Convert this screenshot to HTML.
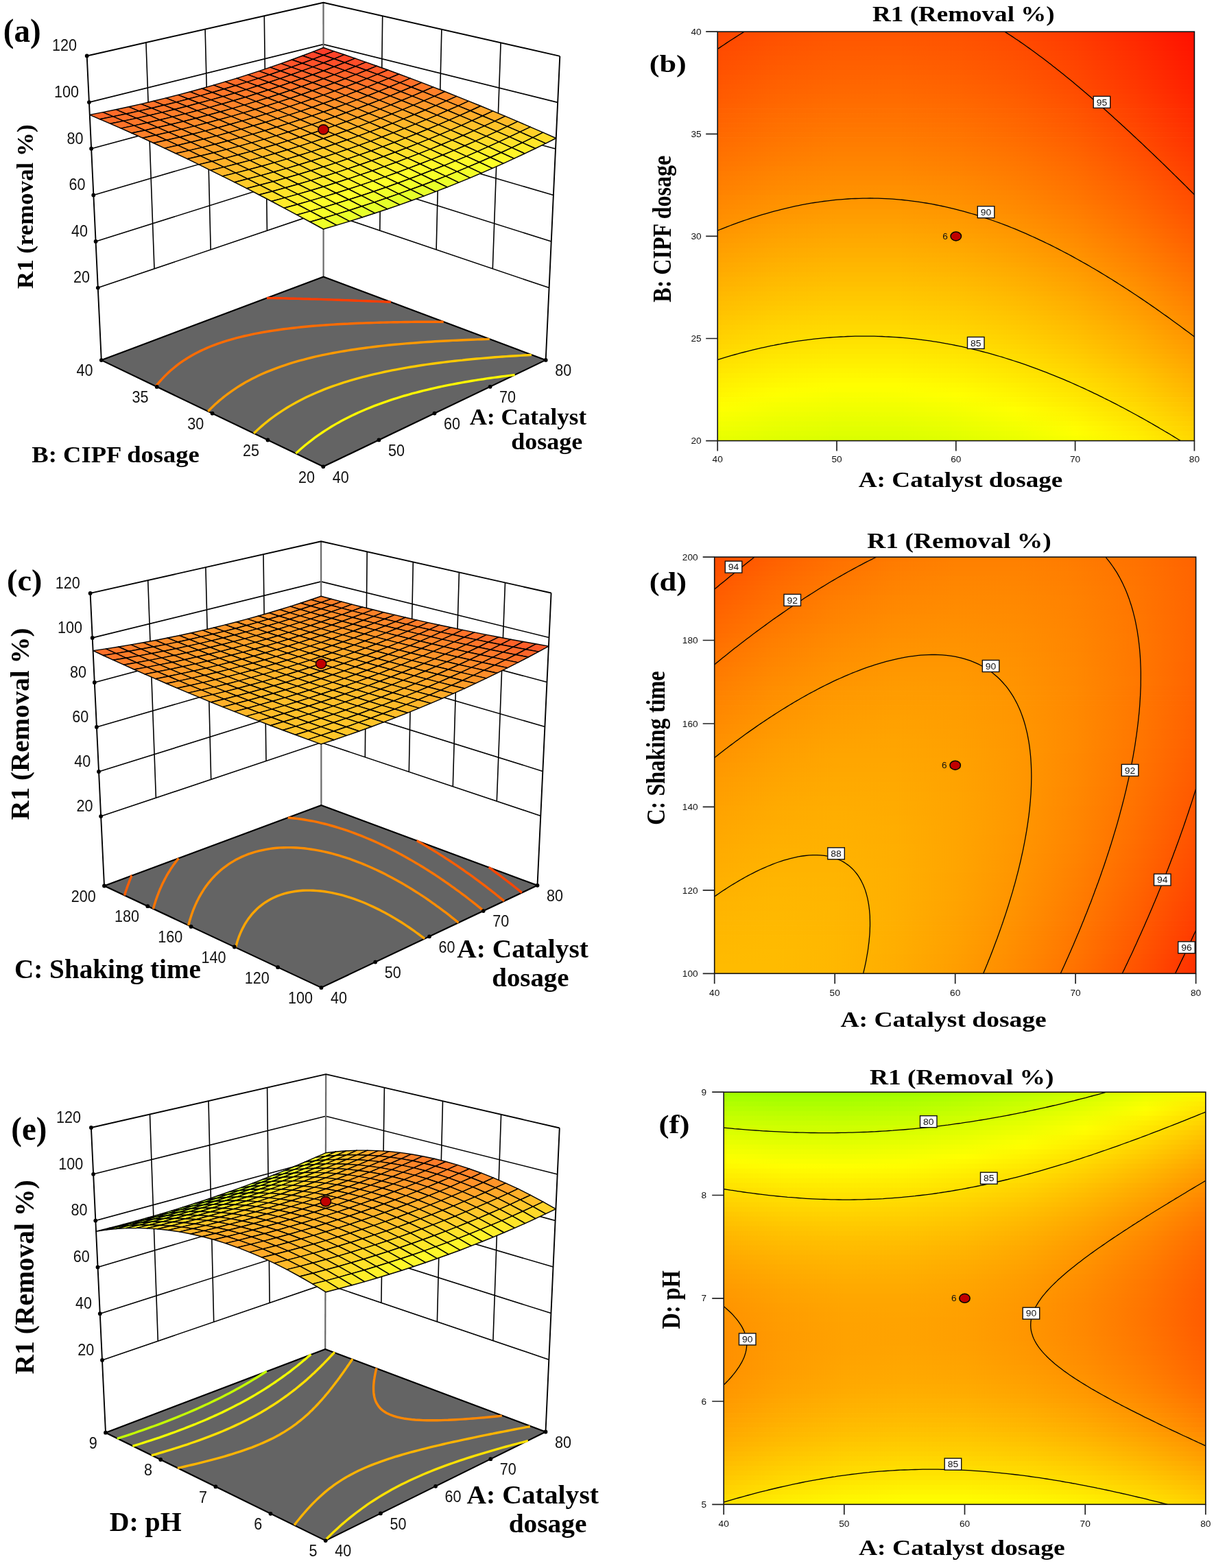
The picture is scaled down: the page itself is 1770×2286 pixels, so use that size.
<!DOCTYPE html><html><head><meta charset="utf-8"><style>html,body{margin:0;padding:0;background:#fff}svg{display:block}</style></head><body><svg width="1770" height="2286" viewBox="0 0 1770 2286">
<style>text{fill:#000}.tk{font-family:"Liberation Sans",sans-serif;fill:#111}.zt{font-family:"Liberation Sans",sans-serif;fill:#111}.ti{font-family:"Liberation Serif",serif;font-weight:bold}</style>
<rect width="1770" height="2286" fill="#fff"/>
<path d="M142.8 419.6 L471.6 308.4 L800.6 419.6 M139.6 352 L471.6 247.5 L803.7 352 M136.3 284.4 L471.5 186.5 L806.9 284.5 M133.1 216.7 L471.5 125.6 L810 217 M129.9 149.1 L471.5 64.6 L813.2 149.4 M212.9 62 L225 391.8 M299.1 42.6 L307.2 364 M385.3 23.2 L389.4 336.2 M557.7 23.2 L553.8 336.2 M643.9 42.8 L636.1 364 M730.1 62.4 L718.3 391.8" stroke="#000" stroke-width="1.6" fill="none"/>
<path d="M471.5 3.7 L471.6 403.5" stroke="#6a6a6a" stroke-width="2.2" fill="none"/>
<path d="M126.7 81.5 L471.5 3.7 L816.3 81.9 M126.7 81.5 L147.8 525.1 M816.3 81.9 L795.7 524.9" stroke="#000" stroke-width="1.9" fill="none" stroke-linejoin="round"/>
<path d="M147.8 525.1 L471.6 403.5 L795.7 524.9 L471.3 680.3 Z" fill="#646464" stroke="#000" stroke-width="2.1" stroke-linejoin="round"/>
<path d="M431.3 661 434.7 658 438 655 441.5 652 444.7 649.3 447.9 646.7 451.2 644.1 454.8 641.3 458.6 638.4 462.8 635.4 466.9 632.6 470.7 630 474.7 627.4 478.7 624.9 483.6 621.8 487.7 619.4 492.9 616.4 497.1 614.1 502.4 611.3 507.9 608.5 513.4 605.8 517.9 603.6 523.6 601 528.2 599 534 596.5 540 594.1 546 591.7 550.9 589.8 557.1 587.6 562.1 585.8 568.4 583.6 573.6 581.9 578.8 580.3 584.1 578.7 589.6 577 595.6 575.3 601.2 573.7 606.6 572.3 611.8 571 616.9 569.7 622.6 568.3 628.3 567 634.1 565.6 639.2 564.5 644.4 563.4 650.3 562.2 655.3 561.2 660.9 560.1 666.7 559 671.6 558.1 677.6 557 682.4 556.2 688 555.3 693.5 554.4 698.2 553.6 704.7 552.7 709.5 551.9 714.4 551.2 720.6 550.4 725.9 549.7 730.8 549 735.9 548.4 741.9 547.6 747.6 546.9 750.7 546.6" fill="none" stroke="#fff700" stroke-width="3.4"/>
<path d="M370.1 631.7 373.3 628.7 375.7 626.4 379 623.5 382.3 620.6 385.1 618.2 388.3 615.7 391.7 612.9 395.3 610.2 398.9 607.5 402.5 604.9 406.2 602.4 410 599.8 413.8 597.4 418.7 594.3 422.7 591.9 426.7 589.6 431.8 586.8 436 584.5 441.3 581.8 446.7 579.1 451.1 577 456.7 574.5 462.4 572 468.2 569.6 472.9 567.7 478.8 565.4 484.9 563.2 489.8 561.5 496.1 559.4 501.2 557.7 506.3 556.1 512 554.4 518.1 552.6 523.5 551.1 528.9 549.7 534.4 548.3 540 546.9 545.2 545.6 549.9 544.6 555.6 543.3 561.4 542 567.1 540.8 571.6 539.9 577.6 538.8 582.7 537.8 588.2 536.8 593.6 535.9 598.9 535 604.1 534.2 609.9 533.2 614.6 532.5 620.6 531.6 625.9 530.9 630.7 530.2 636.3 529.5 642.2 528.7 647.1 528.1 652.1 527.5 657.2 526.9 663 526.3 668.7 525.6 674.1 525.1 679.3 524.5 684.5 524 689.7 523.5 694.9 523 700.2 522.6 705.5 522.1 710.8 521.7 716.2 521.2 721.6 520.8 727 520.4 732.4 520 737.9 519.6 743 519.3 748 519 753 518.7 758.2 518.4 763.8 518 769.4 517.7 775 517.4" fill="none" stroke="#ffc900" stroke-width="3.4"/>
<path d="M303.4 599.7 305.7 597.3 308.5 594.4 310.8 592.2 313.9 589.3 316.6 586.9 319.4 584.4 322.7 581.7 325.5 579.4 328.5 577 332 574.4 335.5 571.8 339 569.3 342.7 566.8 346.4 564.4 350.2 562 354 559.7 358.1 557.3 362.9 554.7 367 552.5 372.2 549.9 376.5 547.8 381.9 545.3 387.4 542.9 393.1 540.6 398.9 538.3 404.8 536.1 409.6 534.3 415.7 532.3 420.6 530.6 427 528.7 432.1 527.2 437.3 525.7 442.6 524.3 448 522.9 453.5 521.5 459 520.2 464.6 518.9 470.3 517.7 475.6 516.6 480.4 515.6 486.3 514.5 491.4 513.6 496.7 512.6 502.3 511.7 507.4 510.9 512.7 510 518.3 509.2 523 508.5 528.9 507.7 534.2 507 539.1 506.4 544.2 505.7 550.1 505 555.5 504.4 560.5 503.9 565.6 503.3 570.7 502.8 575.8 502.3 580.9 501.9 586.3 501.4 591.6 500.9 596.8 500.5 602 500.1 607.2 499.7 612.5 499.3 617.9 498.9 623.3 498.5 628.8 498.2 634.2 497.8 639.6 497.5 644.5 497.3 649.3 497 654.6 496.7 660.2 496.4 665.8 496.2 670.6 496 675.3 495.8 681 495.5 686.7 495.3 691.5 495.1 696.3 494.9 702.1 494.7 707.5 494.6 712 494.4 713.8 494.4" fill="none" stroke="#ff9a00" stroke-width="3.4"/>
<path d="M227.2 563.2 229.1 560.7 231.3 558.1 233.6 555.5 235.5 553.3 237.6 551.1 240.2 548.4 242.5 546.1 244.7 544 247.6 541.3 249.9 539.3 253 536.7 255.5 534.6 258.6 532.2 261.9 529.7 265.2 527.4 268.1 525.4 271.5 523.2 275.1 520.9 279.3 518.5 283.7 516 287.6 514 291.7 511.9 296.9 509.5 302.2 507.1 306.6 505.3 312.2 503.1 316.8 501.4 322.7 499.3 328.8 497.4 333.7 495.9 339.1 494.3 345.2 492.7 350.5 491.3 355.9 490 361.4 488.8 366.8 487.6 371.2 486.7 376.9 485.6 382.8 484.5 387.2 483.8 393.2 482.8 397.7 482.1 403.9 481.2 408.5 480.5 413.7 479.8 419.6 479.1 424.5 478.5 429.3 478 434.4 477.4 440 476.8 445.5 476.3 450.8 475.8 456.1 475.3 461.3 474.9 466.5 474.5 471.6 474.1 476.6 473.8 481.6 473.4 486.5 473.1 491.4 472.8 496.7 472.5 502.1 472.2 507.6 472 512.7 471.7 517.3 471.5 522.4 471.3 528 471.1 533.3 470.9 537.8 470.7 543.2 470.6 548.9 470.4 553.4 470.3 558.6 470.1 564.4 470 568.7 469.9 574.2 469.8 579.5 469.7 584 469.6 590 469.5 594.5 469.5 599.9 469.4 605.1 469.3 610 469.3 615.6 469.3 620.1 469.2 626 469.2 630.3 469.2 636.4 469.2 640.5 469.2 646.7 469.2 646.7 469.2" fill="none" stroke="#ff6c00" stroke-width="3.4"/>
<path d="M388.9 434.5 393.3 434.6 398.4 434.6 403.7 434.7 407.9 434.8 413.6 434.9 418.4 435 423 435.2 428.7 435.3 433.3 435.4 438 435.5 443.6 435.7 448.3 435.8 452.9 436 458.4 436.1 463.4 436.3 467.7 436.4 473.2 436.6 478.6 436.8 483 436.9 487.9 437.1 493.4 437.3 498.4 437.5 502.8 437.6 508 437.8 513.5 438 518.3 438.2 522.7 438.4 528.1 438.6 533.6 438.8 538.4 439 542.9 439.2 548.1 439.4 553.5 439.6 558.6 439.8 563.1 440 568 440.2 569.9 440.3" fill="none" stroke="#ff3e00" stroke-width="3.4"/>
<circle cx="142.8" cy="419.6" r="2.9"/><circle cx="139.6" cy="352" r="2.9"/><circle cx="136.3" cy="284.4" r="2.9"/><circle cx="133.1" cy="216.7" r="2.9"/><circle cx="129.9" cy="149.1" r="2.9"/><circle cx="126.7" cy="81.5" r="2.9"/><circle cx="147.8" cy="525.1" r="2.9"/><circle cx="795.7" cy="524.9" r="2.9"/><circle cx="471.3" cy="680.3" r="2.9"/><circle cx="552.4" cy="641.4" r="2.9"/><circle cx="633.5" cy="602.6" r="2.9"/><circle cx="714.6" cy="563.8" r="2.9"/><circle cx="390.4" cy="641.5" r="2.9"/><circle cx="309.6" cy="602.7" r="2.9"/><circle cx="228.7" cy="563.9" r="2.9"/>
<g stroke="#000" stroke-width="1.45" stroke-linejoin="round">
<path d="M471.6 80.5 486.8 74.6 471.6 69.5 456.4 75.4Z" fill="#ff3d29"/><path d="M456.2 86.4 471.6 80.5 456.4 75.4 441 81.3Z" fill="#ff4529"/><path d="M487 85.8 502.2 79.7 486.8 74.6 471.6 80.5Z" fill="#ff4229"/><path d="M440.7 92.2 456.2 86.4 441 81.3 425.4 87Z" fill="#ff4c29"/><path d="M471.6 91.8 487 85.8 471.6 80.5 456.2 86.4Z" fill="#ff4a29"/><path d="M502.5 91.2 517.8 85.1 502.2 79.7 487 85.8Z" fill="#ff4729"/><path d="M424.9 97.9 440.7 92.2 425.4 87 409.7 92.6Z" fill="#ff5329"/><path d="M456 97.6 471.6 91.8 456.2 86.4 440.7 92.2Z" fill="#ff5129"/><path d="M487.1 97.2 502.5 91.2 487 85.8 471.6 91.8Z" fill="#ff4f29"/><path d="M518.3 96.8 533.5 90.6 517.8 85.1 502.5 91.2Z" fill="#ff4d29"/><path d="M409 103.5 424.9 97.9 409.7 92.6 393.8 98.1Z" fill="#ff5929"/><path d="M440.3 103.4 456 97.6 440.7 92.2 424.9 97.9Z" fill="#ff5829"/><path d="M471.6 103.2 487.1 97.2 471.6 91.8 456 97.6Z" fill="#ff5729"/><path d="M502.9 102.9 518.3 96.8 502.5 91.2 487.1 97.2Z" fill="#ff5529"/><path d="M534.2 102.5 549.4 96.2 533.5 90.6 518.3 96.8Z" fill="#ff5329"/><path d="M392.9 109 409 103.5 393.8 98.1 377.7 103.6Z" fill="#ff5f29"/><path d="M424.4 109 440.3 103.4 424.9 97.9 409 103.5Z" fill="#ff5e29"/><path d="M455.8 109 471.6 103.2 456 97.6 440.3 103.4Z" fill="#ff5e29"/><path d="M487.3 108.9 502.9 102.9 487.1 97.2 471.6 103.2Z" fill="#ff5d29"/><path d="M518.8 108.6 534.2 102.5 518.3 96.8 502.9 102.9Z" fill="#ff5b29"/><path d="M550.3 108.4 565.5 102 549.4 96.2 534.2 102.5Z" fill="#ff5a29"/><path d="M439.9 114.7 455.8 109 440.3 103.4 424.4 109Z" fill="#ff6429"/><path d="M408.3 114.6 424.4 109 409 103.5 392.9 109Z" fill="#ff6429"/><path d="M471.6 114.7 487.3 108.9 471.6 103.2 455.8 109Z" fill="#ff6429"/><path d="M376.6 114.4 392.9 109 377.7 103.6 361.4 108.9Z" fill="#ff6429"/><path d="M503.2 114.7 518.8 108.6 502.9 102.9 487.3 108.9Z" fill="#ff6329"/><path d="M534.9 114.6 550.3 108.4 534.2 102.5 518.8 108.6Z" fill="#ff6229"/><path d="M566.5 114.4 581.7 108 565.5 102 550.3 108.4Z" fill="#ff6129"/><path d="M487.5 120.7 503.2 114.7 487.3 108.9 471.6 114.7Z" fill="#ff6a29"/><path d="M455.7 120.5 471.6 114.7 455.8 109 439.9 114.7Z" fill="#ff6a29"/><path d="M519.3 120.7 534.9 114.6 518.8 108.6 503.2 114.7Z" fill="#ff6a29"/><path d="M423.8 120.3 439.9 114.7 424.4 109 408.3 114.6Z" fill="#ff6a29"/><path d="M551.1 120.7 566.5 114.4 550.3 108.4 534.9 114.6Z" fill="#ff6929"/><path d="M392 120 408.3 114.6 392.9 109 376.6 114.4Z" fill="#ff6929"/><path d="M583 120.6 598.2 114.1 581.7 108 566.5 114.4Z" fill="#ff6829"/><path d="M360.1 119.6 376.6 114.4 361.4 108.9 345 114.1Z" fill="#ff6829"/><path d="M535.6 126.9 551.1 120.7 534.9 114.6 519.3 120.7Z" fill="#ff7129"/><path d="M503.6 126.8 519.3 120.7 503.2 114.7 487.5 120.7Z" fill="#ff7129"/><path d="M567.6 127 583 120.6 566.5 114.4 551.1 120.7Z" fill="#ff7029"/><path d="M471.6 126.5 487.5 120.7 471.6 114.7 455.7 120.5Z" fill="#ff7029"/><path d="M599.6 127 614.8 120.4 598.2 114.1 583 120.6Z" fill="#ff7029"/><path d="M439.5 126.2 455.7 120.5 439.9 114.7 423.8 120.3Z" fill="#ff7029"/><path d="M407.5 125.8 423.8 120.3 408.3 114.6 392 120Z" fill="#ff6f29"/><path d="M375.5 125.3 392 120 376.6 114.4 360.1 119.6Z" fill="#ff6d29"/><path d="M343.5 124.8 360.1 119.6 345 114.1 328.3 119.1Z" fill="#ff6c29"/><path d="M584.2 133.5 599.6 127 583 120.6 567.6 127Z" fill="#ff7829"/><path d="M616.4 133.5 631.6 126.9 614.8 120.4 599.6 127Z" fill="#ff7829"/><path d="M552 133.3 567.6 127 551.1 120.7 535.6 126.9Z" fill="#ff7829"/><path d="M519.9 133 535.6 126.9 519.3 120.7 503.6 126.8Z" fill="#ff7829"/><path d="M487.7 132.7 503.6 126.8 487.5 120.7 471.6 126.5Z" fill="#ff7729"/><path d="M455.5 132.3 471.6 126.5 455.7 120.5 439.5 126.2Z" fill="#ff7629"/><path d="M423.3 131.8 439.5 126.2 423.8 120.3 407.5 125.8Z" fill="#ff7429"/><path d="M391 131.2 407.5 125.8 392 120 375.5 125.3Z" fill="#ff7329"/><path d="M358.8 130.6 375.5 125.3 360.1 119.6 343.5 124.8Z" fill="#ff7129"/><path d="M326.6 129.8 343.5 124.8 328.3 119.1 311.4 124.1Z" fill="#ff6e29"/><path d="M633.4 140.3 648.6 133.5 631.6 126.9 616.4 133.5Z" fill="#ff8029"/><path d="M601.1 140.1 616.4 133.5 599.6 127 584.2 133.5Z" fill="#ff8029"/><path d="M568.7 139.8 584.2 133.5 567.6 127 552 133.3Z" fill="#ff8029"/><path d="M536.3 139.5 552 133.3 535.6 126.9 519.9 133Z" fill="#ff7f29"/><path d="M503.9 139.1 519.9 133 503.6 126.8 487.7 132.7Z" fill="#ff7e29"/><path d="M471.6 138.6 487.7 132.7 471.6 126.5 455.5 132.3Z" fill="#ff7c29"/><path d="M439.2 138 455.5 132.3 439.5 126.2 423.3 131.8Z" fill="#ff7b29"/><path d="M406.8 137.3 423.3 131.8 407.5 125.8 391 131.2Z" fill="#ff7929"/><path d="M374.4 136.5 391 131.2 375.5 125.3 358.8 130.6Z" fill="#ff7629"/><path d="M342 135.7 358.8 130.6 343.5 124.8 326.6 129.8Z" fill="#ff7429"/><path d="M309.5 134.8 326.6 129.8 311.4 124.1 294.4 129Z" fill="#ff7129"/><path d="M650.7 147.2 665.8 140.4 648.6 133.5 633.4 140.3Z" fill="#ff8929"/><path d="M618.1 146.9 633.4 140.3 616.4 133.5 601.1 140.1Z" fill="#ff8929"/><path d="M585.5 146.5 601.1 140.1 584.2 133.5 568.7 139.8Z" fill="#ff8829"/><path d="M553 146.1 568.7 139.8 552 133.3 536.3 139.5Z" fill="#ff8729"/><path d="M520.4 145.6 536.3 139.5 519.9 133 503.9 139.1Z" fill="#ff8529"/><path d="M487.8 145 503.9 139.1 487.7 132.7 471.6 138.6Z" fill="#ff8429"/><path d="M455.3 144.3 471.6 138.6 455.5 132.3 439.2 138Z" fill="#ff8129"/><path d="M422.7 143.5 439.2 138 423.3 131.8 406.8 137.3Z" fill="#ff7f29"/><path d="M390.1 142.7 406.8 137.3 391 131.2 374.4 136.5Z" fill="#ff7c29"/><path d="M357.5 141.7 374.4 136.5 358.8 130.6 342 135.7Z" fill="#ff7929"/><path d="M324.9 140.7 342 135.7 326.6 129.8 309.5 134.8Z" fill="#ff7629"/><path d="M292.2 139.6 309.5 134.8 294.4 129 277.1 133.7Z" fill="#ff7229"/><path d="M668.1 154.3 683.2 147.4 665.8 140.4 650.7 147.2Z" fill="#ff9229"/><path d="M635.3 153.9 650.7 147.2 633.4 140.3 618.1 146.9Z" fill="#ff9229"/><path d="M602.6 153.4 618.1 146.9 601.1 140.1 585.5 146.5Z" fill="#ff9029"/><path d="M569.8 152.9 585.5 146.5 568.7 139.8 553 146.1Z" fill="#ff8f29"/><path d="M537.1 152.3 553 146.1 536.3 139.5 520.4 145.6Z" fill="#ff8d29"/><path d="M504.3 151.6 520.4 145.6 503.9 139.1 487.8 145Z" fill="#ff8b29"/><path d="M471.5 150.8 487.8 145 471.6 138.6 455.3 144.3Z" fill="#ff8929"/><path d="M438.8 149.9 455.3 144.3 439.2 138 422.7 143.5Z" fill="#ff8629"/><path d="M406 148.9 422.7 143.5 406.8 137.3 390.1 142.7Z" fill="#ff8329"/><path d="M373.2 147.9 390.1 142.7 374.4 136.5 357.5 141.7Z" fill="#ff7f29"/><path d="M340.4 146.8 357.5 141.7 342 135.7 324.9 140.7Z" fill="#ff7c29"/><path d="M307.6 145.6 324.9 140.7 309.5 134.8 292.2 139.6Z" fill="#ff7829"/><path d="M274.7 144.3 292.2 139.6 277.1 133.7 259.6 138.4Z" fill="#ff7329"/><path d="M685.7 161.5 700.8 154.5 683.2 147.4 668.1 154.3Z" fill="#ff9c29"/><path d="M652.7 161 668.1 154.3 650.7 147.2 635.3 153.9Z" fill="#ff9b29"/><path d="M619.8 160.5 635.3 153.9 618.1 146.9 602.6 153.4Z" fill="#ff9929"/><path d="M586.9 159.9 602.6 153.4 585.5 146.5 569.8 152.9Z" fill="#ff9729"/><path d="M553.9 159.1 569.8 152.9 553 146.1 537.1 152.3Z" fill="#ff9529"/><path d="M521 158.3 537.1 152.3 520.4 145.6 504.3 151.6Z" fill="#ff9329"/><path d="M488 157.5 504.3 151.6 487.8 145 471.5 150.8Z" fill="#ff9029"/><path d="M455.1 156.5 471.5 150.8 455.3 144.3 438.8 149.9Z" fill="#ff8d29"/><path d="M422.1 155.4 438.8 149.9 422.7 143.5 406 148.9Z" fill="#ff8929"/><path d="M389.1 154.3 406 148.9 390.1 142.7 373.2 147.9Z" fill="#ff8629"/><path d="M356.1 153.1 373.2 147.9 357.5 141.7 340.4 146.8Z" fill="#ff8229"/><path d="M323.1 151.7 340.4 146.8 324.9 140.7 307.6 145.6Z" fill="#ff7d29"/><path d="M290.1 150.3 307.6 145.6 292.2 139.6 274.7 144.3Z" fill="#ff7929"/><path d="M257 148.9 274.7 144.3 259.6 138.4 241.9 142.9Z" fill="#ff7429"/><path d="M703.5 169 718.6 161.9 700.8 154.5 685.7 161.5Z" fill="#ffa629"/><path d="M670.4 168.4 685.7 161.5 668.1 154.3 652.7 161Z" fill="#ffa429"/><path d="M637.2 167.8 652.7 161 635.3 153.9 619.8 160.5Z" fill="#ffa229"/><path d="M604.1 167 619.8 160.5 602.6 153.4 586.9 159.9Z" fill="#ffa029"/><path d="M571 166.2 586.9 159.9 569.8 152.9 553.9 159.1Z" fill="#ff9e29"/><path d="M537.8 165.3 553.9 159.1 537.1 152.3 521 158.3Z" fill="#ff9b29"/><path d="M504.7 164.3 521 158.3 504.3 151.6 488 157.5Z" fill="#ff9829"/><path d="M471.5 163.2 488 157.5 471.5 150.8 455.1 156.5Z" fill="#ff9429"/><path d="M438.4 162.1 455.1 156.5 438.8 149.9 422.1 155.4Z" fill="#ff9129"/><path d="M405.2 160.8 422.1 155.4 406 148.9 389.1 154.3Z" fill="#ff8c29"/><path d="M372 159.5 389.1 154.3 373.2 147.9 356.1 153.1Z" fill="#ff8829"/><path d="M338.8 158.1 356.1 153.1 340.4 146.8 323.1 151.7Z" fill="#ff8329"/><path d="M305.6 156.6 323.1 151.7 307.6 145.6 290.1 150.3Z" fill="#ff7e29"/><path d="M272.3 155 290.1 150.3 274.7 144.3 257 148.9Z" fill="#ff7929"/><path d="M239.1 153.3 257 148.9 241.9 142.9 224 147.3Z" fill="#ff7329"/><path d="M721.5 176.6 736.6 169.4 718.6 161.9 703.5 169Z" fill="#ffb029"/><path d="M688.2 175.9 703.5 169 685.7 161.5 670.4 168.4Z" fill="#ffae29"/><path d="M654.9 175.2 670.4 168.4 652.7 161 637.2 167.8Z" fill="#ffac29"/><path d="M621.5 174.4 637.2 167.8 619.8 160.5 604.1 167Z" fill="#ffaa29"/><path d="M588.2 173.4 604.1 167 586.9 159.9 571 166.2Z" fill="#ffa729"/><path d="M554.9 172.4 571 166.2 553.9 159.1 537.8 165.3Z" fill="#ffa329"/><path d="M521.6 171.3 537.8 165.3 521 158.3 504.7 164.3Z" fill="#ffa029"/><path d="M488.2 170.2 504.7 164.3 488 157.5 471.5 163.2Z" fill="#ff9c29"/><path d="M454.8 168.9 471.5 163.2 455.1 156.5 438.4 162.1Z" fill="#ff9829"/><path d="M421.5 167.6 438.4 162.1 422.1 155.4 405.2 160.8Z" fill="#ff9429"/><path d="M388.1 166.1 405.2 160.8 389.1 154.3 372 159.5Z" fill="#ff8f29"/><path d="M354.7 164.6 372 159.5 356.1 153.1 338.8 158.1Z" fill="#ff8a29"/><path d="M321.3 163 338.8 158.1 323.1 151.7 305.6 156.6Z" fill="#ff8429"/><path d="M287.8 161.3 305.6 156.6 290.1 150.3 272.3 155Z" fill="#ff7f29"/><path d="M254.4 159.5 272.3 155 257 148.9 239.1 153.3Z" fill="#ff7829"/><path d="M220.9 157.7 239.1 153.3 224 147.3 205.8 151.6Z" fill="#ff7229"/><path d="M739.7 184.4 754.8 177.2 736.6 169.4 721.5 176.6Z" fill="#ffbb29"/><path d="M706.2 183.7 721.5 176.6 703.5 169 688.2 175.9Z" fill="#ffb929"/><path d="M672.7 182.8 688.2 175.9 670.4 168.4 654.9 175.2Z" fill="#ffb629"/><path d="M639.2 181.9 654.9 175.2 637.2 167.8 621.5 174.4Z" fill="#ffb329"/><path d="M605.7 180.9 621.5 174.4 604.1 167 588.2 173.4Z" fill="#ffb029"/><path d="M572.2 179.8 588.2 173.4 571 166.2 554.9 172.4Z" fill="#ffac29"/><path d="M538.6 178.6 554.9 172.4 537.8 165.3 521.6 171.3Z" fill="#ffa929"/><path d="M505.1 177.3 521.6 171.3 504.7 164.3 488.2 170.2Z" fill="#ffa429"/><path d="M471.5 175.9 488.2 170.2 471.5 163.2 454.8 168.9Z" fill="#ffa029"/><path d="M437.9 174.5 454.8 168.9 438.4 162.1 421.5 167.6Z" fill="#ff9b29"/><path d="M404.4 172.9 421.5 167.6 405.2 160.8 388.1 166.1Z" fill="#ff9629"/><path d="M370.8 171.3 388.1 166.1 372 159.5 354.7 164.6Z" fill="#ff9029"/><path d="M337.1 169.6 354.7 164.6 338.8 158.1 321.3 163Z" fill="#ff8b29"/><path d="M303.5 167.8 321.3 163 305.6 156.6 287.8 161.3Z" fill="#ff8529"/><path d="M269.8 165.9 287.8 161.3 272.3 155 254.4 159.5Z" fill="#ff7e29"/><path d="M236.2 163.9 254.4 159.5 239.1 153.3 220.9 157.7Z" fill="#ff7729"/><path d="M202.5 161.9 220.9 157.7 205.8 151.6 187.4 155.7Z" fill="#ff7029"/><path d="M758.1 192.4 773.2 185.1 754.8 177.2 739.7 184.4Z" fill="#ffc629"/><path d="M724.4 191.6 739.7 184.4 721.5 176.6 706.2 183.7Z" fill="#ffc329"/><path d="M690.8 190.6 706.2 183.7 688.2 175.9 672.7 182.8Z" fill="#ffc029"/><path d="M657.1 189.6 672.7 182.8 654.9 175.2 639.2 181.9Z" fill="#ffbd29"/><path d="M623.3 188.5 639.2 181.9 621.5 174.4 605.7 180.9Z" fill="#ffba29"/><path d="M589.6 187.3 605.7 180.9 588.2 173.4 572.2 179.8Z" fill="#ffb629"/><path d="M555.9 186 572.2 179.8 554.9 172.4 538.6 178.6Z" fill="#ffb129"/><path d="M522.1 184.6 538.6 178.6 521.6 171.3 505.1 177.3Z" fill="#ffad29"/><path d="M488.4 183.1 505.1 177.3 488.2 170.2 471.5 175.9Z" fill="#ffa829"/><path d="M454.6 181.6 471.5 175.9 454.8 168.9 437.9 174.5Z" fill="#ffa329"/><path d="M420.8 179.9 437.9 174.5 421.5 167.6 404.4 172.9Z" fill="#ff9d29"/><path d="M387 178.2 404.4 172.9 388.1 166.1 370.8 171.3Z" fill="#ff9829"/><path d="M353.2 176.4 370.8 171.3 354.7 164.6 337.1 169.6Z" fill="#ff9129"/><path d="M319.4 174.5 337.1 169.6 321.3 163 303.5 167.8Z" fill="#ff8b29"/><path d="M285.5 172.5 303.5 167.8 287.8 161.3 269.8 165.9Z" fill="#ff8429"/><path d="M251.6 170.4 269.8 165.9 254.4 159.5 236.2 163.9Z" fill="#ff7d29"/><path d="M217.7 168.2 236.2 163.9 220.9 157.7 202.5 161.9Z" fill="#ff7629"/><path d="M183.8 166 202.5 161.9 187.4 155.7 168.8 159.7Z" fill="#ff6e29"/><path d="M776.8 200.7 791.8 193.2 773.2 185.1 758.1 192.4Z" fill="#ffd129"/><path d="M742.9 199.7 758.1 192.4 739.7 184.4 724.4 191.6Z" fill="#ffcf29"/><path d="M709 198.7 724.4 191.6 706.2 183.7 690.8 190.6Z" fill="#ffcb29"/><path d="M675.1 197.5 690.8 190.6 672.7 182.8 657.1 189.6Z" fill="#ffc829"/><path d="M641.2 196.3 657.1 189.6 639.2 181.9 623.3 188.5Z" fill="#ffc429"/><path d="M607.3 195 623.3 188.5 605.7 180.9 589.6 187.3Z" fill="#ffbf29"/><path d="M573.4 193.6 589.6 187.3 572.2 179.8 555.9 186Z" fill="#ffbb29"/><path d="M539.4 192.1 555.9 186 538.6 178.6 522.1 184.6Z" fill="#ffb629"/><path d="M505.5 190.5 522.1 184.6 505.1 177.3 488.4 183.1Z" fill="#ffb129"/><path d="M471.5 188.9 488.4 183.1 471.5 175.9 454.6 181.6Z" fill="#ffab29"/><path d="M437.5 187.1 454.6 181.6 437.9 174.5 420.8 179.9Z" fill="#ffa529"/><path d="M403.5 185.3 420.8 179.9 404.4 172.9 387 178.2Z" fill="#ff9f29"/><path d="M369.5 183.3 387 178.2 370.8 171.3 353.2 176.4Z" fill="#ff9929"/><path d="M335.5 181.3 353.2 176.4 337.1 169.6 319.4 174.5Z" fill="#ff9229"/><path d="M301.4 179.2 319.4 174.5 303.5 167.8 285.5 172.5Z" fill="#ff8b29"/><path d="M267.3 177 285.5 172.5 269.8 165.9 251.6 170.4Z" fill="#ff8329"/><path d="M233.2 174.8 251.6 170.4 236.2 163.9 217.7 168.2Z" fill="#ff7c29"/><path d="M199.1 172.4 217.7 168.2 202.5 161.9 183.8 166Z" fill="#ff7329"/><path d="M164.9 169.9 183.8 166 168.8 159.7 149.9 163.6Z" fill="#ff6b29"/><path d="M795.6 209.1 810.7 201.5 791.8 193.2 776.8 200.7Z" fill="#ffdd29"/><path d="M761.6 208 776.8 200.7 758.1 192.4 742.9 199.7Z" fill="#ffda29"/><path d="M727.5 206.9 742.9 199.7 724.4 191.6 709 198.7Z" fill="#ffd629"/><path d="M693.4 205.6 709 198.7 690.8 190.6 675.1 197.5Z" fill="#ffd229"/><path d="M659.3 204.3 675.1 197.5 657.1 189.6 641.2 196.3Z" fill="#ffce29"/><path d="M625.2 202.9 641.2 196.3 623.3 188.5 607.3 195Z" fill="#ffc929"/><path d="M591 201.4 607.3 195 589.6 187.3 573.4 193.6Z" fill="#ffc429"/><path d="M556.9 199.8 573.4 193.6 555.9 186 539.4 192.1Z" fill="#ffbf29"/><path d="M522.8 198.1 539.4 192.1 522.1 184.6 505.5 190.5Z" fill="#ffba29"/><path d="M488.6 196.3 505.5 190.5 488.4 183.1 471.5 188.9Z" fill="#ffb429"/><path d="M454.4 194.5 471.5 188.9 454.6 181.6 437.5 187.1Z" fill="#ffae29"/><path d="M420.2 192.5 437.5 187.1 420.8 179.9 403.5 185.3Z" fill="#ffa729"/><path d="M386 190.5 403.5 185.3 387 178.2 369.5 183.3Z" fill="#ffa029"/><path d="M351.7 188.4 369.5 183.3 353.2 176.4 335.5 181.3Z" fill="#ff9929"/><path d="M317.5 186.2 335.5 181.3 319.4 174.5 301.4 179.2Z" fill="#ff9229"/><path d="M283.2 183.9 301.4 179.2 285.5 172.5 267.3 177Z" fill="#ff8a29"/><path d="M248.8 181.5 267.3 177 251.6 170.4 233.2 174.8Z" fill="#ff8229"/><path d="M214.5 179 233.2 174.8 217.7 168.2 199.1 172.4Z" fill="#ff7929"/><path d="M180.1 176.4 199.1 172.4 183.8 166 164.9 169.9Z" fill="#ff7029"/><path d="M145.7 173.8 164.9 169.9 149.9 163.6 130.7 167.4Z" fill="#ff6729"/><path d="M780.5 216.5 795.6 209.1 776.8 200.7 761.6 208Z" fill="#ffe629"/><path d="M746.2 215.3 761.6 208 742.9 199.7 727.5 206.9Z" fill="#ffe229"/><path d="M711.9 213.9 727.5 206.9 709 198.7 693.4 205.6Z" fill="#ffdd29"/><path d="M677.6 212.5 693.4 205.6 675.1 197.5 659.3 204.3Z" fill="#ffd929"/><path d="M643.3 211 659.3 204.3 641.2 196.3 625.2 202.9Z" fill="#ffd429"/><path d="M608.9 209.4 625.2 202.9 607.3 195 591 201.4Z" fill="#ffcf29"/><path d="M574.6 207.7 591 201.4 573.4 193.6 556.9 199.8Z" fill="#ffc929"/><path d="M540.3 205.9 556.9 199.8 539.4 192.1 522.8 198.1Z" fill="#ffc329"/><path d="M505.9 204 522.8 198.1 505.5 190.5 488.6 196.3Z" fill="#ffbd29"/><path d="M471.5 202 488.6 196.3 471.5 188.9 454.4 194.5Z" fill="#ffb629"/><path d="M437.1 200 454.4 194.5 437.5 187.1 420.2 192.5Z" fill="#ffaf29"/><path d="M402.6 197.9 420.2 192.5 403.5 185.3 386 190.5Z" fill="#ffa829"/><path d="M368.2 195.6 386 190.5 369.5 183.3 351.7 188.4Z" fill="#ffa129"/><path d="M333.7 193.3 351.7 188.4 335.5 181.3 317.5 186.2Z" fill="#ff9929"/><path d="M299.2 190.9 317.5 186.2 301.4 179.2 283.2 183.9Z" fill="#ff9129"/><path d="M264.7 188.4 283.2 183.9 267.3 177 248.8 181.5Z" fill="#ff8829"/><path d="M230.1 185.8 248.8 181.5 233.2 174.8 214.5 179Z" fill="#ff7f29"/><path d="M195.6 183.1 214.5 179 199.1 172.4 180.1 176.4Z" fill="#ff7629"/><path d="M161 180.3 180.1 176.4 164.9 169.9 145.7 173.8Z" fill="#ff6d29"/><path d="M765.1 223.9 780.5 216.5 761.6 208 746.2 215.3Z" fill="#ffee29"/><path d="M730.6 222.5 746.2 215.3 727.5 206.9 711.9 213.9Z" fill="#ffe929"/><path d="M696.1 220.9 711.9 213.9 693.4 205.6 677.6 212.5Z" fill="#ffe429"/><path d="M661.6 219.3 677.6 212.5 659.3 204.3 643.3 211Z" fill="#ffdf29"/><path d="M627.1 217.6 643.3 211 625.2 202.9 608.9 209.4Z" fill="#ffd929"/><path d="M592.5 215.8 608.9 209.4 591 201.4 574.6 207.7Z" fill="#ffd329"/><path d="M558 213.9 574.6 207.7 556.9 199.8 540.3 205.9Z" fill="#ffcd29"/><path d="M523.4 211.9 540.3 205.9 522.8 198.1 505.9 204Z" fill="#ffc629"/><path d="M488.8 209.8 505.9 204 488.6 196.3 471.5 202Z" fill="#ffbf29"/><path d="M454.2 207.6 471.5 202 454.4 194.5 437.1 200Z" fill="#ffb829"/><path d="M419.5 205.4 437.1 200 420.2 192.5 402.6 197.9Z" fill="#ffb029"/><path d="M384.9 203.1 402.6 197.9 386 190.5 368.2 195.6Z" fill="#ffa929"/><path d="M350.2 200.6 368.2 195.6 351.7 188.4 333.7 193.3Z" fill="#ffa029"/><path d="M315.5 198.1 333.7 193.3 317.5 186.2 299.2 190.9Z" fill="#ff9829"/><path d="M280.7 195.5 299.2 190.9 283.2 183.9 264.7 188.4Z" fill="#ff8f29"/><path d="M246 192.8 264.7 188.4 248.8 181.5 230.1 185.8Z" fill="#ff8629"/><path d="M211.2 190 230.1 185.8 214.5 179 195.6 183.1Z" fill="#ff7c29"/><path d="M176.4 187.1 195.6 183.1 180.1 176.4 161 180.3Z" fill="#ff7329"/><path d="M749.5 231.2 765.1 223.9 746.2 215.3 730.6 222.5Z" fill="#fff529"/><path d="M714.8 229.5 730.6 222.5 711.9 213.9 696.1 220.9Z" fill="#ffef29"/><path d="M680.1 227.8 696.1 220.9 677.6 212.5 661.6 219.3Z" fill="#ffea29"/><path d="M645.4 226 661.6 219.3 643.3 211 627.1 217.6Z" fill="#ffe429"/><path d="M610.6 224.1 627.1 217.6 608.9 209.4 592.5 215.8Z" fill="#ffdd29"/><path d="M575.9 222 592.5 215.8 574.6 207.7 558 213.9Z" fill="#ffd729"/><path d="M541.1 220 558 213.9 540.3 205.9 523.4 211.9Z" fill="#ffd029"/><path d="M506.3 217.8 523.4 211.9 505.9 204 488.8 209.8Z" fill="#ffc929"/><path d="M471.5 215.5 488.8 209.8 471.5 202 454.2 207.6Z" fill="#ffc129"/><path d="M436.6 213.1 454.2 207.6 437.1 200 419.5 205.4Z" fill="#ffb929"/><path d="M401.8 210.7 419.5 205.4 402.6 197.9 384.9 203.1Z" fill="#ffb129"/><path d="M366.9 208.1 384.9 203.1 368.2 195.6 350.2 200.6Z" fill="#ffa829"/><path d="M331.9 205.5 350.2 200.6 333.7 193.3 315.5 198.1Z" fill="#ff9f29"/><path d="M297 202.8 315.5 198.1 299.2 190.9 280.7 195.5Z" fill="#ff9629"/><path d="M262 200 280.7 195.5 264.7 188.4 246 192.8Z" fill="#ff8d29"/><path d="M227 197 246 192.8 230.1 185.8 211.2 190Z" fill="#ff8329"/><path d="M192 194 211.2 190 195.6 183.1 176.4 187.1Z" fill="#ff7929"/><path d="M733.8 238.4 749.5 231.2 730.6 222.5 714.8 229.5Z" fill="#fffb29"/><path d="M698.9 236.5 714.8 229.5 696.1 220.9 680.1 227.8Z" fill="#fff529"/><path d="M663.9 234.6 680.1 227.8 661.6 219.3 645.4 226Z" fill="#ffef29"/><path d="M629 232.6 645.4 226 627.1 217.6 610.6 224.1Z" fill="#ffe829"/><path d="M594 230.4 610.6 224.1 592.5 215.8 575.9 222Z" fill="#ffe129"/><path d="M559 228.2 575.9 222 558 213.9 541.1 220Z" fill="#ffda29"/><path d="M524 225.9 541.1 220 523.4 211.9 506.3 217.8Z" fill="#ffd229"/><path d="M489 223.6 506.3 217.8 488.8 209.8 471.5 215.5Z" fill="#ffca29"/><path d="M453.9 221.1 471.5 215.5 454.2 207.6 436.6 213.1Z" fill="#ffc229"/><path d="M418.9 218.5 436.6 213.1 419.5 205.4 401.8 210.7Z" fill="#ffba29"/><path d="M383.8 215.8 401.8 210.7 384.9 203.1 366.9 208.1Z" fill="#ffb129"/><path d="M348.6 213.1 366.9 208.1 350.2 200.6 331.9 205.5Z" fill="#ffa729"/><path d="M313.5 210.3 331.9 205.5 315.5 198.1 297 202.8Z" fill="#ff9e29"/><path d="M278.3 207.3 297 202.8 280.7 195.5 262 200Z" fill="#ff9429"/><path d="M243 204.3 262 200 246 192.8 227 197Z" fill="#ff8a29"/><path d="M207.8 201.2 227 197 211.2 190 192 194Z" fill="#ff7f29"/><path d="M717.9 245.4 733.8 238.4 714.8 229.5 698.9 236.5Z" fill="#fdff29"/><path d="M682.7 243.4 698.9 236.5 680.1 227.8 663.9 234.6Z" fill="#fffb29"/><path d="M647.6 241.3 663.9 234.6 645.4 226 629 232.6Z" fill="#fff429"/><path d="M612.4 239 629 232.6 610.6 224.1 594 230.4Z" fill="#ffec29"/><path d="M577.2 236.7 594 230.4 575.9 222 559 228.2Z" fill="#ffe429"/><path d="M542 234.3 559 228.2 541.1 220 524 225.9Z" fill="#ffdc29"/><path d="M506.7 231.8 524 225.9 506.3 217.8 489 223.6Z" fill="#ffd429"/><path d="M471.5 229.2 489 223.6 471.5 215.5 453.9 221.1Z" fill="#ffcc29"/><path d="M436.2 226.5 453.9 221.1 436.6 213.1 418.9 218.5Z" fill="#ffc329"/><path d="M400.8 223.8 418.9 218.5 401.8 210.7 383.8 215.8Z" fill="#ffb929"/><path d="M365.5 220.9 383.8 215.8 366.9 208.1 348.6 213.1Z" fill="#ffb029"/><path d="M330.1 217.9 348.6 213.1 331.9 205.5 313.5 210.3Z" fill="#ffa629"/><path d="M294.7 214.9 313.5 210.3 297 202.8 278.3 207.3Z" fill="#ff9c29"/><path d="M259.3 211.8 278.3 207.3 262 200 243 204.3Z" fill="#ff9129"/><path d="M223.8 208.5 243 204.3 227 197 207.8 201.2Z" fill="#ff8629"/><path d="M701.7 252.4 717.9 245.4 698.9 236.5 682.7 243.4Z" fill="#f7ff29"/><path d="M666.4 250.2 682.7 243.4 663.9 234.6 647.6 241.3Z" fill="#ffff29"/><path d="M631 247.8 647.6 241.3 629 232.6 612.4 239Z" fill="#fff729"/><path d="M595.6 245.4 612.4 239 594 230.4 577.2 236.7Z" fill="#ffef29"/><path d="M560.1 242.9 577.2 236.7 559 228.2 542 234.3Z" fill="#ffe729"/><path d="M524.7 240.3 542 234.3 524 225.9 506.7 231.8Z" fill="#ffde29"/><path d="M489.2 237.6 506.7 231.8 489 223.6 471.5 229.2Z" fill="#ffd529"/><path d="M453.7 234.8 471.5 229.2 453.9 221.1 436.2 226.5Z" fill="#ffcc29"/><path d="M418.2 231.9 436.2 226.5 418.9 218.5 400.8 223.8Z" fill="#ffc229"/><path d="M382.6 228.9 400.8 223.8 383.8 215.8 365.5 220.9Z" fill="#ffb829"/><path d="M347 225.8 365.5 220.9 348.6 213.1 330.1 217.9Z" fill="#ffae29"/><path d="M311.4 222.7 330.1 217.9 313.5 210.3 294.7 214.9Z" fill="#ffa429"/><path d="M275.7 219.4 294.7 214.9 278.3 207.3 259.3 211.8Z" fill="#ff9929"/><path d="M240 216.1 259.3 211.8 243 204.3 223.8 208.5Z" fill="#ff8e29"/><path d="M685.4 259.3 701.7 252.4 682.7 243.4 666.4 250.2Z" fill="#f3ff29"/><path d="M649.8 256.9 666.4 250.2 647.6 241.3 631 247.8Z" fill="#fbff29"/><path d="M614.2 254.3 631 247.8 612.4 239 595.6 245.4Z" fill="#fffb29"/><path d="M578.5 251.7 595.6 245.4 577.2 236.7 560.1 242.9Z" fill="#fff229"/><path d="M542.9 249 560.1 242.9 542 234.3 524.7 240.3Z" fill="#ffe929"/><path d="M507.2 246.1 524.7 240.3 506.7 231.8 489.2 237.6Z" fill="#ffe029"/><path d="M471.4 243.2 489.2 237.6 471.5 229.2 453.7 234.8Z" fill="#ffd629"/><path d="M435.7 240.2 453.7 234.8 436.2 226.5 418.2 231.9Z" fill="#ffcc29"/><path d="M399.9 237.1 418.2 231.9 400.8 223.8 382.6 228.9Z" fill="#ffc229"/><path d="M364.1 233.9 382.6 228.9 365.5 220.9 347 225.8Z" fill="#ffb729"/><path d="M328.2 230.6 347 225.8 330.1 217.9 311.4 222.7Z" fill="#ffac29"/><path d="M292.4 227.3 311.4 222.7 294.7 214.9 275.7 219.4Z" fill="#ffa129"/><path d="M256.4 223.8 275.7 219.4 259.3 211.8 240 216.1Z" fill="#ff9529"/><path d="M668.8 266.1 685.4 259.3 666.4 250.2 649.8 256.9Z" fill="#efff29"/><path d="M633 263.5 649.8 256.9 631 247.8 614.2 254.3Z" fill="#f8ff29"/><path d="M597.1 260.7 614.2 254.3 595.6 245.4 578.5 251.7Z" fill="#fffd29"/><path d="M561.3 257.9 578.5 251.7 560.1 242.9 542.9 249Z" fill="#fff429"/><path d="M525.4 254.9 542.9 249 524.7 240.3 507.2 246.1Z" fill="#ffea29"/><path d="M489.4 251.9 507.2 246.1 489.2 237.6 471.4 243.2Z" fill="#ffe029"/><path d="M453.5 248.8 471.4 243.2 453.7 234.8 435.7 240.2Z" fill="#ffd629"/><path d="M417.4 245.6 435.7 240.2 418.2 231.9 399.9 237.1Z" fill="#ffcb29"/><path d="M381.4 242.2 399.9 237.1 382.6 228.9 364.1 233.9Z" fill="#ffc029"/><path d="M345.3 238.8 364.1 233.9 347 225.8 328.2 230.6Z" fill="#ffb529"/><path d="M309.2 235.3 328.2 230.6 311.4 222.7 292.4 227.3Z" fill="#ffa929"/><path d="M273.1 231.7 292.4 227.3 275.7 219.4 256.4 223.8Z" fill="#ff9d29"/><path d="M652.1 272.8 668.8 266.1 649.8 256.9 633 263.5Z" fill="#ecff29"/><path d="M616 270 633 263.5 614.2 254.3 597.1 260.7Z" fill="#f5ff29"/><path d="M579.9 267 597.1 260.7 578.5 251.7 561.3 257.9Z" fill="#ffff29"/><path d="M543.8 263.9 561.3 257.9 542.9 249 525.4 254.9Z" fill="#fff529"/><path d="M507.6 260.8 525.4 254.9 507.2 246.1 489.4 251.9Z" fill="#ffeb29"/><path d="M471.4 257.5 489.4 251.9 471.4 243.2 453.5 248.8Z" fill="#ffe029"/><path d="M435.2 254.2 453.5 248.8 435.7 240.2 417.4 245.6Z" fill="#ffd529"/><path d="M399 250.8 417.4 245.6 399.9 237.1 381.4 242.2Z" fill="#ffca29"/><path d="M362.7 247.2 381.4 242.2 364.1 233.9 345.3 238.8Z" fill="#ffbe29"/><path d="M326.3 243.6 345.3 238.8 328.2 230.6 309.2 235.3Z" fill="#ffb229"/><path d="M290 239.9 309.2 235.3 292.4 227.3 273.1 231.7Z" fill="#ffa629"/><path d="M635.1 279.4 652.1 272.8 633 263.5 616 270Z" fill="#e9ff29"/><path d="M598.8 276.3 616 270 597.1 260.7 579.9 267Z" fill="#f3ff29"/><path d="M562.4 273.2 579.9 267 561.3 257.9 543.8 263.9Z" fill="#feff29"/><path d="M526.1 269.9 543.8 263.9 525.4 254.9 507.6 260.8Z" fill="#fff629"/><path d="M489.6 266.5 507.6 260.8 489.4 251.9 471.4 257.5Z" fill="#ffeb29"/><path d="M453.2 263.1 471.4 257.5 453.5 248.8 435.2 254.2Z" fill="#ffdf29"/><path d="M416.7 259.5 435.2 254.2 417.4 245.6 399 250.8Z" fill="#ffd329"/><path d="M380.2 255.9 399 250.8 381.4 242.2 362.7 247.2Z" fill="#ffc729"/><path d="M343.6 252.1 362.7 247.2 345.3 238.8 326.3 243.6Z" fill="#ffbb29"/><path d="M307 248.3 326.3 243.6 309.2 235.3 290 239.9Z" fill="#ffaf29"/><path d="M617.9 285.9 635.1 279.4 616 270 598.8 276.3Z" fill="#e7ff29"/><path d="M581.3 282.6 598.8 276.3 579.9 267 562.4 273.2Z" fill="#f2ff29"/><path d="M544.7 279.2 562.4 273.2 543.8 263.9 526.1 269.9Z" fill="#fdff29"/><path d="M508.1 275.7 526.1 269.9 507.6 260.8 489.6 266.5Z" fill="#fff529"/><path d="M471.4 272.2 489.6 266.5 471.4 257.5 453.2 263.1Z" fill="#ffea29"/><path d="M434.7 268.5 453.2 263.1 435.2 254.2 416.7 259.5Z" fill="#ffde29"/><path d="M398 264.7 416.7 259.5 399 250.8 380.2 255.9Z" fill="#ffd129"/><path d="M361.2 260.8 380.2 255.9 362.7 247.2 343.6 252.1Z" fill="#ffc529"/><path d="M324.3 256.9 343.6 252.1 326.3 243.6 307 248.3Z" fill="#ffb829"/><path d="M600.4 292.3 617.9 285.9 598.8 276.3 581.3 282.6Z" fill="#e6ff29"/><path d="M563.6 288.8 581.3 282.6 562.4 273.2 544.7 279.2Z" fill="#f1ff29"/><path d="M526.8 285.2 544.7 279.2 526.1 269.9 508.1 275.7Z" fill="#fdff29"/><path d="M489.9 281.5 508.1 275.7 489.6 266.5 471.4 272.2Z" fill="#fff529"/><path d="M452.9 277.7 471.4 272.2 453.2 263.1 434.7 268.5Z" fill="#ffe829"/><path d="M416 273.8 434.7 268.5 416.7 259.5 398 264.7Z" fill="#ffdc29"/><path d="M378.9 269.8 398 264.7 380.2 255.9 361.2 260.8Z" fill="#ffcf29"/><path d="M341.9 265.7 361.2 260.8 343.6 252.1 324.3 256.9Z" fill="#ffc129"/><path d="M582.8 298.6 600.4 292.3 581.3 282.6 563.6 288.8Z" fill="#e5ff29"/><path d="M545.7 294.9 563.6 288.8 544.7 279.2 526.8 285.2Z" fill="#f1ff29"/><path d="M508.6 291 526.8 285.2 508.1 275.7 489.9 281.5Z" fill="#feff29"/><path d="M471.4 287.1 489.9 281.5 471.4 272.2 452.9 277.7Z" fill="#fff329"/><path d="M434.2 283.1 452.9 277.7 434.7 268.5 416 273.8Z" fill="#ffe629"/><path d="M396.9 279 416 273.8 398 264.7 378.9 269.8Z" fill="#ffd929"/><path d="M359.7 274.7 378.9 269.8 361.2 260.8 341.9 265.7Z" fill="#ffcb29"/><path d="M564.9 304.8 582.8 298.6 563.6 288.8 545.7 294.9Z" fill="#e5ff29"/><path d="M527.5 300.8 545.7 294.9 526.8 285.2 508.6 291Z" fill="#f2ff29"/><path d="M490.1 296.8 508.6 291 489.9 281.5 471.4 287.1Z" fill="#ffff29"/><path d="M452.7 292.6 471.4 287.1 452.9 277.7 434.2 283.1Z" fill="#fff129"/><path d="M415.2 288.4 434.2 283.1 416 273.8 396.9 279Z" fill="#ffe429"/><path d="M377.7 284 396.9 279 378.9 269.8 359.7 274.7Z" fill="#ffd529"/><path d="M546.7 310.8 564.9 304.8 545.7 294.9 527.5 300.8Z" fill="#e6ff29"/><path d="M509.1 306.7 527.5 300.8 508.6 291 490.1 296.8Z" fill="#f4ff29"/><path d="M471.4 302.4 490.1 296.8 471.4 287.1 452.7 292.6Z" fill="#fffd29"/><path d="M433.7 298 452.7 292.6 434.2 283.1 415.2 288.4Z" fill="#ffef29"/><path d="M395.9 293.5 415.2 288.4 396.9 279 377.7 284Z" fill="#ffe029"/><path d="M528.3 316.8 546.7 310.8 527.5 300.8 509.1 306.7Z" fill="#e7ff29"/><path d="M490.3 312.4 509.1 306.7 490.1 296.8 471.4 302.4Z" fill="#f6ff29"/><path d="M452.4 307.9 471.4 302.4 452.7 292.6 433.7 298Z" fill="#fffa29"/><path d="M414.4 303.3 433.7 298 415.2 288.4 395.9 293.5Z" fill="#ffeb29"/><path d="M509.6 322.6 528.3 316.8 509.1 306.7 490.3 312.4Z" fill="#e9ff29"/><path d="M471.4 318 490.3 312.4 471.4 302.4 452.4 307.9Z" fill="#f8ff29"/><path d="M433.1 313.3 452.4 307.9 433.7 298 414.4 303.3Z" fill="#fff729"/><path d="M490.6 328.4 509.6 322.6 490.3 312.4 471.4 318Z" fill="#ecff29"/><path d="M452.1 323.5 471.4 318 452.4 307.9 433.1 313.3Z" fill="#fcff29"/><path d="M471.4 334 490.6 328.4 471.4 318 452.1 323.5Z" fill="#efff29"/>
</g>
<ellipse cx="471.5" cy="188.9" rx="7.6" ry="7" fill="#c00000" stroke="#1a0000" stroke-width="1.6"/>
<text x="131.1" y="412.4" class="zt" font-size="23" text-anchor="end" textLength="24" lengthAdjust="spacingAndGlyphs">20</text>
<text x="127.9" y="344.7" class="zt" font-size="23" text-anchor="end" textLength="24" lengthAdjust="spacingAndGlyphs">40</text>
<text x="124.6" y="277.1" class="zt" font-size="23" text-anchor="end" textLength="24" lengthAdjust="spacingAndGlyphs">60</text>
<text x="121.4" y="209.5" class="zt" font-size="23" text-anchor="end" textLength="24" lengthAdjust="spacingAndGlyphs">80</text>
<text x="115.1" y="141.9" class="zt" font-size="23" text-anchor="end" textLength="36" lengthAdjust="spacingAndGlyphs">100</text>
<text x="111.9" y="74.2" class="zt" font-size="23" text-anchor="end" textLength="36" lengthAdjust="spacingAndGlyphs">120</text>
<text x="484.8" y="703.5" class="zt" font-size="23" textLength="24" lengthAdjust="spacingAndGlyphs">40</text>
<text x="565.9" y="664.7" class="zt" font-size="23" textLength="24" lengthAdjust="spacingAndGlyphs">50</text>
<text x="647" y="625.8" class="zt" font-size="23" textLength="24" lengthAdjust="spacingAndGlyphs">60</text>
<text x="728.1" y="587" class="zt" font-size="23" textLength="24" lengthAdjust="spacingAndGlyphs">70</text>
<text x="809.2" y="548.1" class="zt" font-size="23" textLength="24" lengthAdjust="spacingAndGlyphs">80</text>
<text x="459" y="703.5" class="zt" font-size="23" text-anchor="end" textLength="24" lengthAdjust="spacingAndGlyphs">20</text>
<text x="378.1" y="664.8" class="zt" font-size="23" text-anchor="end" textLength="24" lengthAdjust="spacingAndGlyphs">25</text>
<text x="297.2" y="626" class="zt" font-size="23" text-anchor="end" textLength="24" lengthAdjust="spacingAndGlyphs">30</text>
<text x="216.4" y="587.1" class="zt" font-size="23" text-anchor="end" textLength="24" lengthAdjust="spacingAndGlyphs">35</text>
<text x="135.5" y="548.4" class="zt" font-size="23" text-anchor="end" textLength="24" lengthAdjust="spacingAndGlyphs">40</text>
<path d="M147.1 1190.1 L468.3 1082.5 L788.3 1189.4 M144 1125 L468.3 1023.8 L791.3 1124.4 M140.9 1060 L468.2 965.2 L794.4 1059.5 M137.8 995 L468.2 906.5 L797.5 994.5 M134.7 929.9 L468.1 847.9 L800.5 929.5 M215.7 846 L227.4 1163.2 M299.9 827 L307.7 1136.3 M384 808.1 L388 1109.4 M535.2 804.3 L532.3 1103.9 M602.3 819.3 L596.3 1125.3 M669.4 834.4 L660.3 1146.7 M736.5 849.4 L724.3 1168" stroke="#000" stroke-width="1.6" fill="none"/>
<path d="M468.1 789.2 L468.4 1174" stroke="#6a6a6a" stroke-width="2.2" fill="none"/>
<path d="M131.6 864.9 L468.1 789.2 L803.6 864.5 M131.6 864.9 L152 1291.5 M803.6 864.5 L783.5 1290.8" stroke="#000" stroke-width="1.9" fill="none" stroke-linejoin="round"/>
<path d="M152 1291.5 L468.4 1174 L783.5 1290.8 L468.4 1439.9 Z" fill="#646464" stroke="#000" stroke-width="2.1" stroke-linejoin="round"/>
<path d="M343.6 1381.4 344.3 1378.6 345.1 1375.9 345.7 1373.7 346.5 1371.1 347.5 1368.3 348.3 1365.9 349.2 1363.6 350.2 1361.2 351.3 1358.6 352.5 1356.1 353.7 1353.6 355 1351.1 356.3 1348.6 357.7 1346.2 359.2 1343.9 360.7 1341.6 362.3 1339.3 364.3 1336.7 366.3 1334.1 368.1 1332 370.2 1329.7 372.6 1327.2 374.8 1325 377.5 1322.6 380.6 1320.1 383.5 1317.9 386.6 1315.7 390.6 1313.2 394.4 1311 398.4 1309 403.6 1306.6 409.4 1304.5 414.3 1302.9 419.6 1301.5 425.3 1300.3 430.1 1299.5 436.1 1298.8 441.3 1298.3 446 1298.1 452.1 1298.1 456.7 1298.3 462 1298.6 467.2 1299 473.3 1299.8 478.4 1300.6 484.1 1301.7 488.5 1302.6 494 1303.9 499.3 1305.2 505.7 1307.1 510.6 1308.6 516.6 1310.7 521.2 1312.4 526.9 1314.5 532.5 1316.8 537.9 1319.2 543.2 1321.6 547.4 1323.6 552.5 1326.1 556.5 1328.2 561.5 1330.8 565.4 1332.9 569.5 1335.3 574.1 1337.9 577.9 1340.2 581.6 1342.5 585.4 1344.8 589 1347.2 592.7 1349.6 596.3 1352 599.9 1354.5 603.4 1356.9 606.9 1359.5 610.4 1362 613.9 1364.6 617.4 1367.2 619.1 1368.5" fill="none" stroke="#ffa500" stroke-width="3.4"/>
<path d="M274.7 1349.1 275.2 1347.1 275.9 1344.5 276.6 1342 277.3 1339.9 278.1 1337.2 278.9 1334.9 279.6 1332.8 280.5 1330.2 281.4 1327.7 282.2 1325.6 283.2 1323.3 284.2 1320.8 285.3 1318.4 286.3 1316.2 287.3 1314.1 288.4 1311.9 289.6 1309.5 290.9 1307.2 292.2 1304.9 293.5 1302.6 294.9 1300.3 296.3 1298.1 297.7 1295.9 299.2 1293.7 300.7 1291.6 302.3 1289.5 303.9 1287.4 305.8 1285.1 307.8 1282.7 309.6 1280.7 311.4 1278.7 313.6 1276.4 315.8 1274.2 317.7 1272.4 320.4 1270 322.5 1268.1 325.3 1265.8 328.3 1263.6 330.7 1261.8 333.7 1259.7 336.9 1257.6 340.3 1255.6 343.7 1253.6 348.3 1251.2 352.1 1249.4 357.1 1247.2 362.3 1245.2 367.8 1243.3 372.5 1241.9 378.3 1240.4 383.2 1239.3 388 1238.3 393.8 1237.4 398.4 1236.8 403.2 1236.3 408.3 1235.9 413.7 1235.7 418.7 1235.6 423.6 1235.6 428.3 1235.7 433.6 1236 438.7 1236.4 443.5 1236.8 448.2 1237.4 454.1 1238.2 458.4 1238.9 463.9 1239.9 469.2 1240.9 473.6 1241.8 478.6 1243 484.2 1244.4 489.3 1245.8 494 1247.1 499.3 1248.8 504.3 1250.4 509.8 1252.2 514.2 1253.8 519.5 1255.8 524.8 1257.8 529.9 1259.9 534.3 1261.7 539 1263.7 544 1266 548.9 1268.2 552.8 1270.1 557.6 1272.4 561.4 1274.3 565.4 1276.4 569.8 1278.7 573.5 1280.7 577.2 1282.7 581.7 1285.2 585.4 1287.3 589 1289.4 592.5 1291.5 596.1 1293.6 599.6 1295.8 603.1 1298 606.6 1300.2 610.1 1302.4 613.5 1304.6 617 1306.9 620.4 1309.2 623.8 1311.5 627.2 1313.9 630.6 1316.3 633.9 1318.6 636.8 1320.8 639.8 1322.9 643.1 1325.3 646.4 1327.8 649.6 1330.2 652.2 1332.2 655.4 1334.7 658.7 1337.3 661.3 1339.3 664.4 1341.9 667.6 1344.5 668.5 1345.1" fill="none" stroke="#ff8d00" stroke-width="3.4"/>
<path d="M419.7 1192.1 424.4 1192.5 428.9 1193 434.3 1193.6 438.9 1194.3 443.7 1195 448.3 1195.8 453.5 1196.7 458.5 1197.7 463.2 1198.7 468.1 1199.9 473 1201 477.6 1202.2 482.2 1203.5 487.5 1205 492.1 1206.4 497.5 1208 501.7 1209.4 507 1211.2 512.1 1213 517.2 1214.9 522.2 1216.8 527.1 1218.7 532 1220.7 536.8 1222.7 540.8 1224.4 545.4 1226.4 550.1 1228.5 553.8 1230.2 558.4 1232.4 562.1 1234.2 566.6 1236.4 570.2 1238.2 573.8 1240 578.3 1242.3 581.8 1244.2 585.3 1246.1 588.8 1248 592.8 1250.2 596.7 1252.4 600.1 1254.4 603.5 1256.4 607 1258.4 610.4 1260.4 613.8 1262.5 617.2 1264.5 620.5 1266.6 623.9 1268.8 627.2 1270.9 630.6 1273 633.9 1275.2 637.2 1277.4 640.3 1279.4 643.1 1281.3 646.3 1283.5 649.6 1285.8 652.8 1288 656.1 1290.3 658.8 1292.3 661.8 1294.4 665 1296.8 668.3 1299.1 670.9 1301 673.9 1303.3 677.1 1305.7 680 1307.9 682.7 1310 685.9 1312.5 688.7 1314.7 691.5 1316.9 694.7 1319.4 697.1 1321.4 700.3 1323.9 703.1 1326.3 705 1327.8 M223.4 1325 224 1322.9 224.7 1320.5 225.4 1318.1 226.1 1316.1 226.9 1313.5 227.6 1311.4 228.4 1309.2 229.3 1306.6 230.1 1304.7 230.9 1302.4 231.9 1299.9 232.7 1297.9 233.6 1295.8 234.7 1293.4 235.7 1291.1 236.6 1289.1 237.6 1287.1 238.8 1284.7 240 1282.4 241.1 1280.2 242.2 1278.2 243.3 1276.2 244.5 1274.2 245.8 1272 247.2 1269.8 248.5 1267.6 249.9 1265.5 251.4 1263.4 252.8 1261.3 254.3 1259.3 255.8 1257.2 257.3 1255.2 258.9 1253.2 260.4 1251.3" fill="none" stroke="#ff7500" stroke-width="3.4"/>
<path d="M607.7 1225.6 611.4 1227.7 614.8 1229.6 618.1 1231.6 621.4 1233.5 624.7 1235.5 628 1237.5 631.3 1239.5 634.6 1241.5 637.8 1243.4 640.7 1245.3 643.6 1247.1 646.8 1249.2 650 1251.3 653.3 1253.4 656.5 1255.5 659.7 1257.6 662.6 1259.6 665.4 1261.4 668.6 1263.6 671.8 1265.8 675 1268 677.5 1269.8 680.5 1272 683.7 1274.2 686.8 1276.4 689.3 1278.2 692.5 1280.6 695.6 1282.9 698 1284.7 701.2 1287 704.3 1289.4 706.7 1291.2 709.9 1293.6 712.7 1295.8 715.4 1297.9 718.5 1300.4 720.9 1302.2 724 1304.7 726.7 1306.9 729.5 1309.2 732.5 1311.5 735 1313.6 M181.5 1305.4 182.1 1303.4 182.9 1301 183.6 1298.8 184.3 1296.7 185.1 1294.3 185.8 1292.4 186.7 1289.9 187.5 1287.8 188.3 1285.7 189.2 1283.3 190 1281.4 190.9 1279.2 191.9 1276.8 192 1276.8" fill="none" stroke="#ff5e00" stroke-width="3.4"/>
<path d="M712.7 1264.4 715.5 1266.5 718.6 1268.7 721.1 1270.6 724.1 1272.8 727.2 1275.2 729.6 1276.9 732.7 1279.3 735.3 1281.3 738.2 1283.5 741.2 1285.8 743.6 1287.7 746.8 1290.2 749.1 1292 752.2 1294.5 754.6 1296.4 757.7 1298.9 760.1 1300.9 760.8 1301.4" fill="none" stroke="#ff4600" stroke-width="3.4"/>
<circle cx="147.1" cy="1190.1" r="2.9"/><circle cx="144" cy="1125" r="2.9"/><circle cx="140.9" cy="1060" r="2.9"/><circle cx="137.8" cy="995" r="2.9"/><circle cx="134.7" cy="929.9" r="2.9"/><circle cx="131.6" cy="864.9" r="2.9"/><circle cx="152" cy="1291.5" r="2.9"/><circle cx="783.5" cy="1290.8" r="2.9"/><circle cx="468.4" cy="1439.9" r="2.9"/><circle cx="547.2" cy="1402.6" r="2.9"/><circle cx="626" cy="1365.3" r="2.9"/><circle cx="704.7" cy="1328.1" r="2.9"/><circle cx="405.1" cy="1410.2" r="2.9"/><circle cx="341.8" cy="1380.5" r="2.9"/><circle cx="278.6" cy="1350.9" r="2.9"/><circle cx="215.3" cy="1321.2" r="2.9"/>
<g stroke="#000" stroke-width="1.45" stroke-linejoin="round">
<path d="M468.1 878.4 482.9 873.2 468.1 869.2 453.3 874.2Z" fill="#ff7f29"/><path d="M453.1 883.5 468.1 878.4 453.3 874.2 438.3 879.2Z" fill="#ff8429"/><path d="M483.1 882.5 497.9 877.1 482.9 873.2 468.1 878.4Z" fill="#ff8029"/><path d="M437.9 888.5 453.1 883.5 438.3 879.2 423.1 884.1Z" fill="#ff8929"/><path d="M468.1 887.7 483.1 882.5 468.1 878.4 453.1 883.5Z" fill="#ff8629"/><path d="M498.2 886.6 513 881.1 497.9 877.1 483.1 882.5Z" fill="#ff8129"/><path d="M452.9 892.9 468.1 887.7 453.1 883.5 437.9 888.5Z" fill="#ff8b29"/><path d="M422.6 893.4 437.9 888.5 423.1 884.1 407.8 888.8Z" fill="#ff8d29"/><path d="M483.2 891.9 498.2 886.6 483.1 882.5 468.1 887.7Z" fill="#ff8729"/><path d="M513.5 890.6 528.3 885 513 881.1 498.2 886.6Z" fill="#ff8129"/><path d="M437.6 897.9 452.9 892.9 437.9 888.5 422.6 893.4Z" fill="#ff8f29"/><path d="M468.1 897.2 483.2 891.9 468.1 887.7 452.9 892.9Z" fill="#ff8c29"/><path d="M407.1 898.2 422.6 893.4 407.8 888.8 392.3 893.5Z" fill="#ff9029"/><path d="M498.5 896.1 513.5 890.6 498.2 886.6 483.2 891.9Z" fill="#ff8729"/><path d="M529 894.6 543.8 888.8 528.3 885 513.5 890.6Z" fill="#ff8129"/><path d="M452.7 902.4 468.1 897.2 452.9 892.9 437.6 897.9Z" fill="#ff9129"/><path d="M483.4 901.5 498.5 896.1 483.2 891.9 468.1 897.2Z" fill="#ff8d29"/><path d="M422.1 902.8 437.6 897.9 422.6 893.4 407.1 898.2Z" fill="#ff9229"/><path d="M514 900.2 529 894.6 513.5 890.6 498.5 896.1Z" fill="#ff8829"/><path d="M391.4 902.8 407.1 898.2 392.3 893.5 376.6 898Z" fill="#ff9329"/><path d="M544.7 898.6 559.5 892.7 543.8 888.8 529 894.6Z" fill="#ff8129"/><path d="M468.1 906.8 483.4 901.5 468.1 897.2 452.7 902.4Z" fill="#ff9229"/><path d="M437.2 907.4 452.7 902.4 437.6 897.9 422.1 902.8Z" fill="#ff9429"/><path d="M498.9 905.8 514 900.2 498.5 896.1 483.4 901.5Z" fill="#ff8e29"/><path d="M406.4 907.6 422.1 902.8 407.1 898.2 391.4 902.8Z" fill="#ff9529"/><path d="M529.7 904.3 544.7 898.6 529 894.6 514 900.2Z" fill="#ff8829"/><path d="M375.6 907.4 391.4 902.8 376.6 898 360.8 902.4Z" fill="#ff9529"/><path d="M560.6 902.5 575.4 896.4 559.5 892.7 544.7 898.6Z" fill="#ff8029"/><path d="M452.6 912 468.1 906.8 452.7 902.4 437.2 907.4Z" fill="#ff9629"/><path d="M483.6 911.2 498.9 905.8 483.4 901.5 468.1 906.8Z" fill="#ff9329"/><path d="M421.6 912.4 437.2 907.4 422.1 902.8 406.4 907.6Z" fill="#ff9829"/><path d="M514.6 910 529.7 904.3 514 900.2 498.9 905.8Z" fill="#ff8e29"/><path d="M390.6 912.3 406.4 907.6 391.4 902.8 375.6 907.4Z" fill="#ff9829"/><path d="M545.6 908.4 560.6 902.5 544.7 898.6 529.7 904.3Z" fill="#ff8729"/><path d="M359.5 911.8 375.6 907.4 360.8 902.4 344.7 906.7Z" fill="#ff9629"/><path d="M576.6 906.4 591.4 900.2 575.4 896.4 560.6 902.5Z" fill="#ff7f29"/><path d="M468.1 916.6 483.6 911.2 468.1 906.8 452.6 912Z" fill="#ff9729"/><path d="M436.9 917.1 452.6 912 437.2 907.4 421.6 912.4Z" fill="#ff9a29"/><path d="M499.3 915.6 514.6 910 498.9 905.8 483.6 911.2Z" fill="#ff9429"/><path d="M405.7 917.2 421.6 912.4 406.4 907.6 390.6 912.3Z" fill="#ff9a29"/><path d="M530.4 914.3 545.6 908.4 529.7 904.3 514.6 910Z" fill="#ff8e29"/><path d="M374.5 916.9 390.6 912.3 375.6 907.4 359.5 911.8Z" fill="#ff9929"/><path d="M561.6 912.5 576.6 906.4 560.6 902.5 545.6 908.4Z" fill="#ff8729"/><path d="M343.3 916.2 359.5 911.8 344.7 906.7 328.5 910.9Z" fill="#ff9629"/><path d="M592.9 910.2 607.7 903.9 591.4 900.2 576.6 906.4Z" fill="#ff7d29"/><path d="M452.4 921.8 468.1 916.6 452.6 912 436.9 917.1Z" fill="#ff9b29"/><path d="M483.7 921.1 499.3 915.6 483.6 911.2 468.1 916.6Z" fill="#ff9829"/><path d="M421 922.1 436.9 917.1 421.6 912.4 405.7 917.2Z" fill="#ff9d29"/><path d="M515.1 920 530.4 914.3 514.6 910 499.3 915.6Z" fill="#ff9429"/><path d="M389.6 922 405.7 917.2 390.6 912.3 374.5 916.9Z" fill="#ff9c29"/><path d="M546.5 918.4 561.6 912.5 545.6 908.4 530.4 914.3Z" fill="#ff8e29"/><path d="M358.3 921.4 374.5 916.9 359.5 911.8 343.3 916.2Z" fill="#ff9a29"/><path d="M577.9 916.5 592.9 910.2 576.6 906.4 561.6 912.5Z" fill="#ff8629"/><path d="M326.8 920.4 343.3 916.2 328.5 910.9 312 915Z" fill="#ff9629"/><path d="M609.3 914.1 624.1 907.6 607.7 903.9 592.9 910.2Z" fill="#ff7c29"/><path d="M468.1 926.5 483.7 921.1 468.1 916.6 452.4 921.8Z" fill="#ff9d29"/><path d="M499.6 925.6 515.1 920 499.3 915.6 483.7 921.1Z" fill="#ff9929"/><path d="M436.5 927 452.4 921.8 436.9 917.1 421 922.1Z" fill="#ff9f29"/><path d="M531.2 924.3 546.5 918.4 530.4 914.3 515.1 920Z" fill="#ff9429"/><path d="M405 927 421 922.1 405.7 917.2 389.6 922Z" fill="#ff9f29"/><path d="M562.7 922.6 577.9 916.5 561.6 912.5 546.5 918.4Z" fill="#ff8d29"/><path d="M373.4 926.6 389.6 922 374.5 916.9 358.3 921.4Z" fill="#ff9d29"/><path d="M594.3 920.4 609.3 914.1 592.9 910.2 577.9 916.5Z" fill="#ff8429"/><path d="M341.8 925.7 358.3 921.4 343.3 916.2 326.8 920.4Z" fill="#ff9a29"/><path d="M625.9 917.8 640.7 911.2 624.1 907.6 609.3 914.1Z" fill="#ff7a29"/><path d="M310.2 924.5 326.8 920.4 312 915 295.4 918.9Z" fill="#ff9529"/><path d="M483.9 931.2 499.6 925.6 483.7 921.1 468.1 926.5Z" fill="#ff9e29"/><path d="M452.2 931.8 468.1 926.5 452.4 921.8 436.5 927Z" fill="#ffa029"/><path d="M515.7 930.1 531.2 924.3 515.1 920 499.6 925.6Z" fill="#ff9a29"/><path d="M420.5 932 436.5 927 421 922.1 405 927Z" fill="#ffa129"/><path d="M547.4 928.6 562.7 922.6 546.5 918.4 531.2 924.3Z" fill="#ff9429"/><path d="M388.7 931.7 405 927 389.6 922 373.4 926.6Z" fill="#ffa029"/><path d="M579.2 926.7 594.3 920.4 577.9 916.5 562.7 922.6Z" fill="#ff8c29"/><path d="M356.9 931.1 373.4 926.6 358.3 921.4 341.8 925.7Z" fill="#ff9e29"/><path d="M610.9 924.4 625.9 917.8 609.3 914.1 594.3 920.4Z" fill="#ff8329"/><path d="M325.2 930 341.8 925.7 326.8 920.4 310.2 924.5Z" fill="#ff9a29"/><path d="M642.7 921.6 657.5 914.8 640.7 911.2 625.9 917.8Z" fill="#ff7729"/><path d="M293.3 928.4 310.2 924.5 295.4 918.9 278.6 922.8Z" fill="#ff9429"/><path d="M468.1 936.6 483.9 931.2 468.1 926.5 452.2 931.8Z" fill="#ffa229"/><path d="M500 935.8 515.7 930.1 499.6 925.6 483.9 931.2Z" fill="#ff9e29"/><path d="M436.1 936.9 452.2 931.8 436.5 927 420.5 932Z" fill="#ffa329"/><path d="M531.9 934.5 547.4 928.6 531.2 924.3 515.7 930.1Z" fill="#ff9a29"/><path d="M404.2 936.9 420.5 932 405 927 388.7 931.7Z" fill="#ffa329"/><path d="M563.9 932.9 579.2 926.7 562.7 922.6 547.4 928.6Z" fill="#ff9329"/><path d="M372.3 936.4 388.7 931.7 373.4 926.6 356.9 931.1Z" fill="#ffa129"/><path d="M595.8 930.8 610.9 924.4 594.3 920.4 579.2 926.7Z" fill="#ff8b29"/><path d="M340.3 935.4 356.9 931.1 341.8 925.7 325.2 930Z" fill="#ff9e29"/><path d="M627.8 928.3 642.7 921.6 625.9 917.8 610.9 924.4Z" fill="#ff8129"/><path d="M308.3 934.1 325.2 930 310.2 924.5 293.3 928.4Z" fill="#ff9929"/><path d="M659.8 925.3 674.6 918.4 657.5 914.8 642.7 921.6Z" fill="#ff7529"/><path d="M276.3 932.3 293.3 928.4 278.6 922.8 261.5 926.5Z" fill="#ff9229"/><path d="M484.1 941.3 500 935.8 483.9 931.2 468.1 936.6Z" fill="#ffa329"/><path d="M452 941.9 468.1 936.6 452.2 931.8 436.1 936.9Z" fill="#ffa529"/><path d="M516.2 940.4 531.9 934.5 515.7 930.1 500 935.8Z" fill="#ff9f29"/><path d="M419.9 942 436.1 936.9 420.5 932 404.2 936.9Z" fill="#ffa629"/><path d="M548.4 939 563.9 932.9 547.4 928.6 531.9 934.5Z" fill="#ff9929"/><path d="M387.8 941.7 404.2 936.9 388.7 931.7 372.3 936.4Z" fill="#ffa429"/><path d="M580.5 937.1 595.8 930.8 579.2 926.7 563.9 932.9Z" fill="#ff9229"/><path d="M355.6 940.9 372.3 936.4 356.9 931.1 340.3 935.4Z" fill="#ffa129"/><path d="M612.7 934.8 627.8 928.3 610.9 924.4 595.8 930.8Z" fill="#ff8929"/><path d="M323.4 939.7 340.3 935.4 325.2 930 308.3 934.1Z" fill="#ff9d29"/><path d="M644.8 932.1 659.8 925.3 642.7 921.6 627.8 928.3Z" fill="#ff7e29"/><path d="M291.2 938.1 308.3 934.1 293.3 928.4 276.3 932.3Z" fill="#ff9729"/><path d="M677 929 691.8 921.9 674.6 918.4 659.8 925.3Z" fill="#ff7229"/><path d="M259 936 276.3 932.3 261.5 926.5 244.2 930Z" fill="#ff8f29"/><path d="M468.1 946.8 484.1 941.3 468.1 936.6 452 941.9Z" fill="#ffa629"/><path d="M500.4 946.1 516.2 940.4 500 935.8 484.1 941.3Z" fill="#ffa329"/><path d="M435.7 947.1 452 941.9 436.1 936.9 419.9 942Z" fill="#ffa829"/><path d="M532.7 944.9 548.4 939 531.9 934.5 516.2 940.4Z" fill="#ff9f29"/><path d="M403.4 946.9 419.9 942 404.2 936.9 387.8 941.7Z" fill="#ffa729"/><path d="M565 943.3 580.5 937.1 563.9 932.9 548.4 939Z" fill="#ff9929"/><path d="M371.1 946.3 387.8 941.7 372.3 936.4 355.6 940.9Z" fill="#ffa529"/><path d="M597.3 941.3 612.7 934.8 595.8 930.8 580.5 937.1Z" fill="#ff9129"/><path d="M338.7 945.3 355.6 940.9 340.3 935.4 323.4 939.7Z" fill="#ffa129"/><path d="M629.7 938.8 644.8 932.1 627.8 928.3 612.7 934.8Z" fill="#ff8729"/><path d="M306.4 943.8 323.4 939.7 308.3 934.1 291.2 938.1Z" fill="#ff9b29"/><path d="M662.1 935.9 677 929 659.8 925.3 644.8 932.1Z" fill="#ff7c29"/><path d="M273.9 941.9 291.2 938.1 276.3 932.3 259 936Z" fill="#ff9429"/><path d="M694.5 932.6 709.3 925.4 691.8 921.9 677 929Z" fill="#ff6e29"/><path d="M241.5 939.6 259 936 244.2 930 226.7 933.5Z" fill="#ff8b29"/><path d="M484.3 951.7 500.4 946.1 484.1 941.3 468.1 946.8Z" fill="#ffa729"/><path d="M516.8 950.8 532.7 944.9 516.2 940.4 500.4 946.1Z" fill="#ffa429"/><path d="M451.8 952.2 468.1 946.8 452 941.9 435.7 947.1Z" fill="#ffa929"/><path d="M549.3 949.5 565 943.3 548.4 939 532.7 944.9Z" fill="#ff9f29"/><path d="M419.3 952.2 435.7 947.1 419.9 942 403.4 946.9Z" fill="#ffaa29"/><path d="M581.9 947.7 597.3 941.3 580.5 937.1 565 943.3Z" fill="#ff9829"/><path d="M386.8 951.8 403.4 946.9 387.8 941.7 371.1 946.3Z" fill="#ffa829"/><path d="M614.4 945.5 629.7 938.8 612.7 934.8 597.3 941.3Z" fill="#ff8f29"/><path d="M354.2 950.9 371.1 946.3 355.6 940.9 338.7 945.3Z" fill="#ffa529"/><path d="M647 942.8 662.1 935.9 644.8 932.1 629.7 938.8Z" fill="#ff8529"/><path d="M321.7 949.6 338.7 945.3 323.4 939.7 306.4 943.8Z" fill="#ffa029"/><path d="M679.6 939.7 694.5 932.6 677 929 662.1 935.9Z" fill="#ff7929"/><path d="M289.1 947.8 306.4 943.8 291.2 938.1 273.9 941.9Z" fill="#ff9929"/><path d="M712.2 936.2 727 928.8 709.3 925.4 694.5 932.6Z" fill="#ff6b29"/><path d="M256.4 945.7 273.9 941.9 259 936 241.5 939.6Z" fill="#ff9129"/><path d="M223.7 943 241.5 939.6 226.7 933.5 209 936.8Z" fill="#ff8729"/><path d="M500.8 956.6 516.8 950.8 500.4 946.1 484.3 951.7Z" fill="#ffa829"/><path d="M468.1 957.2 484.3 951.7 468.1 946.8 451.8 952.2Z" fill="#ffab29"/><path d="M533.5 955.5 549.3 949.5 532.7 944.9 516.8 950.8Z" fill="#ffa429"/><path d="M435.4 957.4 451.8 952.2 435.7 947.1 419.3 952.2Z" fill="#ffac29"/><path d="M566.2 954 581.9 947.7 565 943.3 549.3 949.5Z" fill="#ff9e29"/><path d="M402.6 957.1 419.3 952.2 403.4 946.9 386.8 951.8Z" fill="#ffab29"/><path d="M598.9 952 614.4 945.5 597.3 941.3 581.9 947.7Z" fill="#ff9629"/><path d="M369.9 956.5 386.8 951.8 371.1 946.3 354.2 950.9Z" fill="#ffa829"/><path d="M631.7 949.6 647 942.8 629.7 938.8 614.4 945.5Z" fill="#ff8d29"/><path d="M337.1 955.3 354.2 950.9 338.7 945.3 321.7 949.6Z" fill="#ffa429"/><path d="M664.4 946.8 679.6 939.7 662.1 935.9 647 942.8Z" fill="#ff8229"/><path d="M304.4 953.7 321.7 949.6 306.4 943.8 289.1 947.8Z" fill="#ff9e29"/><path d="M697.3 943.5 712.2 936.2 694.5 932.6 679.6 939.7Z" fill="#ff7529"/><path d="M271.5 951.7 289.1 947.8 273.9 941.9 256.4 945.7Z" fill="#ff9629"/><path d="M730.1 939.7 744.9 932.2 727 928.8 712.2 936.2Z" fill="#ff6729"/><path d="M238.7 949.3 256.4 945.7 241.5 939.6 223.7 943Z" fill="#ff8d29"/><path d="M205.8 946.3 223.7 943 209 936.8 191 939.9Z" fill="#ff8229"/><path d="M484.5 962.2 500.8 956.6 484.3 951.7 468.1 957.2Z" fill="#ffac29"/><path d="M517.4 961.4 533.5 955.5 516.8 950.8 500.8 956.6Z" fill="#ffa929"/><path d="M451.6 962.6 468.1 957.2 451.8 952.2 435.4 957.4Z" fill="#ffad29"/><path d="M550.3 960.2 566.2 954 549.3 949.5 533.5 955.5Z" fill="#ffa429"/><path d="M418.7 962.5 435.4 957.4 419.3 952.2 402.6 957.1Z" fill="#ffad29"/><path d="M583.2 958.4 598.9 952 581.9 947.7 566.2 954Z" fill="#ff9d29"/><path d="M385.8 962 402.6 957.1 386.8 951.8 369.9 956.5Z" fill="#ffab29"/><path d="M616.2 956.3 631.7 949.6 614.4 945.5 598.9 952Z" fill="#ff9529"/><path d="M352.8 961 369.9 956.5 354.2 950.9 337.1 955.3Z" fill="#ffa829"/><path d="M649.2 953.7 664.4 946.8 647 942.8 631.7 949.6Z" fill="#ff8b29"/><path d="M319.8 959.6 337.1 955.3 321.7 949.6 304.4 953.7Z" fill="#ffa229"/><path d="M682.2 950.7 697.3 943.5 679.6 939.7 664.4 946.8Z" fill="#ff7f29"/><path d="M286.8 957.8 304.4 953.7 289.1 947.8 271.5 951.7Z" fill="#ff9c29"/><path d="M715.2 947.2 730.1 939.7 712.2 936.2 697.3 943.5Z" fill="#ff7229"/><path d="M253.8 955.5 271.5 951.7 256.4 945.7 238.7 949.3Z" fill="#ff9329"/><path d="M748.3 943.2 763 935.5 744.9 932.2 730.1 939.7Z" fill="#ff6229"/><path d="M220.7 952.7 238.7 949.3 223.7 943 205.8 946.3Z" fill="#ff8929"/><path d="M187.6 949.5 205.8 946.3 191 939.9 172.8 943Z" fill="#ff7c29"/><path d="M501.2 967.2 517.4 961.4 500.8 956.6 484.5 962.2Z" fill="#ffad29"/><path d="M468.1 967.8 484.5 962.2 468.1 957.2 451.6 962.6Z" fill="#ffaf29"/><path d="M534.3 966.2 550.3 960.2 533.5 955.5 517.4 961.4Z" fill="#ffa929"/><path d="M434.9 967.9 451.6 962.6 435.4 957.4 418.7 962.5Z" fill="#ffaf29"/><path d="M567.4 964.8 583.2 958.4 566.2 954 550.3 960.2Z" fill="#ffa329"/><path d="M401.8 967.5 418.7 962.5 402.6 957.1 385.8 962Z" fill="#ffae29"/><path d="M600.5 962.9 616.2 956.3 598.9 952 583.2 958.4Z" fill="#ff9c29"/><path d="M368.7 966.8 385.8 962 369.9 956.5 352.8 961Z" fill="#ffab29"/><path d="M633.7 960.6 649.2 953.7 631.7 949.6 616.2 956.3Z" fill="#ff9329"/><path d="M335.5 965.5 352.8 961 337.1 955.3 319.8 959.6Z" fill="#ffa729"/><path d="M666.9 957.8 682.2 950.7 664.4 946.8 649.2 953.7Z" fill="#ff8829"/><path d="M302.3 963.8 319.8 959.6 304.4 953.7 286.8 957.8Z" fill="#ffa029"/><path d="M700.1 954.5 715.2 947.2 697.3 943.5 682.2 950.7Z" fill="#ff7c29"/><path d="M269.1 961.7 286.8 957.8 271.5 951.7 253.8 955.5Z" fill="#ff9829"/><path d="M733.3 950.8 748.3 943.2 730.1 939.7 715.2 947.2Z" fill="#ff6e29"/><path d="M235.8 959.1 253.8 955.5 238.7 949.3 220.7 952.7Z" fill="#ff8f29"/><path d="M766.6 946.7 781.4 938.8 763 935.5 748.3 943.2Z" fill="#ff5e29"/><path d="M202.5 956.1 220.7 952.7 205.8 946.3 187.6 949.5Z" fill="#ff8329"/><path d="M169.1 952.6 187.6 949.5 172.8 943 154.4 945.9Z" fill="#ff7629"/><path d="M484.7 972.9 501.2 967.2 484.5 962.2 468.1 967.8Z" fill="#ffb029"/><path d="M518 972.2 534.3 966.2 517.4 961.4 501.2 967.2Z" fill="#ffad29"/><path d="M451.4 973.2 468.1 967.8 451.6 962.6 434.9 967.9Z" fill="#ffb129"/><path d="M551.3 971 567.4 964.8 550.3 960.2 534.3 966.2Z" fill="#ffa829"/><path d="M418.1 973.1 434.9 967.9 418.7 962.5 401.8 967.5Z" fill="#ffb129"/><path d="M584.7 969.4 600.5 962.9 583.2 958.4 567.4 964.8Z" fill="#ffa229"/><path d="M384.7 972.4 401.8 967.5 385.8 962 368.7 966.8Z" fill="#ffae29"/><path d="M618 967.3 633.7 960.6 616.2 956.3 600.5 962.9Z" fill="#ff9a29"/><path d="M351.4 971.4 368.7 966.8 352.8 961 335.5 965.5Z" fill="#ffaa29"/><path d="M651.4 964.8 666.9 957.8 649.2 953.7 633.7 960.6Z" fill="#ff9129"/><path d="M318 969.9 335.5 965.5 319.8 959.6 302.3 963.8Z" fill="#ffa529"/><path d="M684.8 961.8 700.1 954.5 682.2 950.7 666.9 957.8Z" fill="#ff8529"/><path d="M284.6 967.9 302.3 963.8 286.8 957.8 269.1 961.7Z" fill="#ff9d29"/><path d="M718.2 958.3 733.3 950.8 715.2 947.2 700.1 954.5Z" fill="#ff7829"/><path d="M251.1 965.5 269.1 961.7 253.8 955.5 235.8 959.1Z" fill="#ff9429"/><path d="M751.7 954.5 766.6 946.7 748.3 943.2 733.3 950.8Z" fill="#ff6929"/><path d="M217.6 962.6 235.8 959.1 220.7 952.7 202.5 956.1Z" fill="#ff8a29"/><path d="M785.3 950.1 800 942.1 781.4 938.8 766.6 946.7Z" fill="#ff5929"/><path d="M184 959.3 202.5 956.1 187.6 949.5 169.1 952.6Z" fill="#ff7d29"/><path d="M150.4 955.5 169.1 952.6 154.4 945.9 135.7 948.6Z" fill="#ff6f29"/><path d="M501.6 978.1 518 972.2 501.2 967.2 484.7 972.9Z" fill="#ffb129"/><path d="M535.1 977.2 551.3 971 534.3 966.2 518 972.2Z" fill="#ffad29"/><path d="M468.1 978.5 484.7 972.9 468.1 967.8 451.4 973.2Z" fill="#ffb329"/><path d="M568.6 975.8 584.7 969.4 567.4 964.8 551.3 971Z" fill="#ffa829"/><path d="M434.5 978.5 451.4 973.2 434.9 967.9 418.1 973.1Z" fill="#ffb329"/><path d="M602.2 974 618 967.3 600.5 962.9 584.7 969.4Z" fill="#ffa129"/><path d="M401 978.1 418.1 973.1 401.8 967.5 384.7 972.4Z" fill="#ffb129"/><path d="M635.8 971.7 651.4 964.8 633.7 960.6 618 967.3Z" fill="#ff9829"/><path d="M367.4 977.2 384.7 972.4 368.7 966.8 351.4 971.4Z" fill="#ffae29"/><path d="M669.3 969 684.8 961.8 666.9 957.8 651.4 964.8Z" fill="#ff8e29"/><path d="M333.8 975.9 351.4 971.4 335.5 965.5 318 969.9Z" fill="#ffa929"/><path d="M703 965.8 718.2 958.3 700.1 954.5 684.8 961.8Z" fill="#ff8229"/><path d="M300.2 974.1 318 969.9 302.3 963.8 284.6 967.9Z" fill="#ffa229"/><path d="M736.6 962.1 751.7 954.5 733.3 950.8 718.2 958.3Z" fill="#ff7429"/><path d="M266.6 971.8 284.6 967.9 269.1 961.7 251.1 965.5Z" fill="#ff9a29"/><path d="M770.4 958 785.3 950.1 766.6 946.7 751.7 954.5Z" fill="#ff6529"/><path d="M232.9 969.1 251.1 965.5 235.8 959.1 217.6 962.6Z" fill="#ff9029"/><path d="M199.1 966 217.6 962.6 202.5 956.1 184 959.3Z" fill="#ff8429"/><path d="M165.3 962.3 184 959.3 169.1 952.6 150.4 955.5Z" fill="#ff7729"/><path d="M518.7 983.2 535.1 977.2 518 972.2 501.6 978.1Z" fill="#ffb129"/><path d="M484.9 983.8 501.6 978.1 484.7 972.9 468.1 978.5Z" fill="#ffb429"/><path d="M552.4 982.1 568.6 975.8 551.3 971 535.1 977.2Z" fill="#ffad29"/><path d="M451.2 984 468.1 978.5 451.4 973.2 434.5 978.5Z" fill="#ffb429"/><path d="M586.1 980.5 602.2 974 584.7 969.4 568.6 975.8Z" fill="#ffa729"/><path d="M417.4 983.8 434.5 978.5 418.1 973.1 401 978.1Z" fill="#ffb429"/><path d="M619.9 978.5 635.8 971.7 618 967.3 602.2 974Z" fill="#ff9f29"/><path d="M383.7 983.1 401 978.1 384.7 972.4 367.4 977.2Z" fill="#ffb129"/><path d="M653.7 976 669.3 969 651.4 964.8 635.8 971.7Z" fill="#ff9629"/><path d="M349.9 981.9 367.4 977.2 351.4 971.4 333.8 975.9Z" fill="#ffad29"/><path d="M687.5 973.1 703 965.8 684.8 961.8 669.3 969Z" fill="#ff8b29"/><path d="M316.1 980.3 333.8 975.9 318 969.9 300.2 974.1Z" fill="#ffa729"/><path d="M721.4 969.7 736.6 962.1 718.2 958.3 703 965.8Z" fill="#ff7e29"/><path d="M282.2 978.2 300.2 974.1 284.6 967.9 266.6 971.8Z" fill="#ff9f29"/><path d="M755.3 965.9 770.4 958 751.7 954.5 736.6 962.1Z" fill="#ff7029"/><path d="M248.3 975.6 266.6 971.8 251.1 965.5 232.9 969.1Z" fill="#ff9629"/><path d="M214.4 972.6 232.9 969.1 217.6 962.6 199.1 966Z" fill="#ff8b29"/><path d="M180.4 969.2 199.1 966 184 959.3 165.3 962.3Z" fill="#ff7e29"/><path d="M502 989.1 518.7 983.2 501.6 978.1 484.9 983.8Z" fill="#ffb429"/><path d="M536 988.3 552.4 982.1 535.1 977.2 518.7 983.2Z" fill="#ffb129"/><path d="M468 989.5 484.9 983.8 468.1 978.5 451.2 984Z" fill="#ffb629"/><path d="M569.9 987 586.1 980.5 568.6 975.8 552.4 982.1Z" fill="#ffac29"/><path d="M434.1 989.4 451.2 984 434.5 978.5 417.4 983.8Z" fill="#ffb629"/><path d="M603.9 985.2 619.9 978.5 602.2 974 586.1 980.5Z" fill="#ffa629"/><path d="M400.1 988.9 417.4 983.8 401 978.1 383.7 983.1Z" fill="#ffb429"/><path d="M637.9 983 653.7 976 635.8 971.7 619.9 978.5Z" fill="#ff9d29"/><path d="M366.1 987.9 383.7 983.1 367.4 977.2 349.9 981.9Z" fill="#ffb029"/><path d="M671.9 980.4 687.5 973.1 669.3 969 653.7 976Z" fill="#ff9329"/><path d="M332.1 986.4 349.9 981.9 333.8 975.9 316.1 980.3Z" fill="#ffab29"/><path d="M705.9 977.2 721.4 969.7 703 965.8 687.5 973.1Z" fill="#ff8829"/><path d="M298.1 984.5 316.1 980.3 300.2 974.1 282.2 978.2Z" fill="#ffa429"/><path d="M740 973.6 755.3 965.9 736.6 962.1 721.4 969.7Z" fill="#ff7a29"/><path d="M264 982.1 282.2 978.2 266.6 971.8 248.3 975.6Z" fill="#ff9b29"/><path d="M229.8 979.3 248.3 975.6 232.9 969.1 214.4 972.6Z" fill="#ff9129"/><path d="M195.6 976 214.4 972.6 199.1 966 180.4 969.2Z" fill="#ff8529"/><path d="M519.3 994.4 536 988.3 518.7 983.2 502 989.1Z" fill="#ffb529"/><path d="M485.1 994.9 502 989.1 484.9 983.8 468 989.5Z" fill="#ffb729"/><path d="M553.5 993.3 569.9 987 552.4 982.1 536 988.3Z" fill="#ffb129"/><path d="M451 995 468 989.5 451.2 984 434.1 989.4Z" fill="#ffb829"/><path d="M587.7 991.8 603.9 985.2 586.1 980.5 569.9 987Z" fill="#ffab29"/><path d="M416.8 994.7 434.1 989.4 417.4 983.8 400.1 988.9Z" fill="#ffb629"/><path d="M621.8 989.9 637.9 983 619.9 978.5 603.9 985.2Z" fill="#ffa429"/><path d="M382.6 993.9 400.1 988.9 383.7 983.1 366.1 987.9Z" fill="#ffb329"/><path d="M656.1 987.5 671.9 980.4 653.7 976 637.9 983Z" fill="#ff9b29"/><path d="M348.4 992.6 366.1 987.9 349.9 981.9 332.1 986.4Z" fill="#ffaf29"/><path d="M690.3 984.6 705.9 977.2 687.5 973.1 671.9 980.4Z" fill="#ff9029"/><path d="M314.1 990.8 332.1 986.4 316.1 980.3 298.1 984.5Z" fill="#ffa829"/><path d="M724.6 981.3 740 973.6 721.4 969.7 705.9 977.2Z" fill="#ff8429"/><path d="M279.8 988.6 298.1 984.5 282.2 978.2 264 982.1Z" fill="#ffa029"/><path d="M245.5 986 264 982.1 248.3 975.6 229.8 979.3Z" fill="#ff9729"/><path d="M211.1 982.9 229.8 979.3 214.4 972.6 195.6 976Z" fill="#ff8b29"/><path d="M536.8 999.6 553.5 993.3 536 988.3 519.3 994.4Z" fill="#ffb529"/><path d="M502.4 1000.3 519.3 994.4 502 989.1 485.1 994.9Z" fill="#ffb829"/><path d="M571.2 998.4 587.7 991.8 569.9 987 553.5 993.3Z" fill="#ffb029"/><path d="M468 1000.6 485.1 994.9 468 989.5 451 995Z" fill="#ffb929"/><path d="M605.6 996.7 621.8 989.9 603.9 985.2 587.7 991.8Z" fill="#ffaa29"/><path d="M433.6 1000.4 451 995 434.1 989.4 416.8 994.7Z" fill="#ffb829"/><path d="M640.1 994.6 656.1 987.5 637.9 983 621.8 989.9Z" fill="#ffa229"/><path d="M399.2 999.8 416.8 994.7 400.1 988.9 382.6 993.9Z" fill="#ffb629"/><path d="M674.5 992 690.3 984.6 671.9 980.4 656.1 987.5Z" fill="#ff9929"/><path d="M364.8 998.7 382.6 993.9 366.1 987.9 348.4 992.6Z" fill="#ffb229"/><path d="M709 988.9 724.6 981.3 705.9 977.2 690.3 984.6Z" fill="#ff8d29"/><path d="M330.3 997.2 348.4 992.6 332.1 986.4 314.1 990.8Z" fill="#ffad29"/><path d="M295.8 995.1 314.1 990.8 298.1 984.5 279.8 988.6Z" fill="#ffa529"/><path d="M261.3 992.6 279.8 988.6 264 982.1 245.5 986Z" fill="#ff9c29"/><path d="M226.7 989.7 245.5 986 229.8 979.3 211.1 982.9Z" fill="#ff9229"/><path d="M520 1005.7 536.8 999.6 519.3 994.4 502.4 1000.3Z" fill="#ffb829"/><path d="M554.6 1004.8 571.2 998.4 553.5 993.3 536.8 999.6Z" fill="#ffb529"/><path d="M485.4 1006.2 502.4 1000.3 485.1 994.9 468 1000.6Z" fill="#ffba29"/><path d="M589.2 1003.4 605.6 996.7 587.7 991.8 571.2 998.4Z" fill="#ffb029"/><path d="M450.7 1006.2 468 1000.6 451 995 433.6 1000.4Z" fill="#ffba29"/><path d="M623.8 1001.5 640.1 994.6 621.8 989.9 605.6 996.7Z" fill="#ffa929"/><path d="M416.1 1005.8 433.6 1000.4 416.8 994.7 399.2 999.8Z" fill="#ffb929"/><path d="M658.5 999.2 674.5 992 656.1 987.5 640.1 994.6Z" fill="#ffa029"/><path d="M381.5 1004.8 399.2 999.8 382.6 993.9 364.8 998.7Z" fill="#ffb529"/><path d="M693.2 996.4 709 988.9 690.3 984.6 674.5 992Z" fill="#ff9629"/><path d="M346.8 1003.5 364.8 998.7 348.4 992.6 330.3 997.2Z" fill="#ffb029"/><path d="M312.1 1001.6 330.3 997.2 314.1 990.8 295.8 995.1Z" fill="#ffaa29"/><path d="M277.3 999.3 295.8 995.1 279.8 988.6 261.3 992.6Z" fill="#ffa129"/><path d="M242.6 996.5 261.3 992.6 245.5 986 226.7 989.7Z" fill="#ff9729"/><path d="M537.7 1011.1 554.6 1004.8 536.8 999.6 520 1005.7Z" fill="#ffb829"/><path d="M502.9 1011.8 520 1005.7 502.4 1000.3 485.4 1006.2Z" fill="#ffbb29"/><path d="M572.6 1010 589.2 1003.4 571.2 998.4 554.6 1004.8Z" fill="#ffb429"/><path d="M468 1012 485.4 1006.2 468 1000.6 450.7 1006.2Z" fill="#ffbc29"/><path d="M607.4 1008.4 623.8 1001.5 605.6 996.7 589.2 1003.4Z" fill="#ffae29"/><path d="M433.2 1011.7 450.7 1006.2 433.6 1000.4 416.1 1005.8Z" fill="#ffbb29"/><path d="M642.3 1006.3 658.5 999.2 640.1 994.6 623.8 1001.5Z" fill="#ffa729"/><path d="M398.3 1011 416.1 1005.8 399.2 999.8 381.5 1004.8Z" fill="#ffb829"/><path d="M677.2 1003.8 693.2 996.4 674.5 992 658.5 999.2Z" fill="#ff9d29"/><path d="M363.4 1009.8 381.5 1004.8 364.8 998.7 346.8 1003.5Z" fill="#ffb429"/><path d="M328.5 1008.1 346.8 1003.5 330.3 997.2 312.1 1001.6Z" fill="#ffae29"/><path d="M293.6 1005.9 312.1 1001.6 295.8 995.1 277.3 999.3Z" fill="#ffa629"/><path d="M258.6 1003.3 277.3 999.3 261.3 992.6 242.6 996.5Z" fill="#ff9d29"/><path d="M520.6 1017.3 537.7 1011.1 520 1005.7 502.9 1011.8Z" fill="#ffbb29"/><path d="M555.7 1016.5 572.6 1010 554.6 1004.8 537.7 1011.1Z" fill="#ffb829"/><path d="M485.6 1017.7 502.9 1011.8 485.4 1006.2 468 1012Z" fill="#ffbd29"/><path d="M590.8 1015.1 607.4 1008.4 589.2 1003.4 572.6 1010Z" fill="#ffb329"/><path d="M450.5 1017.6 468 1012 450.7 1006.2 433.2 1011.7Z" fill="#ffbd29"/><path d="M625.9 1013.3 642.3 1006.3 623.8 1001.5 607.4 1008.4Z" fill="#ffad29"/><path d="M415.4 1017.1 433.2 1011.7 416.1 1005.8 398.3 1011Z" fill="#ffbb29"/><path d="M661 1011.1 677.2 1003.8 658.5 999.2 642.3 1006.3Z" fill="#ffa529"/><path d="M380.3 1016 398.3 1011 381.5 1004.8 363.4 1009.8Z" fill="#ffb729"/><path d="M345.2 1014.5 363.4 1009.8 346.8 1003.5 328.5 1008.1Z" fill="#ffb229"/><path d="M310 1012.6 328.5 1008.1 312.1 1001.6 293.6 1005.9Z" fill="#ffab29"/><path d="M274.8 1010.1 293.6 1005.9 277.3 999.3 258.6 1003.3Z" fill="#ffa229"/><path d="M538.6 1022.8 555.7 1016.5 537.7 1011.1 520.6 1017.3Z" fill="#ffbc29"/><path d="M503.3 1023.4 520.6 1017.3 502.9 1011.8 485.6 1017.7Z" fill="#ffbe29"/><path d="M573.9 1021.8 590.8 1015.1 572.6 1010 555.7 1016.5Z" fill="#ffb829"/><path d="M468 1023.5 485.6 1017.7 468 1012 450.5 1017.6Z" fill="#ffbe29"/><path d="M609.3 1020.3 625.9 1013.3 607.4 1008.4 590.8 1015.1Z" fill="#ffb229"/><path d="M432.7 1023.2 450.5 1017.6 433.2 1011.7 415.4 1017.1Z" fill="#ffbd29"/><path d="M644.6 1018.3 661 1011.1 642.3 1006.3 625.9 1013.3Z" fill="#ffab29"/><path d="M397.4 1022.3 415.4 1017.1 398.3 1011 380.3 1016Z" fill="#ffba29"/><path d="M362 1021 380.3 1016 363.4 1009.8 345.2 1014.5Z" fill="#ffb529"/><path d="M326.7 1019.2 345.2 1014.5 328.5 1008.1 310 1012.6Z" fill="#ffaf29"/><path d="M291.2 1016.9 310 1012.6 293.6 1005.9 274.8 1010.1Z" fill="#ffa729"/><path d="M556.9 1028.4 573.9 1021.8 555.7 1016.5 538.6 1022.8Z" fill="#ffbb29"/><path d="M521.3 1029.1 538.6 1022.8 520.6 1017.3 503.3 1023.4Z" fill="#ffbe29"/><path d="M592.4 1027.1 609.3 1020.3 590.8 1015.1 573.9 1021.8Z" fill="#ffb729"/><path d="M485.8 1029.4 503.3 1023.4 485.6 1017.7 468 1023.5Z" fill="#ffbf29"/><path d="M628 1025.4 644.6 1018.3 625.9 1013.3 609.3 1020.3Z" fill="#ffb129"/><path d="M450.3 1029.2 468 1023.5 450.5 1017.6 432.7 1023.2Z" fill="#ffbf29"/><path d="M414.7 1028.6 432.7 1023.2 415.4 1017.1 397.4 1022.3Z" fill="#ffbd29"/><path d="M379.1 1027.4 397.4 1022.3 380.3 1016 362 1021Z" fill="#ffb929"/><path d="M343.5 1025.8 362 1021 345.2 1014.5 326.7 1019.2Z" fill="#ffb329"/><path d="M307.9 1023.8 326.7 1019.2 310 1012.6 291.2 1016.9Z" fill="#ffac29"/><path d="M539.6 1034.8 556.9 1028.4 538.6 1022.8 521.3 1029.1Z" fill="#ffbe29"/><path d="M575.4 1033.8 592.4 1027.1 573.9 1021.8 556.9 1028.4Z" fill="#ffbb29"/><path d="M503.8 1035.3 521.3 1029.1 503.3 1023.4 485.8 1029.4Z" fill="#ffc029"/><path d="M611.1 1032.4 628 1025.4 609.3 1020.3 592.4 1027.1Z" fill="#ffb629"/><path d="M468 1035.3 485.8 1029.4 468 1023.5 450.3 1029.2Z" fill="#ffc029"/><path d="M432.2 1034.8 450.3 1029.2 432.7 1023.2 414.7 1028.6Z" fill="#ffbf29"/><path d="M396.4 1033.9 414.7 1028.6 397.4 1022.3 379.1 1027.4Z" fill="#ffbb29"/><path d="M360.6 1032.5 379.1 1027.4 362 1021 343.5 1025.8Z" fill="#ffb729"/><path d="M324.7 1030.6 343.5 1025.8 326.7 1019.2 307.9 1023.8Z" fill="#ffb029"/><path d="M558.1 1040.5 575.4 1033.8 556.9 1028.4 539.6 1034.8Z" fill="#ffbe29"/><path d="M522.1 1041.2 539.6 1034.8 521.3 1029.1 503.8 1035.3Z" fill="#ffc129"/><path d="M594.1 1039.3 611.1 1032.4 592.4 1027.1 575.4 1033.8Z" fill="#ffba29"/><path d="M486 1041.4 503.8 1035.3 485.8 1029.4 468 1035.3Z" fill="#ffc229"/><path d="M450 1041.1 468 1035.3 450.3 1029.2 432.2 1034.8Z" fill="#ffc129"/><path d="M414 1040.3 432.2 1034.8 414.7 1028.6 396.4 1033.9Z" fill="#ffbe29"/><path d="M377.9 1039.1 396.4 1033.9 379.1 1027.4 360.6 1032.5Z" fill="#ffba29"/><path d="M341.8 1037.4 360.6 1032.5 343.5 1025.8 324.7 1030.6Z" fill="#ffb429"/><path d="M540.6 1047 558.1 1040.5 539.6 1034.8 522.1 1041.2Z" fill="#ffc129"/><path d="M576.8 1046.1 594.1 1039.3 575.4 1033.8 558.1 1040.5Z" fill="#ffbe29"/><path d="M504.3 1047.4 522.1 1041.2 503.8 1035.3 486 1041.4Z" fill="#ffc229"/><path d="M468 1047.3 486 1041.4 468 1035.3 450 1041.1Z" fill="#ffc229"/><path d="M431.8 1046.7 450 1041.1 432.2 1034.8 414 1040.3Z" fill="#ffc029"/><path d="M395.5 1045.7 414 1040.3 396.4 1033.9 377.9 1039.1Z" fill="#ffbd29"/><path d="M359.1 1044.1 377.9 1039.1 360.6 1032.5 341.8 1037.4Z" fill="#ffb729"/><path d="M559.3 1052.9 576.8 1046.1 558.1 1040.5 540.6 1047Z" fill="#ffc129"/><path d="M522.8 1053.4 540.6 1047 522.1 1041.2 504.3 1047.4Z" fill="#ffc329"/><path d="M486.3 1053.5 504.3 1047.4 486 1041.4 468 1047.3Z" fill="#ffc329"/><path d="M449.8 1053.2 468 1047.3 450 1041.1 431.8 1046.7Z" fill="#ffc229"/><path d="M413.2 1052.3 431.8 1046.7 414 1040.3 395.5 1045.7Z" fill="#ffbf29"/><path d="M376.7 1050.9 395.5 1045.7 377.9 1039.1 359.1 1044.1Z" fill="#ffbb29"/><path d="M541.6 1059.5 559.3 1052.9 540.6 1047 522.8 1053.4Z" fill="#ffc329"/><path d="M504.8 1059.8 522.8 1053.4 504.3 1047.4 486.3 1053.5Z" fill="#ffc429"/><path d="M468 1059.6 486.3 1053.5 468 1047.3 449.8 1053.2Z" fill="#ffc429"/><path d="M431.2 1058.9 449.8 1053.2 431.8 1046.7 413.2 1052.3Z" fill="#ffc129"/><path d="M394.4 1057.7 413.2 1052.3 395.5 1045.7 376.7 1050.9Z" fill="#ffbd29"/><path d="M523.6 1066 541.6 1059.5 522.8 1053.4 504.8 1059.8Z" fill="#ffc529"/><path d="M486.5 1066 504.8 1059.8 486.3 1053.5 468 1059.6Z" fill="#ffc529"/><path d="M449.5 1065.5 468 1059.6 449.8 1053.2 431.2 1058.9Z" fill="#ffc329"/><path d="M412.5 1064.5 431.2 1058.9 413.2 1052.3 394.4 1057.7Z" fill="#ffc029"/><path d="M505.3 1072.4 523.6 1066 504.8 1059.8 486.5 1066Z" fill="#ffc629"/><path d="M468 1072.1 486.5 1066 468 1059.6 449.5 1065.5Z" fill="#ffc529"/><path d="M430.7 1071.3 449.5 1065.5 431.2 1058.9 412.5 1064.5Z" fill="#ffc229"/><path d="M486.8 1078.7 505.3 1072.4 486.5 1066 468 1072.1Z" fill="#ffc629"/><path d="M449.2 1078.1 468 1072.1 449.5 1065.5 430.7 1071.3Z" fill="#ffc429"/><path d="M468 1084.9 486.8 1078.7 468 1072.1 449.2 1078.1Z" fill="#ffc629"/>
</g>
<ellipse cx="468.1" cy="967.8" rx="7.6" ry="7" fill="#c00000" stroke="#1a0000" stroke-width="1.6"/>
<text x="135.4" y="1182.8" class="zt" font-size="23" text-anchor="end" textLength="24" lengthAdjust="spacingAndGlyphs">20</text>
<text x="132.3" y="1117.8" class="zt" font-size="23" text-anchor="end" textLength="24" lengthAdjust="spacingAndGlyphs">40</text>
<text x="129.2" y="1052.7" class="zt" font-size="23" text-anchor="end" textLength="24" lengthAdjust="spacingAndGlyphs">60</text>
<text x="126.1" y="987.7" class="zt" font-size="23" text-anchor="end" textLength="24" lengthAdjust="spacingAndGlyphs">80</text>
<text x="119.9" y="922.7" class="zt" font-size="23" text-anchor="end" textLength="36" lengthAdjust="spacingAndGlyphs">100</text>
<text x="116.8" y="857.6" class="zt" font-size="23" text-anchor="end" textLength="36" lengthAdjust="spacingAndGlyphs">120</text>
<text x="481.9" y="1463.2" class="zt" font-size="23" textLength="24" lengthAdjust="spacingAndGlyphs">40</text>
<text x="560.7" y="1425.9" class="zt" font-size="23" textLength="24" lengthAdjust="spacingAndGlyphs">50</text>
<text x="639.5" y="1388.6" class="zt" font-size="23" textLength="24" lengthAdjust="spacingAndGlyphs">60</text>
<text x="718.2" y="1351.3" class="zt" font-size="23" textLength="24" lengthAdjust="spacingAndGlyphs">70</text>
<text x="797" y="1314" class="zt" font-size="23" textLength="24" lengthAdjust="spacingAndGlyphs">80</text>
<text x="456.1" y="1463.2" class="zt" font-size="23" text-anchor="end" textLength="36" lengthAdjust="spacingAndGlyphs">100</text>
<text x="392.8" y="1433.5" class="zt" font-size="23" text-anchor="end" textLength="36" lengthAdjust="spacingAndGlyphs">120</text>
<text x="329.5" y="1403.8" class="zt" font-size="23" text-anchor="end" textLength="36" lengthAdjust="spacingAndGlyphs">140</text>
<text x="266.3" y="1374.1" class="zt" font-size="23" text-anchor="end" textLength="36" lengthAdjust="spacingAndGlyphs">160</text>
<text x="203" y="1344.4" class="zt" font-size="23" text-anchor="end" textLength="36" lengthAdjust="spacingAndGlyphs">180</text>
<text x="139.7" y="1314.8" class="zt" font-size="23" text-anchor="end" textLength="36" lengthAdjust="spacingAndGlyphs">200</text>
<path d="M149 1982.9 L474.4 1871.7 L800.3 1982.2 M145.8 1915.2 L474.6 1810.6 L803.4 1914.6 M142.5 1847.4 L474.7 1749.4 L806.5 1847.1 M139.3 1779.6 L474.9 1688.3 L809.6 1779.6 M136.1 1711.8 L475 1627.2 L812.7 1712 M218.5 1624.5 L230.3 1955.1 M304 1605 L311.7 1927.3 M389.6 1585.6 L393.1 1899.5 M560.4 1585.7 L555.9 1899.3 M645.5 1605.3 L637.4 1926.9 M730.6 1624.9 L718.9 1954.5" stroke="#000" stroke-width="1.6" fill="none"/>
<path d="M475.2 1566.1 L474.2 1967" stroke="#6a6a6a" stroke-width="2.2" fill="none"/>
<path d="M132.9 1644 L475.2 1566.1 L815.8 1644.5 M132.9 1644 L154 2088.7 M815.8 1644.5 L795.5 2087.5" stroke="#000" stroke-width="1.9" fill="none" stroke-linejoin="round"/>
<path d="M154 2088.7 L474.2 1967 L795.5 2087.5 L474.7 2246.1 Z" fill="#646464" stroke="#000" stroke-width="2.1" stroke-linejoin="round"/>
<path d="M388.9 1999.1 385.9 2001 382.8 2003 379.7 2005 376.5 2007 373.3 2009 370.1 2010.9 366.8 2012.9 363.3 2015 359.4 2017.3 355.9 2019.3 352.5 2021.2 349 2023.2 345.5 2025.1 341.6 2027.2 337.4 2029.5 333.8 2031.4 330.1 2033.3 325.4 2035.7 321.6 2037.7 317.3 2039.8 312.9 2041.9 309 2043.8 304 2046.2 299.4 2048.3 294.9 2050.4 289.7 2052.7 285.6 2054.6 280.3 2056.9 274.9 2059.2 269.5 2061.5 265.1 2063.3 259.5 2065.6 253.9 2067.9 248.2 2070.1 242.5 2072.3 236.6 2074.6 230.7 2076.8 224.8 2079 220 2080.7 213.9 2082.9 207.7 2085.1 201.5 2087.2 196.5 2089 190.2 2091.1 184.2 2093.1 178.6 2094.9 172.1 2097 170.8 2097.5" fill="none" stroke="#c5ff00" stroke-width="3.4"/>
<path d="M453.4 1974.4 451.2 1976.4 448.9 1978.3 447 1980 444.5 1982.1 442.5 1983.7 440.1 1985.7 437.6 1987.8 435.7 1989.4 433.1 1991.5 430.5 1993.5 428.3 1995.2 425.8 1997.2 423.1 1999.3 420.4 2001.3 418.1 2003 415.5 2005 412.6 2007 409.7 2009.1 406.8 2011.2 403.9 2013.2 401.3 2015 398.5 2016.9 395.4 2018.9 392.3 2021 389.2 2023 385.9 2025.1 382.7 2027.1 379.4 2029.1 375.9 2031.2 372 2033.6 368.4 2035.7 364.9 2037.7 361.4 2039.7 357.8 2041.7 353.2 2044.2 349.6 2046.2 345.8 2048.1 341.1 2050.6 337.2 2052.5 333.2 2054.6 328.4 2056.9 323.9 2059.1 319.3 2061.2 314.1 2063.6 309.9 2065.5 304.6 2067.9 299.3 2070.2 293.8 2072.5 288.3 2074.8 283.8 2076.7 278.1 2078.9 272.3 2081.2 267.7 2083 261.8 2085.2 255.8 2087.5 249.7 2089.7 243.6 2091.9 238.6 2093.6 232.4 2095.8 226 2097.9 220.9 2099.6 214.4 2101.7 209.2 2103.4 202.6 2105.5 197.3 2107.2 193.3 2108.4" fill="none" stroke="#f1ff00" stroke-width="3.4"/>
<path d="M474.2 2245.4 477.4 2242.2 479.9 2239.7 483.1 2236.6 486.3 2233.5 489.7 2230.4 493 2227.4 495.9 2224.8 498.9 2222.1 502.3 2219.2 505.8 2216.3 509.3 2213.4 512.8 2210.6 516.3 2207.8 520 2205 524.3 2201.8 528.1 2199 531.8 2196.3 535.5 2193.7 539.6 2190.9 544.1 2188 548 2185.5 552.9 2182.4 556.8 2180 561.9 2177 565.9 2174.7 571 2171.8 576.2 2169 580.4 2166.8 585.7 2164.1 591.1 2161.4 596.5 2158.8 602 2156.2 607.6 2153.7 612.1 2151.7 617.7 2149.3 623.5 2146.9 628.1 2145 633.9 2142.7 639.8 2140.4 644.5 2138.6 649.8 2136.7 655.3 2134.7 660.1 2133 666.2 2130.9 671.1 2129.2 676 2127.6 681 2125.9 687.2 2124 692.2 2122.4 697.2 2120.8 702.2 2119.3 707.3 2117.8 712.4 2116.3 717.5 2114.8 722.6 2113.3 727.8 2111.9 732.9 2110.4 738.1 2109 743.3 2107.6 748.5 2106.2 753.7 2104.8 758.9 2103.4 764.1 2102.1 769.4 2100.7 769.9 2100.6 M487.8 1971.2 486.3 1972.8 484.3 1975 482.8 1976.6 480.9 1978.6 479.2 1980.5 477.5 1982.2 475.5 1984.3 473.9 1985.9 471.8 1988.1 470.1 1989.8 467.9 1992 466.2 1993.7 464 1995.8 462.3 1997.5 459.9 1999.7 458.2 2001.4 455.8 2003.6 454 2005.3 451.6 2007.5 449.5 2009.3 447.2 2011.4 444.7 2013.6 442.8 2015.2 440.2 2017.4 437.5 2019.6 435.5 2021.3 432.8 2023.5 430.1 2025.7 427.5 2027.7 425.1 2029.5 422.2 2031.7 419.3 2033.9 416.3 2036 413.3 2038.2 410.4 2040.2 407.6 2042.2 404.5 2044.2 401.3 2046.3 398 2048.5 394.3 2050.8 390.6 2053.1 387.2 2055.2 383.7 2057.3 380.1 2059.4 376.4 2061.4 371.8 2064 368 2066 364 2068.1 359.3 2070.5 355.3 2072.5 350.3 2075 345.1 2077.4 340.9 2079.4 335.6 2081.8 330.2 2084.1 324.7 2086.5 319 2088.8 313.3 2091.1 307.5 2093.4 301.6 2095.7 295.6 2097.9 289.5 2100.1 284.5 2101.9 278.2 2104 273.2 2105.8 266.7 2107.9 261.5 2109.6 255 2111.7 249.6 2113.3 242.9 2115.4 237.5 2117 232 2118.7 226.4 2120.3 220.8 2121.9" fill="none" stroke="#ffe100" stroke-width="3.4"/>
<path d="M429.1 2223.4 431.7 2220 433.7 2217.5 436.2 2214.5 438.5 2211.7 440.8 2208.9 443.3 2206 445.6 2203.3 448.2 2200.4 450.8 2197.6 453.3 2194.9 456.2 2191.9 458.5 2189.6 461.5 2186.6 464.6 2183.7 467.3 2181.2 470.1 2178.7 473.3 2175.9 476.6 2173.1 480 2170.4 483.5 2167.8 487 2165.2 490.6 2162.7 494.4 2160.1 499 2157.1 502.9 2154.8 507.8 2151.9 511.9 2149.7 517.1 2147 522.5 2144.3 528 2141.8 533.6 2139.3 539.3 2136.9 545.1 2134.6 550 2132.8 556 2130.6 561 2128.8 566 2127.2 572.3 2125.1 577.4 2123.5 582.6 2122 587.8 2120.4 593.1 2118.9 598.4 2117.4 603.8 2116 609.2 2114.6 614.6 2113.2 620 2111.8 625.5 2110.4 630.7 2109.2 635.2 2108.1 640.7 2106.8 646.3 2105.5 651.9 2104.2 656.5 2103.2 661.7 2102 667.4 2100.8 672.7 2099.6 677.3 2098.7 682.9 2097.5 688.3 2096.3 692.9 2095.4 698.5 2094.2 703.5 2093.2 708.5 2092.2 714.2 2091 718.5 2090.2 724.2 2089 729.3 2088 734.2 2087.1 739.9 2086 744.2 2085.1 749.9 2084 754.4 2083.2 759.9 2082.1 764.9 2081.2 769.9 2080.2 772.8 2079.7 M514 1981.1 512.8 1982.9 511.6 1984.8 510.1 1986.9 508.8 1988.9 507.6 1990.6 506.3 1992.4 505 1994.4 503.5 1996.5 502.1 1998.4 500.9 2000.3 499.6 2002.1 498 2004.2 496.5 2006.3 495.2 2008.2 493.8 2010 492.2 2012.2 490.6 2014.3 489.2 2016.1 487.8 2018 486 2020.3 484.5 2022.3 483 2024.1 481.3 2026.3 479.6 2028.5 478.1 2030.3 476.2 2032.5 474.4 2034.7 472.9 2036.5 470.7 2039 469.1 2040.9 467.2 2042.9 465.2 2045.2 463.5 2047 461.1 2049.5 459.3 2051.4 456.9 2053.8 455.1 2055.7 452.5 2058.1 450.4 2060.2 448 2062.4 445.3 2064.8 443.1 2066.7 440.4 2069 437.5 2071.3 434.5 2073.7 431.8 2075.8 429 2077.8 425.9 2080.1 422.6 2082.3 419 2084.7 414.8 2087.4 411.1 2089.5 407.4 2091.7 402.7 2094.3 398.6 2096.4 393.5 2098.9 389.3 2100.9 383.8 2103.4 378.2 2105.8 372.4 2108.1 366.9 2110.3 361.6 2112.2 355.4 2114.4 350.4 2116.1 343.9 2118.2 338.6 2119.9 333.2 2121.5 327.2 2123.3 320.9 2125.1 315.3 2126.6 309.6 2128.1 303.8 2129.6 298 2131.1 292.1 2132.6 286.2 2134.1 280.3 2135.5 275.1 2136.7 269.6 2138 263.5 2139.4 258.9 2140.4" fill="none" stroke="#ffb400" stroke-width="3.4"/>
<path d="M549 1994.5 548.5 1996.5 548 1998.3 547.6 2000.1 547.2 2002.1 546.8 2004.2 546.4 2006.3 546.1 2008 545.8 2010 545.4 2012.2 545.2 2014.1 545 2015.9 544.8 2018.2 544.7 2020.1 544.6 2022 544.6 2024.4 544.6 2026 544.7 2028.5 544.8 2030.2 545.1 2032.6 545.4 2034.4 545.8 2036.6 546.4 2038.8 547 2040.7 547.7 2042.7 548.7 2044.9 549.9 2047 551.2 2049.1 552.9 2051.4 555 2053.7 557.1 2055.6 560 2057.8 563.5 2059.9 568.3 2062.3 573.9 2064.4 578.9 2065.9 584.4 2067.2 590.4 2068.3 595.1 2068.9 600.3 2069.5 605.7 2070 610.9 2070.3 616.7 2070.6 622.3 2070.7 626.7 2070.8 633 2070.8 637.4 2070.7 643.2 2070.6 648.5 2070.4 653.1 2070.3 658.6 2070 664.2 2069.7 669.7 2069.4 674.6 2069.1 679.5 2068.7 684.5 2068.4 689.5 2068 694.6 2067.6 699.8 2067.1 704.9 2066.7 710.1 2066.2 715.4 2065.7 720.7 2065.2 726 2064.7 731.3 2064.1 731.8 2064.1" fill="none" stroke="#ff8800" stroke-width="3.4"/>
<circle cx="149" cy="1982.9" r="2.9"/><circle cx="145.8" cy="1915.2" r="2.9"/><circle cx="142.5" cy="1847.4" r="2.9"/><circle cx="139.3" cy="1779.6" r="2.9"/><circle cx="136.1" cy="1711.8" r="2.9"/><circle cx="132.9" cy="1644" r="2.9"/><circle cx="154" cy="2088.7" r="2.9"/><circle cx="795.5" cy="2087.5" r="2.9"/><circle cx="474.7" cy="2246.1" r="2.9"/><circle cx="554.9" cy="2206.4" r="2.9"/><circle cx="635.1" cy="2166.8" r="2.9"/><circle cx="715.3" cy="2127.2" r="2.9"/><circle cx="394.5" cy="2206.8" r="2.9"/><circle cx="314.4" cy="2167.4" r="2.9"/><circle cx="234.2" cy="2128" r="2.9"/>
<g stroke="#000" stroke-width="1.45" stroke-linejoin="round">
<path d="M474.9 1685.7 489.8 1679 474.8 1680.8 459.9 1687.4Z" fill="#fff429"/><path d="M459.7 1692.3 474.9 1685.7 459.9 1687.4 444.8 1694Z" fill="#ffff29"/><path d="M490 1684.5 505 1677.8 489.8 1679 474.9 1685.7Z" fill="#ffde29"/><path d="M444.5 1698.7 459.7 1692.3 444.8 1694 429.6 1700.5Z" fill="#f6ff29"/><path d="M474.9 1691 490 1684.5 474.9 1685.7 459.7 1692.3Z" fill="#ffe829"/><path d="M505.3 1683.8 520.3 1677.1 505 1677.8 490 1684.5Z" fill="#ffca29"/><path d="M429 1705.1 444.5 1698.7 429.6 1700.5 414.1 1706.9Z" fill="#edff29"/><path d="M459.6 1697.5 474.9 1691 459.7 1692.3 444.5 1698.7Z" fill="#fff129"/><path d="M490.2 1690.4 505.3 1683.8 490 1684.5 474.9 1691Z" fill="#ffd329"/><path d="M520.8 1683.7 535.8 1677.1 520.3 1677.1 505.3 1683.8Z" fill="#ffb829"/><path d="M413.4 1711.4 429 1705.1 414.1 1706.9 398.5 1713.2Z" fill="#e5ff29"/><path d="M444.1 1703.9 459.6 1697.5 444.5 1698.7 429 1705.1Z" fill="#fffa29"/><path d="M474.9 1696.8 490.2 1690.4 474.9 1691 459.6 1697.5Z" fill="#ffdd29"/><path d="M505.7 1690.3 520.8 1683.7 505.3 1683.8 490.2 1690.4Z" fill="#ffc129"/><path d="M536.6 1684.2 551.6 1677.6 535.8 1677.1 520.8 1683.7Z" fill="#ffa829"/><path d="M397.6 1717.6 413.4 1711.4 398.5 1713.2 382.7 1719.5Z" fill="#ddff29"/><path d="M428.4 1710.2 444.1 1703.9 429 1705.1 413.4 1711.4Z" fill="#fcff29"/><path d="M459.4 1703.2 474.9 1696.8 459.6 1697.5 444.1 1703.9Z" fill="#ffe529"/><path d="M490.4 1696.8 505.7 1690.3 490.2 1690.4 474.9 1696.8Z" fill="#ffca29"/><path d="M521.4 1690.8 536.6 1684.2 520.8 1683.7 505.7 1690.3Z" fill="#ffb229"/><path d="M552.5 1685.3 567.5 1678.7 551.6 1677.6 536.6 1684.2Z" fill="#ff9b29"/><path d="M381.6 1723.7 397.6 1717.6 382.7 1719.5 366.7 1725.6Z" fill="#d6ff29"/><path d="M412.6 1716.3 428.4 1710.2 413.4 1711.4 397.6 1717.6Z" fill="#f5ff29"/><path d="M443.7 1709.5 459.4 1703.2 444.1 1703.9 428.4 1710.2Z" fill="#ffed29"/><path d="M474.9 1703.1 490.4 1696.8 474.9 1696.8 459.4 1703.2Z" fill="#ffd329"/><path d="M506.1 1697.3 521.4 1690.8 505.7 1690.3 490.4 1696.8Z" fill="#ffba29"/><path d="M537.3 1691.9 552.5 1685.3 536.6 1684.2 521.4 1690.8Z" fill="#ffa429"/><path d="M568.6 1687 583.6 1680.4 567.5 1678.7 552.5 1685.3Z" fill="#ff9029"/><path d="M365.4 1729.7 381.6 1723.7 366.7 1725.6 350.6 1731.6Z" fill="#d0ff29"/><path d="M396.6 1722.4 412.6 1716.3 397.6 1717.6 381.6 1723.7Z" fill="#eeff29"/><path d="M427.9 1715.7 443.7 1709.5 428.4 1710.2 412.6 1716.3Z" fill="#fff429"/><path d="M459.2 1709.4 474.9 1703.1 459.4 1703.2 443.7 1709.5Z" fill="#ffda29"/><path d="M490.6 1703.6 506.1 1697.3 490.4 1696.8 474.9 1703.1Z" fill="#ffc329"/><path d="M522 1698.4 537.3 1691.9 521.4 1690.8 506.1 1697.3Z" fill="#ffad29"/><path d="M553.4 1693.6 568.6 1687 552.5 1685.3 537.3 1691.9Z" fill="#ff9929"/><path d="M584.9 1689.4 599.9 1682.7 583.6 1680.4 568.6 1687Z" fill="#ff8729"/><path d="M349 1735.6 365.4 1729.7 350.6 1731.6 334.2 1737.5Z" fill="#caff29"/><path d="M380.4 1728.4 396.6 1722.4 381.6 1723.7 365.4 1729.7Z" fill="#e8ff29"/><path d="M411.8 1721.7 427.9 1715.7 412.6 1716.3 396.6 1722.4Z" fill="#fffb29"/><path d="M443.3 1715.5 459.2 1709.4 443.7 1709.5 427.9 1715.7Z" fill="#ffe129"/><path d="M474.9 1709.9 490.6 1703.6 474.9 1703.1 459.2 1709.4Z" fill="#ffca29"/><path d="M506.5 1704.7 522 1698.4 506.1 1697.3 490.6 1703.6Z" fill="#ffb529"/><path d="M538.1 1700.1 553.4 1693.6 537.3 1691.9 522 1698.4Z" fill="#ffa129"/><path d="M569.7 1696 584.9 1689.4 568.6 1687 553.4 1693.6Z" fill="#ff9029"/><path d="M601.4 1692.3 616.4 1685.7 599.9 1682.7 584.9 1689.4Z" fill="#ff8129"/><path d="M332.4 1741.4 349 1735.6 334.2 1737.5 317.6 1743.3Z" fill="#c6ff29"/><path d="M364 1734.3 380.4 1728.4 365.4 1729.7 349 1735.6Z" fill="#e2ff29"/><path d="M395.6 1727.7 411.8 1721.7 396.6 1722.4 380.4 1728.4Z" fill="#fdff29"/><path d="M427.3 1721.6 443.3 1715.5 427.9 1715.7 411.8 1721.7Z" fill="#ffe829"/><path d="M459 1716 474.9 1709.9 459.2 1709.4 443.3 1715.5Z" fill="#ffd129"/><path d="M490.8 1711 506.5 1704.7 490.6 1703.6 474.9 1709.9Z" fill="#ffbc29"/><path d="M522.6 1706.5 538.1 1700.1 522 1698.4 506.5 1704.7Z" fill="#ffa929"/><path d="M554.4 1702.4 569.7 1696 553.4 1693.6 538.1 1700.1Z" fill="#ff9829"/><path d="M586.3 1698.9 601.4 1692.3 584.9 1689.4 569.7 1696Z" fill="#ff8929"/><path d="M618.1 1696 633.1 1689.3 616.4 1685.7 601.4 1692.3Z" fill="#ff7c29"/><path d="M315.6 1747 332.4 1741.4 317.6 1743.3 300.9 1749Z" fill="#c1ff29"/><path d="M347.4 1740 364 1734.3 349 1735.6 332.4 1741.4Z" fill="#deff29"/><path d="M379.2 1733.5 395.6 1727.7 380.4 1728.4 364 1734.3Z" fill="#f8ff29"/><path d="M411 1727.6 427.3 1721.6 411.8 1721.7 395.6 1727.7Z" fill="#ffed29"/><path d="M442.9 1722.1 459 1716 443.3 1715.5 427.3 1721.6Z" fill="#ffd729"/><path d="M474.9 1717.1 490.8 1711 474.9 1709.9 459 1716Z" fill="#ffc329"/><path d="M506.9 1712.7 522.6 1706.5 506.5 1704.7 490.8 1711Z" fill="#ffb029"/><path d="M538.9 1708.8 554.4 1702.4 538.1 1700.1 522.6 1706.5Z" fill="#ffa029"/><path d="M570.9 1705.4 586.3 1698.9 569.7 1696 554.4 1702.4Z" fill="#ff9129"/><path d="M603 1702.6 618.1 1696 601.4 1692.3 586.3 1698.9Z" fill="#ff8529"/><path d="M635 1700.2 650 1693.5 633.1 1689.3 618.1 1696Z" fill="#ff7b29"/><path d="M298.6 1752.6 315.6 1747 300.9 1749 283.9 1754.5Z" fill="#beff29"/><path d="M330.5 1745.7 347.4 1740 332.4 1741.4 315.6 1747Z" fill="#daff29"/><path d="M362.5 1739.3 379.2 1733.5 364 1734.3 347.4 1740Z" fill="#f4ff29"/><path d="M394.6 1733.4 411 1727.6 395.6 1727.7 379.2 1733.5Z" fill="#fff229"/><path d="M426.7 1728.1 442.9 1722.1 427.3 1721.6 411 1727.6Z" fill="#ffdd29"/><path d="M458.8 1723.2 474.9 1717.1 459 1716 442.9 1722.1Z" fill="#ffc929"/><path d="M491 1718.9 506.9 1712.7 490.8 1711 474.9 1717.1Z" fill="#ffb729"/><path d="M523.2 1715.1 538.9 1708.8 522.6 1706.5 506.9 1712.7Z" fill="#ffa729"/><path d="M555.4 1711.8 570.9 1705.4 554.4 1702.4 538.9 1708.8Z" fill="#ff9929"/><path d="M587.6 1709.1 603 1702.6 586.3 1698.9 570.9 1705.4Z" fill="#ff8d29"/><path d="M619.9 1706.8 635 1700.2 618.1 1696 603 1702.6Z" fill="#ff8329"/><path d="M652.1 1705.1 667.1 1698.4 650 1693.5 635 1700.2Z" fill="#ff7b29"/><path d="M281.4 1758.1 298.6 1752.6 283.9 1754.5 266.7 1760Z" fill="#bbff29"/><path d="M313.5 1751.2 330.5 1745.7 315.6 1747 298.6 1752.6Z" fill="#d6ff29"/><path d="M345.7 1744.9 362.5 1739.3 347.4 1740 330.5 1745.7Z" fill="#f0ff29"/><path d="M377.9 1739.2 394.6 1733.4 379.2 1733.5 362.5 1739.3Z" fill="#fff729"/><path d="M410.2 1733.9 426.7 1728.1 411 1727.6 394.6 1733.4Z" fill="#ffe129"/><path d="M442.5 1729.2 458.8 1723.2 442.9 1722.1 426.7 1728.1Z" fill="#ffce29"/><path d="M474.9 1724.9 491 1718.9 474.9 1717.1 458.8 1723.2Z" fill="#ffbd29"/><path d="M507.3 1721.3 523.2 1715.1 506.9 1712.7 491 1718.9Z" fill="#ffad29"/><path d="M539.7 1718.1 555.4 1711.8 538.9 1708.8 523.2 1715.1Z" fill="#ffa029"/><path d="M572.1 1715.5 587.6 1709.1 570.9 1705.4 555.4 1711.8Z" fill="#ff9429"/><path d="M604.5 1713.4 619.9 1706.8 603 1702.6 587.6 1709.1Z" fill="#ff8b29"/><path d="M637 1711.8 652.1 1705.1 635 1700.2 619.9 1706.8Z" fill="#ff8329"/><path d="M669.4 1710.7 684.3 1704 667.1 1698.4 652.1 1705.1Z" fill="#ff7e29"/><path d="M264 1763.4 281.4 1758.1 266.7 1760 249.3 1765.4Z" fill="#b9ff29"/><path d="M296.3 1756.7 313.5 1751.2 298.6 1752.6 281.4 1758.1Z" fill="#d4ff29"/><path d="M328.6 1750.5 345.7 1744.9 330.5 1745.7 313.5 1751.2Z" fill="#edff29"/><path d="M361.1 1744.8 377.9 1739.2 362.5 1739.3 345.7 1744.9Z" fill="#fffa29"/><path d="M393.5 1739.6 410.2 1733.9 394.6 1733.4 377.9 1739.2Z" fill="#ffe529"/><path d="M426.1 1735 442.5 1729.2 426.7 1728.1 410.2 1733.9Z" fill="#ffd329"/><path d="M458.6 1730.9 474.9 1724.9 458.8 1723.2 442.5 1729.2Z" fill="#ffc229"/><path d="M491.2 1727.3 507.3 1721.3 491 1718.9 474.9 1724.9Z" fill="#ffb329"/><path d="M523.8 1724.3 539.7 1718.1 523.2 1715.1 507.3 1721.3Z" fill="#ffa629"/><path d="M556.4 1721.8 572.1 1715.5 555.4 1711.8 539.7 1718.1Z" fill="#ff9b29"/><path d="M589 1719.8 604.5 1713.4 587.6 1709.1 572.1 1715.5Z" fill="#ff9229"/><path d="M621.6 1718.3 637 1711.8 619.9 1706.8 604.5 1713.4Z" fill="#ff8b29"/><path d="M686.8 1717 701.8 1710.2 684.3 1704 669.4 1710.7Z" fill="#ff8329"/><path d="M654.3 1717.4 669.4 1710.7 652.1 1705.1 637 1711.8Z" fill="#ff8629"/><path d="M246.3 1768.6 264 1763.4 249.3 1765.4 231.7 1770.7Z" fill="#b7ff29"/><path d="M278.8 1762 296.3 1756.7 281.4 1758.1 264 1763.4Z" fill="#d2ff29"/><path d="M311.4 1755.9 328.6 1750.5 313.5 1751.2 296.3 1756.7Z" fill="#eaff29"/><path d="M344 1750.3 361.1 1744.8 345.7 1744.9 328.6 1750.5Z" fill="#fffd29"/><path d="M376.7 1745.3 393.5 1739.6 377.9 1739.2 361.1 1744.8Z" fill="#ffe929"/><path d="M409.4 1740.7 426.1 1735 410.2 1733.9 393.5 1739.6Z" fill="#ffd729"/><path d="M442.1 1736.7 458.6 1730.9 442.5 1729.2 426.1 1735Z" fill="#ffc629"/><path d="M474.9 1733.3 491.2 1727.3 474.9 1724.9 458.6 1730.9Z" fill="#ffb829"/><path d="M507.7 1730.3 523.8 1724.3 507.3 1721.3 491.2 1727.3Z" fill="#ffab29"/><path d="M540.5 1727.9 556.4 1721.8 539.7 1718.1 523.8 1724.3Z" fill="#ffa129"/><path d="M704.5 1724 719.4 1717.2 701.8 1710.2 686.8 1717Z" fill="#ff8b29"/><path d="M573.3 1726.1 589 1719.8 572.1 1715.5 556.4 1721.8Z" fill="#ff9829"/><path d="M671.7 1723.7 686.8 1717 669.4 1710.7 654.3 1717.4Z" fill="#ff8b29"/><path d="M606.1 1724.8 621.6 1718.3 604.5 1713.4 589 1719.8Z" fill="#ff9229"/><path d="M639 1724 654.3 1717.4 637 1711.8 621.6 1718.3Z" fill="#ff8e29"/><path d="M228.4 1773.8 246.3 1768.6 231.7 1770.7 213.9 1775.8Z" fill="#b7ff29"/><path d="M261.1 1767.2 278.8 1762 264 1763.4 246.3 1768.6Z" fill="#d1ff29"/><path d="M293.9 1761.2 311.4 1755.9 296.3 1756.7 278.8 1762Z" fill="#e8ff29"/><path d="M326.7 1755.7 344 1750.3 328.6 1750.5 311.4 1755.9Z" fill="#feff29"/><path d="M359.6 1750.8 376.7 1745.3 361.1 1744.8 344 1750.3Z" fill="#ffec29"/><path d="M392.5 1746.4 409.4 1740.7 393.5 1739.6 376.7 1745.3Z" fill="#ffda29"/><path d="M425.4 1742.5 442.1 1736.7 426.1 1735 409.4 1740.7Z" fill="#ffca29"/><path d="M458.4 1739.1 474.9 1733.3 458.6 1730.9 442.1 1736.7Z" fill="#ffbc29"/><path d="M491.4 1736.3 507.7 1730.3 491.2 1727.3 474.9 1733.3Z" fill="#ffb029"/><path d="M722.4 1731.7 737.2 1724.8 719.4 1717.2 704.5 1724Z" fill="#ff9429"/><path d="M524.4 1734 540.5 1727.9 523.8 1724.3 507.7 1730.3Z" fill="#ffa629"/><path d="M689.4 1730.7 704.5 1724 686.8 1717 671.7 1723.7Z" fill="#ff9229"/><path d="M557.4 1732.3 573.3 1726.1 556.4 1721.8 540.5 1727.9Z" fill="#ff9e29"/><path d="M656.5 1730.3 671.7 1723.7 654.3 1717.4 639 1724Z" fill="#ff9229"/><path d="M590.5 1731.1 606.1 1724.8 589 1719.8 573.3 1726.1Z" fill="#ff9829"/><path d="M623.5 1730.4 639 1724 621.6 1718.3 606.1 1724.8Z" fill="#ff9429"/><path d="M210.3 1778.8 228.4 1773.8 213.9 1775.8 195.8 1780.8Z" fill="#b7ff29"/><path d="M243.2 1772.3 261.1 1767.2 246.3 1768.6 228.4 1773.8Z" fill="#d0ff29"/><path d="M276.1 1766.4 293.9 1761.2 278.8 1762 261.1 1767.2Z" fill="#e7ff29"/><path d="M309.2 1761 326.7 1755.7 311.4 1755.9 293.9 1761.2Z" fill="#fdff29"/><path d="M342.2 1756.2 359.6 1750.8 344 1750.3 326.7 1755.7Z" fill="#ffee29"/><path d="M375.4 1751.9 392.5 1746.4 376.7 1745.3 359.6 1750.8Z" fill="#ffdc29"/><path d="M408.5 1748.1 425.4 1742.5 409.4 1740.7 392.5 1746.4Z" fill="#ffcd29"/><path d="M740.4 1740.1 755.3 1733.2 737.2 1724.8 722.4 1731.7Z" fill="#ffa129"/><path d="M441.7 1744.9 458.4 1739.1 442.1 1736.7 425.4 1742.5Z" fill="#ffc029"/><path d="M707.3 1738.5 722.4 1731.7 704.5 1724 689.4 1730.7Z" fill="#ff9c29"/><path d="M474.9 1742.2 491.4 1736.3 474.9 1733.3 458.4 1739.1Z" fill="#ffb429"/><path d="M674.2 1737.4 689.4 1730.7 671.7 1723.7 656.5 1730.3Z" fill="#ff9929"/><path d="M508.1 1740 524.4 1734 507.7 1730.3 491.4 1736.3Z" fill="#ffab29"/><path d="M641 1736.8 656.5 1730.3 639 1724 623.5 1730.4Z" fill="#ff9929"/><path d="M541.4 1738.4 557.4 1732.3 540.5 1727.9 524.4 1734Z" fill="#ffa329"/><path d="M607.8 1736.8 623.5 1730.4 606.1 1724.8 590.5 1731.1Z" fill="#ff9a29"/><path d="M574.6 1737.3 590.5 1731.1 573.3 1726.1 557.4 1732.3Z" fill="#ff9e29"/><path d="M191.9 1783.7 210.3 1778.8 195.8 1780.8 177.4 1785.7Z" fill="#b7ff29"/><path d="M225 1777.3 243.2 1772.3 228.4 1773.8 210.3 1778.8Z" fill="#d0ff29"/><path d="M258.2 1771.5 276.1 1766.4 261.1 1767.2 243.2 1772.3Z" fill="#e7ff29"/><path d="M291.4 1766.2 309.2 1761 293.9 1761.2 276.1 1766.4Z" fill="#fcff29"/><path d="M324.7 1761.5 342.2 1756.2 326.7 1755.7 309.2 1761Z" fill="#ffef29"/><path d="M358 1757.3 375.4 1751.9 359.6 1750.8 342.2 1756.2Z" fill="#ffde29"/><path d="M758.6 1749.2 773.5 1742.3 755.3 1733.2 740.4 1740.1Z" fill="#ffaf29"/><path d="M391.4 1753.6 408.5 1748.1 392.5 1746.4 375.4 1751.9Z" fill="#ffcf29"/><path d="M725.4 1746.9 740.4 1740.1 722.4 1731.7 707.3 1738.5Z" fill="#ffa829"/><path d="M424.8 1750.5 441.7 1744.9 425.4 1742.5 408.5 1748.1Z" fill="#ffc229"/><path d="M692.1 1745.1 707.3 1738.5 689.4 1730.7 674.2 1737.4Z" fill="#ffa329"/><path d="M458.2 1747.9 474.9 1742.2 458.4 1739.1 441.7 1744.9Z" fill="#ffb729"/><path d="M658.7 1743.9 674.2 1737.4 656.5 1730.3 641 1736.8Z" fill="#ffa029"/><path d="M491.6 1745.9 508.1 1740 491.4 1736.3 474.9 1742.2Z" fill="#ffaf29"/><path d="M625.3 1743.2 641 1736.8 623.5 1730.4 607.8 1736.8Z" fill="#ff9f29"/><path d="M525.1 1744.4 541.4 1738.4 524.4 1734 508.1 1740Z" fill="#ffa829"/><path d="M591.9 1743.1 607.8 1736.8 590.5 1731.1 574.6 1737.3Z" fill="#ffa029"/><path d="M558.5 1743.5 574.6 1737.3 557.4 1732.3 541.4 1738.4Z" fill="#ffa329"/><path d="M173.3 1788.4 191.9 1783.7 177.4 1785.7 158.9 1790.5Z" fill="#b8ff29"/><path d="M206.6 1782.2 225 1777.3 210.3 1778.8 191.9 1783.7Z" fill="#d1ff29"/><path d="M240 1776.5 258.2 1771.5 243.2 1772.3 225 1777.3Z" fill="#e7ff29"/><path d="M273.4 1771.3 291.4 1766.2 276.1 1766.4 258.2 1771.5Z" fill="#fcff29"/><path d="M777 1759.1 791.8 1752.1 773.5 1742.3 758.6 1749.2Z" fill="#ffc029"/><path d="M306.9 1766.7 324.7 1761.5 309.2 1761 291.4 1766.2Z" fill="#fff029"/><path d="M743.6 1756.1 758.6 1749.2 740.4 1740.1 725.4 1746.9Z" fill="#ffb629"/><path d="M340.5 1762.6 358 1757.3 342.2 1756.2 324.7 1761.5Z" fill="#ffe029"/><path d="M710.2 1753.6 725.4 1746.9 707.3 1738.5 692.1 1745.1Z" fill="#ffaf29"/><path d="M374 1759 391.4 1753.6 375.4 1751.9 358 1757.3Z" fill="#ffd129"/><path d="M676.6 1751.7 692.1 1745.1 674.2 1737.4 658.7 1743.9Z" fill="#ffa929"/><path d="M407.7 1756 424.8 1750.5 408.5 1748.1 391.4 1753.6Z" fill="#ffc529"/><path d="M643.1 1750.3 658.7 1743.9 641 1736.8 625.3 1743.2Z" fill="#ffa629"/><path d="M441.3 1753.6 458.2 1747.9 441.7 1744.9 424.8 1750.5Z" fill="#ffba29"/><path d="M609.5 1749.5 625.3 1743.2 607.8 1736.8 591.9 1743.1Z" fill="#ffa429"/><path d="M474.9 1751.6 491.6 1745.9 474.9 1742.2 458.2 1747.9Z" fill="#ffb229"/><path d="M575.9 1749.2 591.9 1743.1 574.6 1737.3 558.5 1743.5Z" fill="#ffa429"/><path d="M508.6 1750.3 525.1 1744.4 508.1 1740 491.6 1745.9Z" fill="#ffab29"/><path d="M542.2 1749.5 558.5 1743.5 541.4 1738.4 525.1 1744.4Z" fill="#ffa729"/><path d="M154.4 1793.1 173.3 1788.4 158.9 1790.5 140 1795.2Z" fill="#baff29"/><path d="M187.9 1786.9 206.6 1782.2 191.9 1783.7 173.3 1788.4Z" fill="#d2ff29"/><path d="M221.5 1781.3 240 1776.5 225 1777.3 206.6 1782.2Z" fill="#e8ff29"/><path d="M795.6 1769.7 810.4 1762.7 791.8 1752.1 777 1759.1Z" fill="#ffd329"/><path d="M255.2 1776.2 273.4 1771.3 258.2 1771.5 240 1776.5Z" fill="#fcff29"/><path d="M762.1 1766 777 1759.1 758.6 1749.2 743.6 1756.1Z" fill="#ffc729"/><path d="M288.9 1771.7 306.9 1766.7 291.4 1766.2 273.4 1771.3Z" fill="#fff029"/><path d="M728.4 1762.9 743.6 1756.1 725.4 1746.9 710.2 1753.6Z" fill="#ffbd29"/><path d="M322.7 1767.7 340.5 1762.6 324.7 1761.5 306.9 1766.7Z" fill="#ffe029"/><path d="M694.7 1760.2 710.2 1753.6 692.1 1745.1 676.6 1751.7Z" fill="#ffb529"/><path d="M356.5 1764.3 374 1759 358 1757.3 340.5 1762.6Z" fill="#ffd229"/><path d="M661 1758.2 676.6 1751.7 658.7 1743.9 643.1 1750.3Z" fill="#ffaf29"/><path d="M390.3 1761.4 407.7 1756 391.4 1753.6 374 1759Z" fill="#ffc629"/><path d="M627.2 1756.6 643.1 1750.3 625.3 1743.2 609.5 1749.5Z" fill="#ffab29"/><path d="M424.1 1759.1 441.3 1753.6 424.8 1750.5 407.7 1756Z" fill="#ffbc29"/><path d="M593.4 1755.7 609.5 1749.5 591.9 1743.1 575.9 1749.2Z" fill="#ffa929"/><path d="M458 1757.3 474.9 1751.6 458.2 1747.9 441.3 1753.6Z" fill="#ffb429"/><path d="M559.6 1755.2 575.9 1749.2 558.5 1743.5 542.2 1749.5Z" fill="#ffa829"/><path d="M491.9 1756.1 508.6 1750.3 491.6 1745.9 474.9 1751.6Z" fill="#ffae29"/><path d="M525.7 1755.4 542.2 1749.5 525.1 1744.4 508.6 1750.3Z" fill="#ffaa29"/><path d="M169 1791.5 187.9 1786.9 173.3 1788.4 154.4 1793.1Z" fill="#d4ff29"/><path d="M780.7 1776.7 795.6 1769.7 777 1759.1 762.1 1766Z" fill="#ffda29"/><path d="M202.8 1786 221.5 1781.3 206.6 1782.2 187.9 1786.9Z" fill="#eaff29"/><path d="M746.9 1772.8 762.1 1766 743.6 1756.1 728.4 1762.9Z" fill="#ffcd29"/><path d="M236.7 1781.1 255.2 1776.2 240 1776.5 221.5 1781.3Z" fill="#fdff29"/><path d="M713.1 1769.5 728.4 1762.9 710.2 1753.6 694.7 1760.2Z" fill="#ffc229"/><path d="M270.6 1776.7 288.9 1771.7 273.4 1771.3 255.2 1776.2Z" fill="#ffef29"/><path d="M679.2 1766.7 694.7 1760.2 676.6 1751.7 661 1758.2Z" fill="#ffba29"/><path d="M304.6 1772.8 322.7 1767.7 306.9 1766.7 288.9 1771.7Z" fill="#ffe029"/><path d="M645.2 1764.5 661 1758.2 643.1 1750.3 627.2 1756.6Z" fill="#ffb329"/><path d="M338.6 1769.5 356.5 1764.3 340.5 1762.6 322.7 1767.7Z" fill="#ffd329"/><path d="M611.2 1762.9 627.2 1756.6 609.5 1749.5 593.4 1755.7Z" fill="#ffaf29"/><path d="M372.7 1766.7 390.3 1761.4 374 1759 356.5 1764.3Z" fill="#ffc729"/><path d="M577.2 1761.7 593.4 1755.7 575.9 1749.2 559.6 1755.2Z" fill="#ffac29"/><path d="M406.8 1764.5 424.1 1759.1 407.7 1756 390.3 1761.4Z" fill="#ffbe29"/><path d="M543.1 1761.2 559.6 1755.2 542.2 1749.5 525.7 1755.4Z" fill="#ffac29"/><path d="M440.8 1762.8 458 1757.3 441.3 1753.6 424.1 1759.1Z" fill="#ffb629"/><path d="M509 1761.2 525.7 1755.4 508.6 1750.3 491.9 1756.1Z" fill="#ffad29"/><path d="M474.9 1761.7 491.9 1756.1 474.9 1751.6 458 1757.3Z" fill="#ffb129"/><path d="M765.6 1783.6 780.7 1776.7 762.1 1766 746.9 1772.8Z" fill="#ffe029"/><path d="M183.9 1790.6 202.8 1786 187.9 1786.9 169 1791.5Z" fill="#ecff29"/><path d="M731.6 1779.6 746.9 1772.8 728.4 1762.9 713.1 1769.5Z" fill="#ffd329"/><path d="M218 1785.8 236.7 1781.1 221.5 1781.3 202.8 1786Z" fill="#ffff29"/><path d="M697.5 1776.1 713.1 1769.5 694.7 1760.2 679.2 1766.7Z" fill="#ffc829"/><path d="M252.1 1781.5 270.6 1776.7 255.2 1776.2 236.7 1781.1Z" fill="#ffee29"/><path d="M663.4 1773.2 679.2 1766.7 661 1758.2 645.2 1764.5Z" fill="#ffbf29"/><path d="M286.3 1777.7 304.6 1772.8 288.9 1771.7 270.6 1776.7Z" fill="#ffdf29"/><path d="M629.2 1770.8 645.2 1764.5 627.2 1756.6 611.2 1762.9Z" fill="#ffb829"/><path d="M320.6 1774.5 338.6 1769.5 322.7 1767.7 304.6 1772.8Z" fill="#ffd229"/><path d="M594.9 1769 611.2 1762.9 593.4 1755.7 577.2 1761.7Z" fill="#ffb329"/><path d="M354.9 1771.9 372.7 1766.7 356.5 1764.3 338.6 1769.5Z" fill="#ffc729"/><path d="M560.7 1767.7 577.2 1761.7 559.6 1755.2 543.1 1761.2Z" fill="#ffb029"/><path d="M389.1 1769.8 406.8 1764.5 390.3 1761.4 372.7 1766.7Z" fill="#ffbe29"/><path d="M526.4 1767 543.1 1761.2 525.7 1755.4 509 1761.2Z" fill="#ffaf29"/><path d="M423.5 1768.2 440.8 1762.8 424.1 1759.1 406.8 1764.5Z" fill="#ffb729"/><path d="M492.1 1766.9 509 1761.2 491.9 1756.1 474.9 1761.7Z" fill="#ffaf29"/><path d="M457.8 1767.3 474.9 1761.7 458 1757.3 440.8 1762.8Z" fill="#ffb229"/><path d="M750.3 1790.3 765.6 1783.6 746.9 1772.8 731.6 1779.6Z" fill="#ffe529"/><path d="M716 1786.2 731.6 1779.6 713.1 1769.5 697.5 1776.1Z" fill="#ffd829"/><path d="M681.7 1782.5 697.5 1776.1 679.2 1766.7 663.4 1773.2Z" fill="#ffcc29"/><path d="M199 1790.4 218 1785.8 202.8 1786 183.9 1790.6Z" fill="#fffd29"/><path d="M647.4 1779.4 663.4 1773.2 645.2 1764.5 629.2 1770.8Z" fill="#ffc329"/><path d="M233.4 1786.2 252.1 1781.5 236.7 1781.1 218 1785.8Z" fill="#ffec29"/><path d="M612.9 1776.9 629.2 1770.8 611.2 1762.9 594.9 1769Z" fill="#ffbb29"/><path d="M267.8 1782.5 286.3 1777.7 270.6 1776.7 252.1 1781.5Z" fill="#ffde29"/><path d="M578.5 1775 594.9 1769 577.2 1761.7 560.7 1767.7Z" fill="#ffb629"/><path d="M302.3 1779.4 320.6 1774.5 304.6 1772.8 286.3 1777.7Z" fill="#ffd129"/><path d="M544 1773.6 560.7 1767.7 543.1 1761.2 526.4 1767Z" fill="#ffb229"/><path d="M336.8 1776.9 354.9 1771.9 338.6 1769.5 320.6 1774.5Z" fill="#ffc729"/><path d="M509.5 1772.7 526.4 1767 509 1761.2 492.1 1766.9Z" fill="#ffb129"/><path d="M371.3 1775 389.1 1769.8 372.7 1766.7 354.9 1771.9Z" fill="#ffbe29"/><path d="M474.9 1772.4 492.1 1766.9 474.9 1761.7 457.8 1767.3Z" fill="#ffb129"/><path d="M405.8 1773.6 423.5 1768.2 406.8 1764.5 389.1 1769.8Z" fill="#ffb829"/><path d="M440.4 1772.7 457.8 1767.3 440.8 1762.8 423.5 1768.2Z" fill="#ffb329"/><path d="M734.8 1797 750.3 1790.3 731.6 1779.6 716 1786.2Z" fill="#ffea29"/><path d="M700.3 1792.7 716 1786.2 697.5 1776.1 681.7 1782.5Z" fill="#ffdc29"/><path d="M665.8 1788.9 681.7 1782.5 663.4 1773.2 647.4 1779.4Z" fill="#ffd029"/><path d="M631.2 1785.6 647.4 1779.4 629.2 1770.8 612.9 1776.9Z" fill="#ffc629"/><path d="M214.3 1790.7 233.4 1786.2 218 1785.8 199 1790.4Z" fill="#ffea29"/><path d="M596.5 1783 612.9 1776.9 594.9 1769 578.5 1775Z" fill="#ffbe29"/><path d="M249 1787.2 267.8 1782.5 252.1 1781.5 233.4 1786.2Z" fill="#ffdc29"/><path d="M561.8 1780.9 578.5 1775 560.7 1767.7 544 1773.6Z" fill="#ffb829"/><path d="M283.7 1784.2 302.3 1779.4 286.3 1777.7 267.8 1782.5Z" fill="#ffd029"/><path d="M527.1 1779.3 544 1773.6 526.4 1767 509.5 1772.7Z" fill="#ffb429"/><path d="M318.4 1781.8 336.8 1776.9 320.6 1774.5 302.3 1779.4Z" fill="#ffc629"/><path d="M492.3 1778.3 509.5 1772.7 492.1 1766.9 474.9 1772.4Z" fill="#ffb229"/><path d="M353.2 1780 371.3 1775 354.9 1771.9 336.8 1776.9Z" fill="#ffbe29"/><path d="M457.6 1777.9 474.9 1772.4 457.8 1767.3 440.4 1772.7Z" fill="#ffb229"/><path d="M388 1778.7 405.8 1773.6 389.1 1769.8 371.3 1775Z" fill="#ffb829"/><path d="M422.8 1778 440.4 1772.7 423.5 1768.2 405.8 1773.6Z" fill="#ffb429"/><path d="M719.1 1803.6 734.8 1797 716 1786.2 700.3 1792.7Z" fill="#ffee29"/><path d="M684.4 1799.1 700.3 1792.7 681.7 1782.5 665.8 1788.9Z" fill="#ffe029"/><path d="M649.6 1795.1 665.8 1788.9 647.4 1779.4 631.2 1785.6Z" fill="#ffd329"/><path d="M614.7 1791.7 631.2 1785.6 612.9 1776.9 596.5 1783Z" fill="#ffc929"/><path d="M579.8 1788.9 596.5 1783 578.5 1775 561.8 1780.9Z" fill="#ffc029"/><path d="M544.9 1786.6 561.8 1780.9 544 1773.6 527.1 1779.3Z" fill="#ffba29"/><path d="M229.9 1791.8 249 1787.2 233.4 1786.2 214.3 1790.7Z" fill="#ffd929"/><path d="M509.9 1784.9 527.1 1779.3 509.5 1772.7 492.3 1778.3Z" fill="#ffb529"/><path d="M264.9 1788.9 283.7 1784.2 267.8 1782.5 249 1787.2Z" fill="#ffcd29"/><path d="M474.9 1783.8 492.3 1778.3 474.9 1772.4 457.6 1777.9Z" fill="#ffb229"/><path d="M299.9 1786.6 318.4 1781.8 302.3 1779.4 283.7 1784.2Z" fill="#ffc429"/><path d="M439.9 1783.2 457.6 1777.9 440.4 1772.7 422.8 1778Z" fill="#ffb229"/><path d="M334.9 1784.9 353.2 1780 336.8 1776.9 318.4 1781.8Z" fill="#ffbc29"/><path d="M404.9 1783.2 422.8 1778 405.8 1773.6 388 1778.7Z" fill="#ffb329"/><path d="M369.9 1783.8 388 1778.7 371.3 1775 353.2 1780Z" fill="#ffb729"/><path d="M703.2 1810 719.1 1803.6 700.3 1792.7 684.4 1799.1Z" fill="#fff129"/><path d="M668.2 1805.4 684.4 1799.1 665.8 1788.9 649.6 1795.1Z" fill="#ffe229"/><path d="M633.2 1801.3 649.6 1795.1 631.2 1785.6 614.7 1791.7Z" fill="#ffd529"/><path d="M598.1 1797.7 614.7 1791.7 596.5 1783 579.8 1788.9Z" fill="#ffca29"/><path d="M563 1794.7 579.8 1788.9 561.8 1780.9 544.9 1786.6Z" fill="#ffc129"/><path d="M527.8 1792.3 544.9 1786.6 527.1 1779.3 509.9 1784.9Z" fill="#ffba29"/><path d="M492.6 1790.4 509.9 1784.9 492.3 1778.3 474.9 1783.8Z" fill="#ffb529"/><path d="M245.8 1793.5 264.9 1788.9 249 1787.2 229.9 1791.8Z" fill="#ffca29"/><path d="M457.3 1789.2 474.9 1783.8 457.6 1777.9 439.9 1783.2Z" fill="#ffb229"/><path d="M281 1791.3 299.9 1786.6 283.7 1784.2 264.9 1788.9Z" fill="#ffc129"/><path d="M422.1 1788.4 439.9 1783.2 422.8 1778 404.9 1783.2Z" fill="#ffb129"/><path d="M316.3 1789.7 334.9 1784.9 318.4 1781.8 299.9 1786.6Z" fill="#ffba29"/><path d="M386.8 1788.3 404.9 1783.2 388 1778.7 369.9 1783.8Z" fill="#ffb229"/><path d="M351.5 1788.7 369.9 1783.8 353.2 1780 334.9 1784.9Z" fill="#ffb529"/><path d="M687 1816.4 703.2 1810 684.4 1799.1 668.2 1805.4Z" fill="#fff429"/><path d="M651.8 1811.6 668.2 1805.4 649.6 1795.1 633.2 1801.3Z" fill="#ffe529"/><path d="M616.6 1807.3 633.2 1801.3 614.7 1791.7 598.1 1797.7Z" fill="#ffd729"/><path d="M581.2 1803.6 598.1 1797.7 579.8 1788.9 563 1794.7Z" fill="#ffcc29"/><path d="M545.8 1800.4 563 1794.7 544.9 1786.6 527.8 1792.3Z" fill="#ffc229"/><path d="M510.4 1797.8 527.8 1792.3 509.9 1784.9 492.6 1790.4Z" fill="#ffbb29"/><path d="M475 1795.8 492.6 1790.4 474.9 1783.8 457.3 1789.2Z" fill="#ffb529"/><path d="M439.5 1794.4 457.3 1789.2 439.9 1783.2 422.1 1788.4Z" fill="#ffb229"/><path d="M403.9 1793.5 422.1 1788.4 404.9 1783.2 386.8 1788.3Z" fill="#ffb029"/><path d="M261.9 1795.9 281 1791.3 264.9 1788.9 245.8 1793.5Z" fill="#ffbe29"/><path d="M368.4 1793.3 386.8 1788.3 369.9 1783.8 351.5 1788.7Z" fill="#ffb129"/><path d="M297.4 1794.4 316.3 1789.7 299.9 1786.6 281 1791.3Z" fill="#ffb829"/><path d="M332.9 1793.5 351.5 1788.7 334.9 1784.9 316.3 1789.7Z" fill="#ffb329"/><path d="M670.7 1822.7 687 1816.4 668.2 1805.4 651.8 1811.6Z" fill="#fff629"/><path d="M635.2 1817.6 651.8 1811.6 633.2 1801.3 616.6 1807.3Z" fill="#ffe629"/><path d="M599.7 1813.2 616.6 1807.3 598.1 1797.7 581.2 1803.6Z" fill="#ffd829"/><path d="M564.1 1809.3 581.2 1803.6 563 1794.7 545.8 1800.4Z" fill="#ffcc29"/><path d="M528.5 1806 545.8 1800.4 527.8 1792.3 510.4 1797.8Z" fill="#ffc229"/><path d="M492.8 1803.3 510.4 1797.8 492.6 1790.4 475 1795.8Z" fill="#ffba29"/><path d="M457.1 1801.1 475 1795.8 457.3 1789.2 439.5 1794.4Z" fill="#ffb429"/><path d="M421.3 1799.5 439.5 1794.4 422.1 1788.4 403.9 1793.5Z" fill="#ffb029"/><path d="M385.6 1798.5 403.9 1793.5 386.8 1788.3 368.4 1793.3Z" fill="#ffae29"/><path d="M349.8 1798.1 368.4 1793.3 351.5 1788.7 332.9 1793.5Z" fill="#ffae29"/><path d="M278.2 1799 297.4 1794.4 281 1791.3 261.9 1795.9Z" fill="#ffb429"/><path d="M314 1798.2 332.9 1793.5 316.3 1789.7 297.4 1794.4Z" fill="#ffb029"/><path d="M654.1 1828.8 670.7 1822.7 651.8 1811.6 635.2 1817.6Z" fill="#fff829"/><path d="M618.4 1823.6 635.2 1817.6 616.6 1807.3 599.7 1813.2Z" fill="#ffe729"/><path d="M582.7 1819 599.7 1813.2 581.2 1803.6 564.1 1809.3Z" fill="#ffd929"/><path d="M546.8 1814.9 564.1 1809.3 545.8 1800.4 528.5 1806Z" fill="#ffcc29"/><path d="M510.9 1811.5 528.5 1806 510.4 1797.8 492.8 1803.3Z" fill="#ffc229"/><path d="M475 1808.6 492.8 1803.3 475 1795.8 457.1 1801.1Z" fill="#ffb929"/><path d="M439 1806.2 457.1 1801.1 439.5 1794.4 421.3 1799.5Z" fill="#ffb329"/><path d="M403 1804.5 421.3 1799.5 403.9 1793.5 385.6 1798.5Z" fill="#ffae29"/><path d="M366.9 1803.3 385.6 1798.5 368.4 1793.3 349.8 1798.1Z" fill="#ffac29"/><path d="M330.9 1802.8 349.8 1798.1 332.9 1793.5 314 1798.2Z" fill="#ffab29"/><path d="M294.9 1802.8 314 1798.2 297.4 1794.4 278.2 1799Z" fill="#ffad29"/><path d="M637.4 1834.8 654.1 1828.8 635.2 1817.6 618.4 1823.6Z" fill="#fff829"/><path d="M601.4 1829.5 618.4 1823.6 599.7 1813.2 582.7 1819Z" fill="#ffe829"/><path d="M565.3 1824.7 582.7 1819 564.1 1809.3 546.8 1814.9Z" fill="#ffd929"/><path d="M529.2 1820.4 546.8 1814.9 528.5 1806 510.9 1811.5Z" fill="#ffcc29"/><path d="M493.1 1816.8 510.9 1811.5 492.8 1803.3 475 1808.6Z" fill="#ffc129"/><path d="M456.9 1813.7 475 1808.6 457.1 1801.1 439 1806.2Z" fill="#ffb829"/><path d="M420.6 1811.3 439 1806.2 421.3 1799.5 403 1804.5Z" fill="#ffb129"/><path d="M384.3 1809.4 403 1804.5 385.6 1798.5 366.9 1803.3Z" fill="#ffac29"/><path d="M348 1808.1 366.9 1803.3 349.8 1798.1 330.9 1802.8Z" fill="#ffa929"/><path d="M311.7 1807.3 330.9 1802.8 314 1798.2 294.9 1802.8Z" fill="#ffa829"/><path d="M620.3 1840.7 637.4 1834.8 618.4 1823.6 601.4 1829.5Z" fill="#fff929"/><path d="M584.1 1835.2 601.4 1829.5 582.7 1819 565.3 1824.7Z" fill="#ffe729"/><path d="M547.8 1830.2 565.3 1824.7 546.8 1814.9 529.2 1820.4Z" fill="#ffd829"/><path d="M511.4 1825.8 529.2 1820.4 510.9 1811.5 493.1 1816.8Z" fill="#ffca29"/><path d="M475 1822 493.1 1816.8 475 1808.6 456.9 1813.7Z" fill="#ffbf29"/><path d="M438.5 1818.8 456.9 1813.7 439 1806.2 420.6 1811.3Z" fill="#ffb529"/><path d="M402 1816.2 420.6 1811.3 403 1804.5 384.3 1809.4Z" fill="#ffae29"/><path d="M365.4 1814.1 384.3 1809.4 366.9 1803.3 348 1808.1Z" fill="#ffa829"/><path d="M328.8 1812.6 348 1808.1 330.9 1802.8 311.7 1807.3Z" fill="#ffa529"/><path d="M603.1 1846.5 620.3 1840.7 601.4 1829.5 584.1 1835.2Z" fill="#fff829"/><path d="M566.6 1840.8 584.1 1835.2 565.3 1824.7 547.8 1830.2Z" fill="#ffe629"/><path d="M530 1835.7 547.8 1830.2 529.2 1820.4 511.4 1825.8Z" fill="#ffd629"/><path d="M493.3 1831.1 511.4 1825.8 493.1 1816.8 475 1822Z" fill="#ffc829"/><path d="M456.6 1827.1 475 1822 456.9 1813.7 438.5 1818.8Z" fill="#ffbc29"/><path d="M419.8 1823.7 438.5 1818.8 420.6 1811.3 402 1816.2Z" fill="#ffb229"/><path d="M383 1820.9 402 1816.2 384.3 1809.4 365.4 1814.1Z" fill="#ffaa29"/><path d="M346.2 1818.7 365.4 1814.1 348 1808.1 328.8 1812.6Z" fill="#ffa429"/><path d="M585.6 1852.2 603.1 1846.5 584.1 1835.2 566.6 1840.8Z" fill="#fff729"/><path d="M548.8 1846.3 566.6 1840.8 547.8 1830.2 530 1835.7Z" fill="#ffe429"/><path d="M511.9 1841 530 1835.7 511.4 1825.8 493.3 1831.1Z" fill="#ffd429"/><path d="M475 1836.2 493.3 1831.1 475 1822 456.6 1827.1Z" fill="#ffc529"/><path d="M438 1832.1 456.6 1827.1 438.5 1818.8 419.8 1823.7Z" fill="#ffb929"/><path d="M400.9 1828.5 419.8 1823.7 402 1816.2 383 1820.9Z" fill="#ffae29"/><path d="M363.8 1825.6 383 1820.9 365.4 1814.1 346.2 1818.7Z" fill="#ffa629"/><path d="M567.8 1857.8 585.6 1852.2 566.6 1840.8 548.8 1846.3Z" fill="#fff529"/><path d="M530.8 1851.7 548.8 1846.3 530 1835.7 511.9 1841Z" fill="#ffe229"/><path d="M493.6 1846.2 511.9 1841 493.3 1831.1 475 1836.2Z" fill="#ffd129"/><path d="M456.4 1841.3 475 1836.2 456.6 1827.1 438 1832.1Z" fill="#ffc229"/><path d="M419.1 1836.9 438 1832.1 419.8 1823.7 400.9 1828.5Z" fill="#ffb529"/><path d="M381.7 1833.2 400.9 1828.5 383 1820.9 363.8 1825.6Z" fill="#ffaa29"/><path d="M549.8 1863.2 567.8 1857.8 548.8 1846.3 530.8 1851.7Z" fill="#fff229"/><path d="M512.4 1856.9 530.8 1851.7 511.9 1841 493.6 1846.2Z" fill="#ffdf29"/><path d="M475 1851.2 493.6 1846.2 475 1836.2 456.4 1841.3Z" fill="#ffcd29"/><path d="M437.5 1846.1 456.4 1841.3 438 1832.1 419.1 1836.9Z" fill="#ffbe29"/><path d="M399.9 1841.6 419.1 1836.9 400.9 1828.5 381.7 1833.2Z" fill="#ffb029"/><path d="M531.5 1868.6 549.8 1863.2 530.8 1851.7 512.4 1856.9Z" fill="#ffef29"/><path d="M493.9 1862.1 512.4 1856.9 493.6 1846.2 475 1851.2Z" fill="#ffdb29"/><path d="M456.1 1856.2 475 1851.2 456.4 1841.3 437.5 1846.1Z" fill="#ffc929"/><path d="M418.3 1850.9 437.5 1846.1 419.1 1836.9 399.9 1841.6Z" fill="#ffb929"/><path d="M513 1873.7 531.5 1868.6 512.4 1856.9 493.9 1862.1Z" fill="#ffeb29"/><path d="M475 1867.1 493.9 1862.1 475 1851.2 456.1 1856.2Z" fill="#ffd629"/><path d="M436.9 1861 456.1 1856.2 437.5 1846.1 418.3 1850.9Z" fill="#ffc429"/><path d="M494.1 1878.8 513 1873.7 493.9 1862.1 475 1867.1Z" fill="#ffe629"/><path d="M455.8 1871.9 475 1867.1 456.1 1856.2 436.9 1861Z" fill="#ffd129"/><path d="M475 1883.7 494.1 1878.8 475 1867.1 455.8 1871.9Z" fill="#ffe129"/>
</g>
<ellipse cx="474.9" cy="1751.6" rx="7.6" ry="7" fill="#c00000" stroke="#1a0000" stroke-width="1.6"/>
<text x="137.3" y="1975.7" class="zt" font-size="23" text-anchor="end" textLength="24" lengthAdjust="spacingAndGlyphs">20</text>
<text x="134.1" y="1907.9" class="zt" font-size="23" text-anchor="end" textLength="24" lengthAdjust="spacingAndGlyphs">40</text>
<text x="130.8" y="1840.1" class="zt" font-size="23" text-anchor="end" textLength="24" lengthAdjust="spacingAndGlyphs">60</text>
<text x="127.6" y="1772.3" class="zt" font-size="23" text-anchor="end" textLength="24" lengthAdjust="spacingAndGlyphs">80</text>
<text x="121.3" y="1704.5" class="zt" font-size="23" text-anchor="end" textLength="36" lengthAdjust="spacingAndGlyphs">100</text>
<text x="118.1" y="1636.8" class="zt" font-size="23" text-anchor="end" textLength="36" lengthAdjust="spacingAndGlyphs">120</text>
<text x="488.2" y="2269.3" class="zt" font-size="23" textLength="24" lengthAdjust="spacingAndGlyphs">40</text>
<text x="568.4" y="2229.7" class="zt" font-size="23" textLength="24" lengthAdjust="spacingAndGlyphs">50</text>
<text x="648.6" y="2190.1" class="zt" font-size="23" textLength="24" lengthAdjust="spacingAndGlyphs">60</text>
<text x="728.8" y="2150.4" class="zt" font-size="23" textLength="24" lengthAdjust="spacingAndGlyphs">70</text>
<text x="809" y="2110.8" class="zt" font-size="23" textLength="24" lengthAdjust="spacingAndGlyphs">80</text>
<text x="462.4" y="2269.3" class="zt" font-size="23" text-anchor="end" textLength="12" lengthAdjust="spacingAndGlyphs">5</text>
<text x="382.2" y="2230" class="zt" font-size="23" text-anchor="end" textLength="12" lengthAdjust="spacingAndGlyphs">6</text>
<text x="302.1" y="2190.6" class="zt" font-size="23" text-anchor="end" textLength="12" lengthAdjust="spacingAndGlyphs">7</text>
<text x="221.9" y="2151.3" class="zt" font-size="23" text-anchor="end" textLength="12" lengthAdjust="spacingAndGlyphs">8</text>
<text x="141.7" y="2111.9" class="zt" font-size="23" text-anchor="end" textLength="12" lengthAdjust="spacingAndGlyphs">9</text>
<clipPath id="kb"><rect x="1046.2" y="46.2" width="695.2" height="596.4"/></clipPath>
<defs><linearGradient id="b0"><stop offset="0%" stop-color="#ff4600"/><stop offset="12.5%" stop-color="#ff5000"/><stop offset="25%" stop-color="#ff5600"/><stop offset="37.5%" stop-color="#ff5600"/><stop offset="50%" stop-color="#ff5200"/><stop offset="62.5%" stop-color="#ff4900"/><stop offset="75%" stop-color="#ff3b00"/><stop offset="87.5%" stop-color="#ff2800"/><stop offset="100%" stop-color="#ff1000"/></linearGradient><linearGradient id="b1"><stop offset="0%" stop-color="#ff4700"/><stop offset="12.5%" stop-color="#ff5200"/><stop offset="25%" stop-color="#ff5700"/><stop offset="37.5%" stop-color="#ff5800"/><stop offset="50%" stop-color="#ff5400"/><stop offset="62.5%" stop-color="#ff4a00"/><stop offset="75%" stop-color="#ff3c00"/><stop offset="87.5%" stop-color="#ff2900"/><stop offset="100%" stop-color="#ff1200"/></linearGradient><linearGradient id="b2"><stop offset="0%" stop-color="#ff4900"/><stop offset="12.5%" stop-color="#ff5300"/><stop offset="25%" stop-color="#ff5900"/><stop offset="37.5%" stop-color="#ff5900"/><stop offset="50%" stop-color="#ff5500"/><stop offset="62.5%" stop-color="#ff4c00"/><stop offset="75%" stop-color="#ff3e00"/><stop offset="87.5%" stop-color="#ff2b00"/><stop offset="100%" stop-color="#ff1300"/></linearGradient><linearGradient id="b3"><stop offset="0%" stop-color="#ff4a00"/><stop offset="12.5%" stop-color="#ff5500"/><stop offset="25%" stop-color="#ff5a00"/><stop offset="37.5%" stop-color="#ff5b00"/><stop offset="50%" stop-color="#ff5600"/><stop offset="62.5%" stop-color="#ff4d00"/><stop offset="75%" stop-color="#ff3f00"/><stop offset="87.5%" stop-color="#ff2c00"/><stop offset="100%" stop-color="#ff1400"/></linearGradient><linearGradient id="b4"><stop offset="0%" stop-color="#ff4c00"/><stop offset="12.5%" stop-color="#ff5600"/><stop offset="25%" stop-color="#ff5c00"/><stop offset="37.5%" stop-color="#ff5c00"/><stop offset="50%" stop-color="#ff5800"/><stop offset="62.5%" stop-color="#ff4f00"/><stop offset="75%" stop-color="#ff4100"/><stop offset="87.5%" stop-color="#ff2e00"/><stop offset="100%" stop-color="#ff1600"/></linearGradient><linearGradient id="b5"><stop offset="0%" stop-color="#ff4d00"/><stop offset="12.5%" stop-color="#ff5800"/><stop offset="25%" stop-color="#ff5d00"/><stop offset="37.5%" stop-color="#ff5e00"/><stop offset="50%" stop-color="#ff5900"/><stop offset="62.5%" stop-color="#ff5000"/><stop offset="75%" stop-color="#ff4200"/><stop offset="87.5%" stop-color="#ff2f00"/><stop offset="100%" stop-color="#ff1700"/></linearGradient><linearGradient id="b6"><stop offset="0%" stop-color="#ff4f00"/><stop offset="12.5%" stop-color="#ff5900"/><stop offset="25%" stop-color="#ff5f00"/><stop offset="37.5%" stop-color="#ff5f00"/><stop offset="50%" stop-color="#ff5b00"/><stop offset="62.5%" stop-color="#ff5200"/><stop offset="75%" stop-color="#ff4400"/><stop offset="87.5%" stop-color="#ff3100"/><stop offset="100%" stop-color="#ff1900"/></linearGradient><linearGradient id="b7"><stop offset="0%" stop-color="#ff5000"/><stop offset="12.5%" stop-color="#ff5b00"/><stop offset="25%" stop-color="#ff6000"/><stop offset="37.5%" stop-color="#ff6100"/><stop offset="50%" stop-color="#ff5c00"/><stop offset="62.5%" stop-color="#ff5300"/><stop offset="75%" stop-color="#ff4500"/><stop offset="87.5%" stop-color="#ff3200"/><stop offset="100%" stop-color="#ff1a00"/></linearGradient><linearGradient id="b8"><stop offset="0%" stop-color="#ff5200"/><stop offset="12.5%" stop-color="#ff5c00"/><stop offset="25%" stop-color="#ff6200"/><stop offset="37.5%" stop-color="#ff6200"/><stop offset="50%" stop-color="#ff5e00"/><stop offset="62.5%" stop-color="#ff5500"/><stop offset="75%" stop-color="#ff4700"/><stop offset="87.5%" stop-color="#ff3400"/><stop offset="100%" stop-color="#ff1c00"/></linearGradient><linearGradient id="b9"><stop offset="0%" stop-color="#ff5400"/><stop offset="12.5%" stop-color="#ff5e00"/><stop offset="25%" stop-color="#ff6300"/><stop offset="37.5%" stop-color="#ff6400"/><stop offset="50%" stop-color="#ff6000"/><stop offset="62.5%" stop-color="#ff5600"/><stop offset="75%" stop-color="#ff4800"/><stop offset="87.5%" stop-color="#ff3500"/><stop offset="100%" stop-color="#ff1d00"/></linearGradient><linearGradient id="b10"><stop offset="0%" stop-color="#ff5500"/><stop offset="12.5%" stop-color="#ff6000"/><stop offset="25%" stop-color="#ff6500"/><stop offset="37.5%" stop-color="#ff6600"/><stop offset="50%" stop-color="#ff6100"/><stop offset="62.5%" stop-color="#ff5800"/><stop offset="75%" stop-color="#ff4a00"/><stop offset="87.5%" stop-color="#ff3700"/><stop offset="100%" stop-color="#ff1f00"/></linearGradient><linearGradient id="b11"><stop offset="0%" stop-color="#ff5700"/><stop offset="12.5%" stop-color="#ff6100"/><stop offset="25%" stop-color="#ff6700"/><stop offset="37.5%" stop-color="#ff6700"/><stop offset="50%" stop-color="#ff6300"/><stop offset="62.5%" stop-color="#ff5a00"/><stop offset="75%" stop-color="#ff4b00"/><stop offset="87.5%" stop-color="#ff3800"/><stop offset="100%" stop-color="#ff2000"/></linearGradient><linearGradient id="b12"><stop offset="0%" stop-color="#ff5900"/><stop offset="12.5%" stop-color="#ff6300"/><stop offset="25%" stop-color="#ff6800"/><stop offset="37.5%" stop-color="#ff6900"/><stop offset="50%" stop-color="#ff6400"/><stop offset="62.5%" stop-color="#ff5b00"/><stop offset="75%" stop-color="#ff4d00"/><stop offset="87.5%" stop-color="#ff3a00"/><stop offset="100%" stop-color="#ff2200"/></linearGradient><linearGradient id="b13"><stop offset="0%" stop-color="#ff5a00"/><stop offset="12.5%" stop-color="#ff6500"/><stop offset="25%" stop-color="#ff6a00"/><stop offset="37.5%" stop-color="#ff6b00"/><stop offset="50%" stop-color="#ff6600"/><stop offset="62.5%" stop-color="#ff5d00"/><stop offset="75%" stop-color="#ff4f00"/><stop offset="87.5%" stop-color="#ff3c00"/><stop offset="100%" stop-color="#ff2400"/></linearGradient><linearGradient id="b14"><stop offset="0%" stop-color="#ff5c00"/><stop offset="12.5%" stop-color="#ff6600"/><stop offset="25%" stop-color="#ff6c00"/><stop offset="37.5%" stop-color="#ff6c00"/><stop offset="50%" stop-color="#ff6800"/><stop offset="62.5%" stop-color="#ff5f00"/><stop offset="75%" stop-color="#ff5000"/><stop offset="87.5%" stop-color="#ff3d00"/><stop offset="100%" stop-color="#ff2500"/></linearGradient><linearGradient id="b15"><stop offset="0%" stop-color="#ff5e00"/><stop offset="12.5%" stop-color="#ff6800"/><stop offset="25%" stop-color="#ff6e00"/><stop offset="37.5%" stop-color="#ff6e00"/><stop offset="50%" stop-color="#ff6a00"/><stop offset="62.5%" stop-color="#ff6000"/><stop offset="75%" stop-color="#ff5200"/><stop offset="87.5%" stop-color="#ff3f00"/><stop offset="100%" stop-color="#ff2700"/></linearGradient><linearGradient id="b16"><stop offset="0%" stop-color="#ff6000"/><stop offset="12.5%" stop-color="#ff6a00"/><stop offset="25%" stop-color="#ff6f00"/><stop offset="37.5%" stop-color="#ff7000"/><stop offset="50%" stop-color="#ff6b00"/><stop offset="62.5%" stop-color="#ff6200"/><stop offset="75%" stop-color="#ff5400"/><stop offset="87.5%" stop-color="#ff4100"/><stop offset="100%" stop-color="#ff2900"/></linearGradient><linearGradient id="b17"><stop offset="0%" stop-color="#ff6200"/><stop offset="12.5%" stop-color="#ff6c00"/><stop offset="25%" stop-color="#ff7100"/><stop offset="37.5%" stop-color="#ff7200"/><stop offset="50%" stop-color="#ff6d00"/><stop offset="62.5%" stop-color="#ff6400"/><stop offset="75%" stop-color="#ff5600"/><stop offset="87.5%" stop-color="#ff4200"/><stop offset="100%" stop-color="#ff2a00"/></linearGradient><linearGradient id="b18"><stop offset="0%" stop-color="#ff6300"/><stop offset="12.5%" stop-color="#ff6e00"/><stop offset="25%" stop-color="#ff7300"/><stop offset="37.5%" stop-color="#ff7300"/><stop offset="50%" stop-color="#ff6f00"/><stop offset="62.5%" stop-color="#ff6600"/><stop offset="75%" stop-color="#ff5700"/><stop offset="87.5%" stop-color="#ff4400"/><stop offset="100%" stop-color="#ff2c00"/></linearGradient><linearGradient id="b19"><stop offset="0%" stop-color="#ff6500"/><stop offset="12.5%" stop-color="#ff7000"/><stop offset="25%" stop-color="#ff7500"/><stop offset="37.5%" stop-color="#ff7500"/><stop offset="50%" stop-color="#ff7100"/><stop offset="62.5%" stop-color="#ff6700"/><stop offset="75%" stop-color="#ff5900"/><stop offset="87.5%" stop-color="#ff4600"/><stop offset="100%" stop-color="#ff2e00"/></linearGradient><linearGradient id="b20"><stop offset="0%" stop-color="#ff6700"/><stop offset="12.5%" stop-color="#ff7100"/><stop offset="25%" stop-color="#ff7700"/><stop offset="37.5%" stop-color="#ff7700"/><stop offset="50%" stop-color="#ff7300"/><stop offset="62.5%" stop-color="#ff6900"/><stop offset="75%" stop-color="#ff5b00"/><stop offset="87.5%" stop-color="#ff4800"/><stop offset="100%" stop-color="#ff3000"/></linearGradient><linearGradient id="b21"><stop offset="0%" stop-color="#ff6900"/><stop offset="12.5%" stop-color="#ff7300"/><stop offset="25%" stop-color="#ff7900"/><stop offset="37.5%" stop-color="#ff7900"/><stop offset="50%" stop-color="#ff7500"/><stop offset="62.5%" stop-color="#ff6b00"/><stop offset="75%" stop-color="#ff5d00"/><stop offset="87.5%" stop-color="#ff4a00"/><stop offset="100%" stop-color="#ff3200"/></linearGradient><linearGradient id="b22"><stop offset="0%" stop-color="#ff6b00"/><stop offset="12.5%" stop-color="#ff7500"/><stop offset="25%" stop-color="#ff7b00"/><stop offset="37.5%" stop-color="#ff7b00"/><stop offset="50%" stop-color="#ff7600"/><stop offset="62.5%" stop-color="#ff6d00"/><stop offset="75%" stop-color="#ff5f00"/><stop offset="87.5%" stop-color="#ff4c00"/><stop offset="100%" stop-color="#ff3300"/></linearGradient><linearGradient id="b23"><stop offset="0%" stop-color="#ff6d00"/><stop offset="12.5%" stop-color="#ff7700"/><stop offset="25%" stop-color="#ff7d00"/><stop offset="37.5%" stop-color="#ff7d00"/><stop offset="50%" stop-color="#ff7800"/><stop offset="62.5%" stop-color="#ff6f00"/><stop offset="75%" stop-color="#ff6100"/><stop offset="87.5%" stop-color="#ff4d00"/><stop offset="100%" stop-color="#ff3500"/></linearGradient><linearGradient id="b24"><stop offset="0%" stop-color="#ff6f00"/><stop offset="12.5%" stop-color="#ff7900"/><stop offset="25%" stop-color="#ff7f00"/><stop offset="37.5%" stop-color="#ff7f00"/><stop offset="50%" stop-color="#ff7a00"/><stop offset="62.5%" stop-color="#ff7100"/><stop offset="75%" stop-color="#ff6300"/><stop offset="87.5%" stop-color="#ff4f00"/><stop offset="100%" stop-color="#ff3700"/></linearGradient><linearGradient id="b25"><stop offset="0%" stop-color="#ff7100"/><stop offset="12.5%" stop-color="#ff7b00"/><stop offset="25%" stop-color="#ff8100"/><stop offset="37.5%" stop-color="#ff8100"/><stop offset="50%" stop-color="#ff7c00"/><stop offset="62.5%" stop-color="#ff7300"/><stop offset="75%" stop-color="#ff6500"/><stop offset="87.5%" stop-color="#ff5100"/><stop offset="100%" stop-color="#ff3900"/></linearGradient><linearGradient id="b26"><stop offset="0%" stop-color="#ff7300"/><stop offset="12.5%" stop-color="#ff7d00"/><stop offset="25%" stop-color="#ff8300"/><stop offset="37.5%" stop-color="#ff8300"/><stop offset="50%" stop-color="#ff7e00"/><stop offset="62.5%" stop-color="#ff7500"/><stop offset="75%" stop-color="#ff6700"/><stop offset="87.5%" stop-color="#ff5300"/><stop offset="100%" stop-color="#ff3b00"/></linearGradient><linearGradient id="b27"><stop offset="0%" stop-color="#ff7500"/><stop offset="12.5%" stop-color="#ff7f00"/><stop offset="25%" stop-color="#ff8500"/><stop offset="37.5%" stop-color="#ff8500"/><stop offset="50%" stop-color="#ff8000"/><stop offset="62.5%" stop-color="#ff7700"/><stop offset="75%" stop-color="#ff6900"/><stop offset="87.5%" stop-color="#ff5500"/><stop offset="100%" stop-color="#ff3d00"/></linearGradient><linearGradient id="b28"><stop offset="0%" stop-color="#ff7700"/><stop offset="12.5%" stop-color="#ff8200"/><stop offset="25%" stop-color="#ff8700"/><stop offset="37.5%" stop-color="#ff8700"/><stop offset="50%" stop-color="#ff8200"/><stop offset="62.5%" stop-color="#ff7900"/><stop offset="75%" stop-color="#ff6b00"/><stop offset="87.5%" stop-color="#ff5700"/><stop offset="100%" stop-color="#ff3f00"/></linearGradient><linearGradient id="b29"><stop offset="0%" stop-color="#ff7a00"/><stop offset="12.5%" stop-color="#ff8400"/><stop offset="25%" stop-color="#ff8900"/><stop offset="37.5%" stop-color="#ff8900"/><stop offset="50%" stop-color="#ff8400"/><stop offset="62.5%" stop-color="#ff7b00"/><stop offset="75%" stop-color="#ff6d00"/><stop offset="87.5%" stop-color="#ff5900"/><stop offset="100%" stop-color="#ff4100"/></linearGradient><linearGradient id="b30"><stop offset="0%" stop-color="#ff7c00"/><stop offset="12.5%" stop-color="#ff8600"/><stop offset="25%" stop-color="#ff8b00"/><stop offset="37.5%" stop-color="#ff8b00"/><stop offset="50%" stop-color="#ff8700"/><stop offset="62.5%" stop-color="#ff7d00"/><stop offset="75%" stop-color="#ff6f00"/><stop offset="87.5%" stop-color="#ff5b00"/><stop offset="100%" stop-color="#ff4300"/></linearGradient><linearGradient id="b31"><stop offset="0%" stop-color="#ff7e00"/><stop offset="12.5%" stop-color="#ff8800"/><stop offset="25%" stop-color="#ff8d00"/><stop offset="37.5%" stop-color="#ff8d00"/><stop offset="50%" stop-color="#ff8900"/><stop offset="62.5%" stop-color="#ff7f00"/><stop offset="75%" stop-color="#ff7100"/><stop offset="87.5%" stop-color="#ff5e00"/><stop offset="100%" stop-color="#ff4500"/></linearGradient><linearGradient id="b32"><stop offset="0%" stop-color="#ff8000"/><stop offset="12.5%" stop-color="#ff8a00"/><stop offset="25%" stop-color="#ff8f00"/><stop offset="37.5%" stop-color="#ff9000"/><stop offset="50%" stop-color="#ff8b00"/><stop offset="62.5%" stop-color="#ff8100"/><stop offset="75%" stop-color="#ff7300"/><stop offset="87.5%" stop-color="#ff6000"/><stop offset="100%" stop-color="#ff4700"/></linearGradient><linearGradient id="b33"><stop offset="0%" stop-color="#ff8200"/><stop offset="12.5%" stop-color="#ff8c00"/><stop offset="25%" stop-color="#ff9100"/><stop offset="37.5%" stop-color="#ff9200"/><stop offset="50%" stop-color="#ff8d00"/><stop offset="62.5%" stop-color="#ff8400"/><stop offset="75%" stop-color="#ff7500"/><stop offset="87.5%" stop-color="#ff6200"/><stop offset="100%" stop-color="#ff4a00"/></linearGradient><linearGradient id="b34"><stop offset="0%" stop-color="#ff8500"/><stop offset="12.5%" stop-color="#ff8f00"/><stop offset="25%" stop-color="#ff9400"/><stop offset="37.5%" stop-color="#ff9400"/><stop offset="50%" stop-color="#ff8f00"/><stop offset="62.5%" stop-color="#ff8600"/><stop offset="75%" stop-color="#ff7700"/><stop offset="87.5%" stop-color="#ff6400"/><stop offset="100%" stop-color="#ff4c00"/></linearGradient><linearGradient id="b35"><stop offset="0%" stop-color="#ff8700"/><stop offset="12.5%" stop-color="#ff9100"/><stop offset="25%" stop-color="#ff9600"/><stop offset="37.5%" stop-color="#ff9600"/><stop offset="50%" stop-color="#ff9100"/><stop offset="62.5%" stop-color="#ff8800"/><stop offset="75%" stop-color="#ff7900"/><stop offset="87.5%" stop-color="#ff6600"/><stop offset="100%" stop-color="#ff4e00"/></linearGradient><linearGradient id="b36"><stop offset="0%" stop-color="#ff8900"/><stop offset="12.5%" stop-color="#ff9300"/><stop offset="25%" stop-color="#ff9800"/><stop offset="37.5%" stop-color="#ff9800"/><stop offset="50%" stop-color="#ff9400"/><stop offset="62.5%" stop-color="#ff8a00"/><stop offset="75%" stop-color="#ff7c00"/><stop offset="87.5%" stop-color="#ff6800"/><stop offset="100%" stop-color="#ff5000"/></linearGradient><linearGradient id="b37"><stop offset="0%" stop-color="#ff8c00"/><stop offset="12.5%" stop-color="#ff9500"/><stop offset="25%" stop-color="#ff9b00"/><stop offset="37.5%" stop-color="#ff9b00"/><stop offset="50%" stop-color="#ff9600"/><stop offset="62.5%" stop-color="#ff8c00"/><stop offset="75%" stop-color="#ff7e00"/><stop offset="87.5%" stop-color="#ff6b00"/><stop offset="100%" stop-color="#ff5200"/></linearGradient><linearGradient id="b38"><stop offset="0%" stop-color="#ff8e00"/><stop offset="12.5%" stop-color="#ff9800"/><stop offset="25%" stop-color="#ff9d00"/><stop offset="37.5%" stop-color="#ff9d00"/><stop offset="50%" stop-color="#ff9800"/><stop offset="62.5%" stop-color="#ff8f00"/><stop offset="75%" stop-color="#ff8000"/><stop offset="87.5%" stop-color="#ff6d00"/><stop offset="100%" stop-color="#ff5500"/></linearGradient><linearGradient id="b39"><stop offset="0%" stop-color="#ff9000"/><stop offset="12.5%" stop-color="#ff9a00"/><stop offset="25%" stop-color="#ff9f00"/><stop offset="37.5%" stop-color="#ff9f00"/><stop offset="50%" stop-color="#ff9b00"/><stop offset="62.5%" stop-color="#ff9100"/><stop offset="75%" stop-color="#ff8300"/><stop offset="87.5%" stop-color="#ff6f00"/><stop offset="100%" stop-color="#ff5700"/></linearGradient><linearGradient id="b40"><stop offset="0%" stop-color="#ff9300"/><stop offset="12.5%" stop-color="#ff9d00"/><stop offset="25%" stop-color="#ffa200"/><stop offset="37.5%" stop-color="#ffa200"/><stop offset="50%" stop-color="#ff9d00"/><stop offset="62.5%" stop-color="#ff9300"/><stop offset="75%" stop-color="#ff8500"/><stop offset="87.5%" stop-color="#ff7100"/><stop offset="100%" stop-color="#ff5900"/></linearGradient><linearGradient id="b41"><stop offset="0%" stop-color="#ff9500"/><stop offset="12.5%" stop-color="#ff9f00"/><stop offset="25%" stop-color="#ffa400"/><stop offset="37.5%" stop-color="#ffa400"/><stop offset="50%" stop-color="#ff9f00"/><stop offset="62.5%" stop-color="#ff9600"/><stop offset="75%" stop-color="#ff8700"/><stop offset="87.5%" stop-color="#ff7400"/><stop offset="100%" stop-color="#ff5c00"/></linearGradient><linearGradient id="b42"><stop offset="0%" stop-color="#ff9800"/><stop offset="12.5%" stop-color="#ffa100"/><stop offset="25%" stop-color="#ffa600"/><stop offset="37.5%" stop-color="#ffa700"/><stop offset="50%" stop-color="#ffa200"/><stop offset="62.5%" stop-color="#ff9800"/><stop offset="75%" stop-color="#ff8a00"/><stop offset="87.5%" stop-color="#ff7600"/><stop offset="100%" stop-color="#ff5e00"/></linearGradient><linearGradient id="b43"><stop offset="0%" stop-color="#ff9a00"/><stop offset="12.5%" stop-color="#ffa400"/><stop offset="25%" stop-color="#ffa900"/><stop offset="37.5%" stop-color="#ffa900"/><stop offset="50%" stop-color="#ffa400"/><stop offset="62.5%" stop-color="#ff9b00"/><stop offset="75%" stop-color="#ff8c00"/><stop offset="87.5%" stop-color="#ff7900"/><stop offset="100%" stop-color="#ff6000"/></linearGradient><linearGradient id="b44"><stop offset="0%" stop-color="#ff9d00"/><stop offset="12.5%" stop-color="#ffa600"/><stop offset="25%" stop-color="#ffab00"/><stop offset="37.5%" stop-color="#ffab00"/><stop offset="50%" stop-color="#ffa700"/><stop offset="62.5%" stop-color="#ff9d00"/><stop offset="75%" stop-color="#ff8e00"/><stop offset="87.5%" stop-color="#ff7b00"/><stop offset="100%" stop-color="#ff6300"/></linearGradient><linearGradient id="b45"><stop offset="0%" stop-color="#ff9f00"/><stop offset="12.5%" stop-color="#ffa900"/><stop offset="25%" stop-color="#ffae00"/><stop offset="37.5%" stop-color="#ffae00"/><stop offset="50%" stop-color="#ffa900"/><stop offset="62.5%" stop-color="#ff9f00"/><stop offset="75%" stop-color="#ff9100"/><stop offset="87.5%" stop-color="#ff7d00"/><stop offset="100%" stop-color="#ff6500"/></linearGradient><linearGradient id="b46"><stop offset="0%" stop-color="#ffa200"/><stop offset="12.5%" stop-color="#ffab00"/><stop offset="25%" stop-color="#ffb000"/><stop offset="37.5%" stop-color="#ffb000"/><stop offset="50%" stop-color="#ffac00"/><stop offset="62.5%" stop-color="#ffa200"/><stop offset="75%" stop-color="#ff9300"/><stop offset="87.5%" stop-color="#ff8000"/><stop offset="100%" stop-color="#ff6800"/></linearGradient><linearGradient id="b47"><stop offset="0%" stop-color="#ffa400"/><stop offset="12.5%" stop-color="#ffae00"/><stop offset="25%" stop-color="#ffb300"/><stop offset="37.5%" stop-color="#ffb300"/><stop offset="50%" stop-color="#ffae00"/><stop offset="62.5%" stop-color="#ffa400"/><stop offset="75%" stop-color="#ff9600"/><stop offset="87.5%" stop-color="#ff8200"/><stop offset="100%" stop-color="#ff6a00"/></linearGradient><linearGradient id="b48"><stop offset="0%" stop-color="#ffa700"/><stop offset="12.5%" stop-color="#ffb100"/><stop offset="25%" stop-color="#ffb600"/><stop offset="37.5%" stop-color="#ffb600"/><stop offset="50%" stop-color="#ffb100"/><stop offset="62.5%" stop-color="#ffa700"/><stop offset="75%" stop-color="#ff9800"/><stop offset="87.5%" stop-color="#ff8500"/><stop offset="100%" stop-color="#ff6d00"/></linearGradient><linearGradient id="b49"><stop offset="0%" stop-color="#ffa900"/><stop offset="12.5%" stop-color="#ffb300"/><stop offset="25%" stop-color="#ffb800"/><stop offset="37.5%" stop-color="#ffb800"/><stop offset="50%" stop-color="#ffb300"/><stop offset="62.5%" stop-color="#ffaa00"/><stop offset="75%" stop-color="#ff9b00"/><stop offset="87.5%" stop-color="#ff8700"/><stop offset="100%" stop-color="#ff6f00"/></linearGradient><linearGradient id="b50"><stop offset="0%" stop-color="#ffac00"/><stop offset="12.5%" stop-color="#ffb600"/><stop offset="25%" stop-color="#ffbb00"/><stop offset="37.5%" stop-color="#ffbb00"/><stop offset="50%" stop-color="#ffb600"/><stop offset="62.5%" stop-color="#ffac00"/><stop offset="75%" stop-color="#ff9e00"/><stop offset="87.5%" stop-color="#ff8a00"/><stop offset="100%" stop-color="#ff7200"/></linearGradient><linearGradient id="b51"><stop offset="0%" stop-color="#ffaf00"/><stop offset="12.5%" stop-color="#ffb900"/><stop offset="25%" stop-color="#ffbd00"/><stop offset="37.5%" stop-color="#ffbd00"/><stop offset="50%" stop-color="#ffb900"/><stop offset="62.5%" stop-color="#ffaf00"/><stop offset="75%" stop-color="#ffa000"/><stop offset="87.5%" stop-color="#ff8d00"/><stop offset="100%" stop-color="#ff7400"/></linearGradient><linearGradient id="b52"><stop offset="0%" stop-color="#ffb100"/><stop offset="12.5%" stop-color="#ffbb00"/><stop offset="25%" stop-color="#ffc000"/><stop offset="37.5%" stop-color="#ffc000"/><stop offset="50%" stop-color="#ffbb00"/><stop offset="62.5%" stop-color="#ffb100"/><stop offset="75%" stop-color="#ffa300"/><stop offset="87.5%" stop-color="#ff8f00"/><stop offset="100%" stop-color="#ff7700"/></linearGradient><linearGradient id="b53"><stop offset="0%" stop-color="#ffb400"/><stop offset="12.5%" stop-color="#ffbe00"/><stop offset="25%" stop-color="#ffc300"/><stop offset="37.5%" stop-color="#ffc300"/><stop offset="50%" stop-color="#ffbe00"/><stop offset="62.5%" stop-color="#ffb400"/><stop offset="75%" stop-color="#ffa500"/><stop offset="87.5%" stop-color="#ff9200"/><stop offset="100%" stop-color="#ff7900"/></linearGradient><linearGradient id="b54"><stop offset="0%" stop-color="#ffb700"/><stop offset="12.5%" stop-color="#ffc100"/><stop offset="25%" stop-color="#ffc600"/><stop offset="37.5%" stop-color="#ffc600"/><stop offset="50%" stop-color="#ffc100"/><stop offset="62.5%" stop-color="#ffb700"/><stop offset="75%" stop-color="#ffa800"/><stop offset="87.5%" stop-color="#ff9500"/><stop offset="100%" stop-color="#ff7c00"/></linearGradient><linearGradient id="b55"><stop offset="0%" stop-color="#ffba00"/><stop offset="12.5%" stop-color="#ffc300"/><stop offset="25%" stop-color="#ffc800"/><stop offset="37.5%" stop-color="#ffc800"/><stop offset="50%" stop-color="#ffc300"/><stop offset="62.5%" stop-color="#ffba00"/><stop offset="75%" stop-color="#ffab00"/><stop offset="87.5%" stop-color="#ff9700"/><stop offset="100%" stop-color="#ff7f00"/></linearGradient><linearGradient id="b56"><stop offset="0%" stop-color="#ffbd00"/><stop offset="12.5%" stop-color="#ffc600"/><stop offset="25%" stop-color="#ffcb00"/><stop offset="37.5%" stop-color="#ffcb00"/><stop offset="50%" stop-color="#ffc600"/><stop offset="62.5%" stop-color="#ffbc00"/><stop offset="75%" stop-color="#ffae00"/><stop offset="87.5%" stop-color="#ff9a00"/><stop offset="100%" stop-color="#ff8100"/></linearGradient><linearGradient id="b57"><stop offset="0%" stop-color="#ffbf00"/><stop offset="12.5%" stop-color="#ffc900"/><stop offset="25%" stop-color="#ffce00"/><stop offset="37.5%" stop-color="#ffce00"/><stop offset="50%" stop-color="#ffc900"/><stop offset="62.5%" stop-color="#ffbf00"/><stop offset="75%" stop-color="#ffb000"/><stop offset="87.5%" stop-color="#ff9d00"/><stop offset="100%" stop-color="#ff8400"/></linearGradient><linearGradient id="b58"><stop offset="0%" stop-color="#ffc200"/><stop offset="12.5%" stop-color="#ffcc00"/><stop offset="25%" stop-color="#ffd100"/><stop offset="37.5%" stop-color="#ffd100"/><stop offset="50%" stop-color="#ffcc00"/><stop offset="62.5%" stop-color="#ffc200"/><stop offset="75%" stop-color="#ffb300"/><stop offset="87.5%" stop-color="#ff9f00"/><stop offset="100%" stop-color="#ff8700"/></linearGradient><linearGradient id="b59"><stop offset="0%" stop-color="#ffc500"/><stop offset="12.5%" stop-color="#ffcf00"/><stop offset="25%" stop-color="#ffd400"/><stop offset="37.5%" stop-color="#ffd300"/><stop offset="50%" stop-color="#ffce00"/><stop offset="62.5%" stop-color="#ffc500"/><stop offset="75%" stop-color="#ffb600"/><stop offset="87.5%" stop-color="#ffa200"/><stop offset="100%" stop-color="#ff8a00"/></linearGradient><linearGradient id="b60"><stop offset="0%" stop-color="#ffc800"/><stop offset="12.5%" stop-color="#ffd200"/><stop offset="25%" stop-color="#ffd600"/><stop offset="37.5%" stop-color="#ffd600"/><stop offset="50%" stop-color="#ffd100"/><stop offset="62.5%" stop-color="#ffc700"/><stop offset="75%" stop-color="#ffb900"/><stop offset="87.5%" stop-color="#ffa500"/><stop offset="100%" stop-color="#ff8c00"/></linearGradient><linearGradient id="b61"><stop offset="0%" stop-color="#ffcb00"/><stop offset="12.5%" stop-color="#ffd500"/><stop offset="25%" stop-color="#ffd900"/><stop offset="37.5%" stop-color="#ffd900"/><stop offset="50%" stop-color="#ffd400"/><stop offset="62.5%" stop-color="#ffca00"/><stop offset="75%" stop-color="#ffbc00"/><stop offset="87.5%" stop-color="#ffa800"/><stop offset="100%" stop-color="#ff8f00"/></linearGradient><linearGradient id="b62"><stop offset="0%" stop-color="#ffce00"/><stop offset="12.5%" stop-color="#ffd800"/><stop offset="25%" stop-color="#ffdc00"/><stop offset="37.5%" stop-color="#ffdc00"/><stop offset="50%" stop-color="#ffd700"/><stop offset="62.5%" stop-color="#ffcd00"/><stop offset="75%" stop-color="#ffbe00"/><stop offset="87.5%" stop-color="#ffab00"/><stop offset="100%" stop-color="#ff9200"/></linearGradient><linearGradient id="b63"><stop offset="0%" stop-color="#ffd100"/><stop offset="12.5%" stop-color="#ffda00"/><stop offset="25%" stop-color="#ffdf00"/><stop offset="37.5%" stop-color="#ffdf00"/><stop offset="50%" stop-color="#ffda00"/><stop offset="62.5%" stop-color="#ffd000"/><stop offset="75%" stop-color="#ffc100"/><stop offset="87.5%" stop-color="#ffae00"/><stop offset="100%" stop-color="#ff9500"/></linearGradient><linearGradient id="b64"><stop offset="0%" stop-color="#ffd400"/><stop offset="12.5%" stop-color="#ffdd00"/><stop offset="25%" stop-color="#ffe200"/><stop offset="37.5%" stop-color="#ffe200"/><stop offset="50%" stop-color="#ffdd00"/><stop offset="62.5%" stop-color="#ffd300"/><stop offset="75%" stop-color="#ffc400"/><stop offset="87.5%" stop-color="#ffb100"/><stop offset="100%" stop-color="#ff9800"/></linearGradient><linearGradient id="b65"><stop offset="0%" stop-color="#ffd700"/><stop offset="12.5%" stop-color="#ffe000"/><stop offset="25%" stop-color="#ffe500"/><stop offset="37.5%" stop-color="#ffe500"/><stop offset="50%" stop-color="#ffe000"/><stop offset="62.5%" stop-color="#ffd600"/><stop offset="75%" stop-color="#ffc700"/><stop offset="87.5%" stop-color="#ffb300"/><stop offset="100%" stop-color="#ff9b00"/></linearGradient><linearGradient id="b66"><stop offset="0%" stop-color="#ffda00"/><stop offset="12.5%" stop-color="#ffe400"/><stop offset="25%" stop-color="#ffe800"/><stop offset="37.5%" stop-color="#ffe800"/><stop offset="50%" stop-color="#ffe300"/><stop offset="62.5%" stop-color="#ffd900"/><stop offset="75%" stop-color="#ffca00"/><stop offset="87.5%" stop-color="#ffb600"/><stop offset="100%" stop-color="#ff9e00"/></linearGradient><linearGradient id="b67"><stop offset="0%" stop-color="#ffdd00"/><stop offset="12.5%" stop-color="#ffe700"/><stop offset="25%" stop-color="#ffeb00"/><stop offset="37.5%" stop-color="#ffeb00"/><stop offset="50%" stop-color="#ffe600"/><stop offset="62.5%" stop-color="#ffdc00"/><stop offset="75%" stop-color="#ffcd00"/><stop offset="87.5%" stop-color="#ffb900"/><stop offset="100%" stop-color="#ffa100"/></linearGradient><linearGradient id="b68"><stop offset="0%" stop-color="#ffe000"/><stop offset="12.5%" stop-color="#ffea00"/><stop offset="25%" stop-color="#ffee00"/><stop offset="37.5%" stop-color="#ffee00"/><stop offset="50%" stop-color="#ffe900"/><stop offset="62.5%" stop-color="#ffdf00"/><stop offset="75%" stop-color="#ffd000"/><stop offset="87.5%" stop-color="#ffbc00"/><stop offset="100%" stop-color="#ffa400"/></linearGradient><linearGradient id="b69"><stop offset="0%" stop-color="#ffe300"/><stop offset="12.5%" stop-color="#ffed00"/><stop offset="25%" stop-color="#fff100"/><stop offset="37.5%" stop-color="#fff100"/><stop offset="50%" stop-color="#ffec00"/><stop offset="62.5%" stop-color="#ffe200"/><stop offset="75%" stop-color="#ffd300"/><stop offset="87.5%" stop-color="#ffbf00"/><stop offset="100%" stop-color="#ffa700"/></linearGradient><linearGradient id="b70"><stop offset="0%" stop-color="#ffe600"/><stop offset="12.5%" stop-color="#fff000"/><stop offset="25%" stop-color="#fff500"/><stop offset="37.5%" stop-color="#fff400"/><stop offset="50%" stop-color="#ffef00"/><stop offset="62.5%" stop-color="#ffe500"/><stop offset="75%" stop-color="#ffd600"/><stop offset="87.5%" stop-color="#ffc300"/><stop offset="100%" stop-color="#ffaa00"/></linearGradient><linearGradient id="b71"><stop offset="0%" stop-color="#ffea00"/><stop offset="12.5%" stop-color="#fff300"/><stop offset="25%" stop-color="#fff800"/><stop offset="37.5%" stop-color="#fff700"/><stop offset="50%" stop-color="#fff200"/><stop offset="62.5%" stop-color="#ffe800"/><stop offset="75%" stop-color="#ffd900"/><stop offset="87.5%" stop-color="#ffc600"/><stop offset="100%" stop-color="#ffad00"/></linearGradient><linearGradient id="b72"><stop offset="0%" stop-color="#ffed00"/><stop offset="12.5%" stop-color="#fff600"/><stop offset="25%" stop-color="#fffb00"/><stop offset="37.5%" stop-color="#fffb00"/><stop offset="50%" stop-color="#fff500"/><stop offset="62.5%" stop-color="#ffeb00"/><stop offset="75%" stop-color="#ffdd00"/><stop offset="87.5%" stop-color="#ffc900"/><stop offset="100%" stop-color="#ffb000"/></linearGradient><linearGradient id="b73"><stop offset="0%" stop-color="#fff000"/><stop offset="12.5%" stop-color="#fff900"/><stop offset="25%" stop-color="#fffe00"/><stop offset="37.5%" stop-color="#fffe00"/><stop offset="50%" stop-color="#fff900"/><stop offset="62.5%" stop-color="#ffef00"/><stop offset="75%" stop-color="#ffe000"/><stop offset="87.5%" stop-color="#ffcc00"/><stop offset="100%" stop-color="#ffb300"/></linearGradient><linearGradient id="b74"><stop offset="0%" stop-color="#fff300"/><stop offset="12.5%" stop-color="#fffd00"/><stop offset="25%" stop-color="#fdff00"/><stop offset="37.5%" stop-color="#fdff00"/><stop offset="50%" stop-color="#fffc00"/><stop offset="62.5%" stop-color="#fff200"/><stop offset="75%" stop-color="#ffe300"/><stop offset="87.5%" stop-color="#ffcf00"/><stop offset="100%" stop-color="#ffb600"/></linearGradient><linearGradient id="b75"><stop offset="0%" stop-color="#fff600"/><stop offset="12.5%" stop-color="#feff00"/><stop offset="25%" stop-color="#f9ff00"/><stop offset="37.5%" stop-color="#faff00"/><stop offset="50%" stop-color="#ffff00"/><stop offset="62.5%" stop-color="#fff500"/><stop offset="75%" stop-color="#ffe600"/><stop offset="87.5%" stop-color="#ffd200"/><stop offset="100%" stop-color="#ffb900"/></linearGradient><linearGradient id="b76"><stop offset="0%" stop-color="#fffa00"/><stop offset="12.5%" stop-color="#fbff00"/><stop offset="25%" stop-color="#f6ff00"/><stop offset="37.5%" stop-color="#f7ff00"/><stop offset="50%" stop-color="#fcff00"/><stop offset="62.5%" stop-color="#fff800"/><stop offset="75%" stop-color="#ffe900"/><stop offset="87.5%" stop-color="#ffd500"/><stop offset="100%" stop-color="#ffbd00"/></linearGradient><linearGradient id="b77"><stop offset="0%" stop-color="#fffd00"/><stop offset="12.5%" stop-color="#f7ff00"/><stop offset="25%" stop-color="#f3ff00"/><stop offset="37.5%" stop-color="#f3ff00"/><stop offset="50%" stop-color="#f8ff00"/><stop offset="62.5%" stop-color="#fffb00"/><stop offset="75%" stop-color="#ffec00"/><stop offset="87.5%" stop-color="#ffd900"/><stop offset="100%" stop-color="#ffc000"/></linearGradient><linearGradient id="b78"><stop offset="0%" stop-color="#feff00"/><stop offset="12.5%" stop-color="#f4ff00"/><stop offset="25%" stop-color="#f0ff00"/><stop offset="37.5%" stop-color="#f0ff00"/><stop offset="50%" stop-color="#f5ff00"/><stop offset="62.5%" stop-color="#ffff00"/><stop offset="75%" stop-color="#fff000"/><stop offset="87.5%" stop-color="#ffdc00"/><stop offset="100%" stop-color="#ffc300"/></linearGradient><linearGradient id="b79"><stop offset="0%" stop-color="#faff00"/><stop offset="12.5%" stop-color="#f1ff00"/><stop offset="25%" stop-color="#ecff00"/><stop offset="37.5%" stop-color="#edff00"/><stop offset="50%" stop-color="#f2ff00"/><stop offset="62.5%" stop-color="#fcff00"/><stop offset="75%" stop-color="#fff300"/><stop offset="87.5%" stop-color="#ffdf00"/><stop offset="100%" stop-color="#ffc600"/></linearGradient><linearGradient id="b80"><stop offset="0%" stop-color="#f7ff00"/><stop offset="12.5%" stop-color="#edff00"/><stop offset="25%" stop-color="#e9ff00"/><stop offset="37.5%" stop-color="#e9ff00"/><stop offset="50%" stop-color="#eeff00"/><stop offset="62.5%" stop-color="#f9ff00"/><stop offset="75%" stop-color="#fff600"/><stop offset="87.5%" stop-color="#ffe200"/><stop offset="100%" stop-color="#ffca00"/></linearGradient><linearGradient id="b81"><stop offset="0%" stop-color="#f3ff00"/><stop offset="12.5%" stop-color="#eaff00"/><stop offset="25%" stop-color="#e5ff00"/><stop offset="37.5%" stop-color="#e6ff00"/><stop offset="50%" stop-color="#ebff00"/><stop offset="62.5%" stop-color="#f5ff00"/><stop offset="75%" stop-color="#fffa00"/><stop offset="87.5%" stop-color="#ffe600"/><stop offset="100%" stop-color="#ffcd00"/></linearGradient><linearGradient id="b82"><stop offset="0%" stop-color="#f0ff00"/><stop offset="12.5%" stop-color="#e7ff00"/><stop offset="25%" stop-color="#e2ff00"/><stop offset="37.5%" stop-color="#e2ff00"/><stop offset="50%" stop-color="#e8ff00"/><stop offset="62.5%" stop-color="#f2ff00"/><stop offset="75%" stop-color="#fffd00"/><stop offset="87.5%" stop-color="#ffe900"/><stop offset="100%" stop-color="#ffd000"/></linearGradient><linearGradient id="b83"><stop offset="0%" stop-color="#ecff00"/><stop offset="12.5%" stop-color="#e3ff00"/><stop offset="25%" stop-color="#dfff00"/><stop offset="37.5%" stop-color="#dfff00"/><stop offset="50%" stop-color="#e4ff00"/><stop offset="62.5%" stop-color="#eeff00"/><stop offset="75%" stop-color="#feff00"/><stop offset="87.5%" stop-color="#ffed00"/><stop offset="100%" stop-color="#ffd400"/></linearGradient><linearGradient id="b84"><stop offset="0%" stop-color="#e9ff00"/><stop offset="12.5%" stop-color="#e0ff00"/><stop offset="25%" stop-color="#dbff00"/><stop offset="37.5%" stop-color="#dcff00"/><stop offset="50%" stop-color="#e1ff00"/><stop offset="62.5%" stop-color="#ebff00"/><stop offset="75%" stop-color="#faff00"/><stop offset="87.5%" stop-color="#fff000"/><stop offset="100%" stop-color="#ffd700"/></linearGradient></defs>
<g clip-path="url(#kb)"><g transform="translate(1046.2 0)"><g style="width:0">
<rect width="695.2" y="45.8" height="7.8" fill="url(#b0)"/><rect width="695.2" y="52.8" height="7.8" fill="url(#b1)"/><rect width="695.2" y="59.8" height="7.8" fill="url(#b2)"/><rect width="695.2" y="66.8" height="7.8" fill="url(#b3)"/><rect width="695.2" y="73.9" height="7.8" fill="url(#b4)"/><rect width="695.2" y="80.9" height="7.8" fill="url(#b5)"/><rect width="695.2" y="87.9" height="7.8" fill="url(#b6)"/><rect width="695.2" y="94.9" height="7.8" fill="url(#b7)"/><rect width="695.2" y="101.9" height="7.8" fill="url(#b8)"/><rect width="695.2" y="108.9" height="7.8" fill="url(#b9)"/><rect width="695.2" y="116" height="7.8" fill="url(#b10)"/><rect width="695.2" y="123" height="7.8" fill="url(#b11)"/><rect width="695.2" y="130" height="7.8" fill="url(#b12)"/><rect width="695.2" y="137" height="7.8" fill="url(#b13)"/><rect width="695.2" y="144" height="7.8" fill="url(#b14)"/><rect width="695.2" y="151" height="7.8" fill="url(#b15)"/><rect width="695.2" y="158.1" height="7.8" fill="url(#b16)"/><rect width="695.2" y="165.1" height="7.8" fill="url(#b17)"/><rect width="695.2" y="172.1" height="7.8" fill="url(#b18)"/><rect width="695.2" y="179.1" height="7.8" fill="url(#b19)"/><rect width="695.2" y="186.1" height="7.8" fill="url(#b20)"/><rect width="695.2" y="193.1" height="7.8" fill="url(#b21)"/><rect width="695.2" y="200.2" height="7.8" fill="url(#b22)"/><rect width="695.2" y="207.2" height="7.8" fill="url(#b23)"/><rect width="695.2" y="214.2" height="7.8" fill="url(#b24)"/><rect width="695.2" y="221.2" height="7.8" fill="url(#b25)"/><rect width="695.2" y="228.2" height="7.8" fill="url(#b26)"/><rect width="695.2" y="235.2" height="7.8" fill="url(#b27)"/><rect width="695.2" y="242.3" height="7.8" fill="url(#b28)"/><rect width="695.2" y="249.3" height="7.8" fill="url(#b29)"/><rect width="695.2" y="256.3" height="7.8" fill="url(#b30)"/><rect width="695.2" y="263.3" height="7.8" fill="url(#b31)"/><rect width="695.2" y="270.3" height="7.8" fill="url(#b32)"/><rect width="695.2" y="277.3" height="7.8" fill="url(#b33)"/><rect width="695.2" y="284.4" height="7.8" fill="url(#b34)"/><rect width="695.2" y="291.4" height="7.8" fill="url(#b35)"/><rect width="695.2" y="298.4" height="7.8" fill="url(#b36)"/><rect width="695.2" y="305.4" height="7.8" fill="url(#b37)"/><rect width="695.2" y="312.4" height="7.8" fill="url(#b38)"/><rect width="695.2" y="319.4" height="7.8" fill="url(#b39)"/><rect width="695.2" y="326.5" height="7.8" fill="url(#b40)"/><rect width="695.2" y="333.5" height="7.8" fill="url(#b41)"/><rect width="695.2" y="340.5" height="7.8" fill="url(#b42)"/><rect width="695.2" y="347.5" height="7.8" fill="url(#b43)"/><rect width="695.2" y="354.5" height="7.8" fill="url(#b44)"/><rect width="695.2" y="361.5" height="7.8" fill="url(#b45)"/><rect width="695.2" y="368.6" height="7.8" fill="url(#b46)"/><rect width="695.2" y="375.6" height="7.8" fill="url(#b47)"/><rect width="695.2" y="382.6" height="7.8" fill="url(#b48)"/><rect width="695.2" y="389.6" height="7.8" fill="url(#b49)"/><rect width="695.2" y="396.6" height="7.8" fill="url(#b50)"/><rect width="695.2" y="403.6" height="7.8" fill="url(#b51)"/><rect width="695.2" y="410.7" height="7.8" fill="url(#b52)"/><rect width="695.2" y="417.7" height="7.8" fill="url(#b53)"/><rect width="695.2" y="424.7" height="7.8" fill="url(#b54)"/><rect width="695.2" y="431.7" height="7.8" fill="url(#b55)"/><rect width="695.2" y="438.7" height="7.8" fill="url(#b56)"/><rect width="695.2" y="445.7" height="7.8" fill="url(#b57)"/><rect width="695.2" y="452.8" height="7.8" fill="url(#b58)"/><rect width="695.2" y="459.8" height="7.8" fill="url(#b59)"/><rect width="695.2" y="466.8" height="7.8" fill="url(#b60)"/><rect width="695.2" y="473.8" height="7.8" fill="url(#b61)"/><rect width="695.2" y="480.8" height="7.8" fill="url(#b62)"/><rect width="695.2" y="487.8" height="7.8" fill="url(#b63)"/><rect width="695.2" y="494.9" height="7.8" fill="url(#b64)"/><rect width="695.2" y="501.9" height="7.8" fill="url(#b65)"/><rect width="695.2" y="508.9" height="7.8" fill="url(#b66)"/><rect width="695.2" y="515.9" height="7.8" fill="url(#b67)"/><rect width="695.2" y="522.9" height="7.8" fill="url(#b68)"/><rect width="695.2" y="529.9" height="7.8" fill="url(#b69)"/><rect width="695.2" y="537" height="7.8" fill="url(#b70)"/><rect width="695.2" y="544" height="7.8" fill="url(#b71)"/><rect width="695.2" y="551" height="7.8" fill="url(#b72)"/><rect width="695.2" y="558" height="7.8" fill="url(#b73)"/><rect width="695.2" y="565" height="7.8" fill="url(#b74)"/><rect width="695.2" y="572" height="7.8" fill="url(#b75)"/><rect width="695.2" y="579.1" height="7.8" fill="url(#b76)"/><rect width="695.2" y="586.1" height="7.8" fill="url(#b77)"/><rect width="695.2" y="593.1" height="7.8" fill="url(#b78)"/><rect width="695.2" y="600.1" height="7.8" fill="url(#b79)"/><rect width="695.2" y="607.1" height="7.8" fill="url(#b80)"/><rect width="695.2" y="614.1" height="7.8" fill="url(#b81)"/><rect width="695.2" y="621.2" height="7.8" fill="url(#b82)"/><rect width="695.2" y="628.2" height="7.8" fill="url(#b83)"/><rect width="695.2" y="635.2" height="7.8" fill="url(#b84)"/>
</g></g>
<path d="M1721.2 642.6 1717.7 640.5 1714.9 638.8 1711.4 636.6 1708 634.5 1705.2 632.8 1701.5 630.6 1698.2 628.7 1695.4 627 1691.4 624.7 1688.5 622.9 1685.3 621.1 1681.5 618.9 1678.7 617.3 1674.9 615.1 1671.7 613.3 1668.6 611.5 1664.8 609.4 1662 607.9 1657.8 605.5 1655 604 1651.3 602 1648.1 600.2 1644.6 598.4 1641.1 596.5 1637.9 594.8 1634.1 592.8 1631.1 591.2 1627.2 589.2 1624.1 587.6 1620.2 585.6 1617.1 584 1613.2 582.1 1609.9 580.5 1606.3 578.6 1602.6 576.9 1599.3 575.2 1595.2 573.3 1592.3 571.9 1588.1 569.9 1585.1 568.5 1581.2 566.7 1577.3 564.9 1574.2 563.5 1570 561.6 1566.7 560.1 1563.1 558.5 1558.9 556.7 1555.8 555.4 1551.9 553.7 1547.7 551.9 1544.5 550.6 1540.8 549.1 1536.6 547.3 1532.7 545.8 1529.6 544.6 1525.5 542.9 1521.3 541.3 1517.4 539.8 1514.2 538.6 1510.1 537.1 1506 535.6 1501.8 534.1 1497.8 532.6 1494.4 531.4 1490.6 530.1 1486.4 528.7 1482.3 527.3 1478.1 526 1473.9 524.6 1469.7 523.3 1465.5 522 1461.4 520.7 1457.3 519.5 1453.2 518.3 1449.1 517.1 1444.8 515.9 1440.5 514.7 1436.3 513.6 1432.1 512.5 1427.9 511.4 1423.8 510.4 1419.6 509.3 1415.4 508.4 1411.2 507.4 1406.6 506.3 1401.5 505.2 1397.3 504.3 1393.1 503.5 1388.9 502.6 1383.4 501.6 1379.2 500.8 1375 500.1 1369.8 499.2 1365.2 498.4 1361.1 497.8 1355.5 496.9 1351.3 496.3 1345.7 495.6 1341.6 495.1 1336 494.4 1331.8 493.9 1326.2 493.3 1322.1 492.9 1316.5 492.4 1311.3 492 1306.7 491.7 1301.2 491.3 1295.6 491 1291.4 490.8 1285.8 490.5 1280.3 490.3 1274.7 490.2 1269.1 490.1 1263.5 490.1 1258 490.1 1252.4 490.1 1246.8 490.2 1241.2 490.3 1235.7 490.5 1230.1 490.8 1225.9 491 1220.3 491.3 1214.8 491.7 1210.4 492 1205 492.4 1199.5 492.9 1195.3 493.3 1189.7 493.9 1185.5 494.4 1179.9 495.1 1175.7 495.6 1170.2 496.3 1166 496.9 1160.4 497.7 1156.3 498.4 1151.4 499.2 1146.5 500 1142.3 500.7 1137.8 501.6 1132.6 502.5 1128.4 503.4 1124.2 504.2 1119.7 505.2 1114.5 506.3 1110.3 507.2 1106.1 508.2 1101.9 509.1 1097.7 510.1 1093.6 511.2 1088.9 512.3 1084.3 513.5 1079.7 514.7 1075.5 515.9 1071.3 517 1067.1 518.2 1062.9 519.4 1058.7 520.6 1054.6 521.9 1050.6 523.1 1046.7 524.3 1046.2 524.4 M1741.4 490.9 1738.6 488.8 1735.8 486.7 1733 484.6 1730.1 482.4 1726.9 480.1 1723.7 477.7 1720.5 475.3 1717.7 473.3 1714.9 471.2 1712.1 469.2 1709 466.9 1705.7 464.5 1702.4 462.1 1699.6 460.1 1696.8 458.2 1694 456.2 1690.6 453.8 1687.2 451.4 1684.3 449.3 1681.5 447.4 1678.6 445.4 1675.2 443 1671.7 440.6 1669 438.7 1666.2 436.9 1662.9 434.6 1659.3 432.2 1656.4 430.3 1653.6 428.5 1650.3 426.3 1646.7 423.9 1643.9 422 1641.1 420.2 1637.5 417.9 1634.1 415.7 1631.3 414 1628.1 411.9 1624.4 409.6 1621.6 407.8 1618.6 406 1614.7 403.6 1611.8 401.8 1608.8 400 1604.9 397.6 1602.1 395.9 1598.9 394 1595.1 391.8 1592.3 390.2 1588.7 388 1585.4 386.1 1582.4 384.4 1578.4 382.2 1575.6 380.6 1571.8 378.5 1568.6 376.7 1565.3 374.9 1561.7 372.9 1558.7 371.3 1554.7 369.2 1551.9 367.7 1547.7 365.5 1545 364.1 1540.8 361.9 1538 360.5 1533.8 358.4 1530.9 356.9 1526.8 355 1523.5 353.4 1519.9 351.6 1516 349.8 1512.9 348.3 1508.7 346.4 1505.6 345 1501.8 343.3 1497.6 341.4 1494.8 340.2 1490.6 338.4 1486.5 336.6 1483.7 335.4 1479.5 333.7 1475.3 332 1471.9 330.7 1468.3 329.2 1464.2 327.6 1460 326 1456.3 324.7 1453 323.5 1448.8 322 1444.7 320.5 1440.5 319.1 1436.3 317.6 1432.2 316.3 1428.5 315.1 1424.7 313.9 1420.9 312.7 1416.8 311.5 1412.6 310.3 1408.4 309.1 1404.2 307.9 1399.9 306.8 1395.3 305.6 1390.5 304.4 1386.1 303.3 1382 302.3 1377.8 301.4 1373.6 300.5 1369.4 299.6 1363.8 298.5 1359.7 297.7 1355.5 296.9 1350.1 296 1345.7 295.3 1341.6 294.6 1336 293.8 1331.8 293.3 1326.2 292.6 1322.1 292.1 1316.5 291.5 1312.3 291.1 1306.7 290.6 1301.2 290.2 1297 289.9 1291.4 289.6 1285.8 289.4 1280.3 289.2 1274.7 289.1 1269.1 289 1263.5 289.1 1258 289.1 1252.4 289.3 1246.8 289.5 1241.2 289.7 1236.3 290 1231.5 290.3 1225.9 290.8 1220.9 291.2 1216.2 291.7 1210.6 292.3 1206.4 292.8 1200.8 293.5 1196.7 294.1 1191.6 294.8 1186.9 295.5 1182.7 296.2 1177.2 297.2 1173 297.9 1168.8 298.7 1164.6 299.6 1159 300.7 1154.9 301.6 1150.7 302.6 1146.5 303.6 1142.3 304.6 1138.2 305.6 1133.6 306.8 1129.1 307.9 1124.7 309.1 1120.5 310.3 1116.3 311.5 1112.3 312.7 1108.3 313.9 1104.4 315.1 1100.5 316.3 1096.4 317.7 1092.2 319.1 1088 320.5 1083.8 321.9 1079.6 323.4 1076 324.7 1072.7 325.9 1068.5 327.4 1064.3 329 1060.1 330.6 1057 331.9 1053.2 333.4 1049 335 1046.2 336.2 M1085.2 46.2 1081.3 48.6 1078.2 50.5 1075.5 52.3 1071.8 54.6 1068.5 56.7 1065.7 58.5 1062.6 60.5 1059 62.9 1056 65 1053.2 66.8 1050.1 68.9 1046.6 71.3 1046.2 71.6 M1741.4 283.7 1738.6 281 1735.8 278.2 1733.3 275.7 1730.9 273.3 1728.5 270.9 1726.1 268.5 1723.3 265.7 1720.5 263 1717.7 260.2 1715.2 257.7 1712.7 255.4 1710.3 253 1707.9 250.6 1705.2 248 1702.4 245.2 1699.6 242.5 1696.8 239.8 1694.3 237.4 1691.9 235 1689.4 232.6 1686.9 230.3 1684.3 227.7 1681.5 225.1 1678.7 222.4 1675.9 219.7 1673.2 217.1 1670.6 214.7 1668.1 212.3 1665.6 209.9 1663.1 207.6 1660.5 205.2 1657.8 202.6 1655 200 1652.2 197.4 1649.4 194.8 1646.7 192.2 1643.9 189.7 1641.2 187.2 1638.6 184.8 1636 182.5 1633.4 180.1 1630.8 177.7 1628.2 175.3 1625.5 172.9 1622.9 170.5 1620.2 168.1 1617.4 165.6 1614.6 163.1 1611.8 160.6 1609 158.1 1606.3 155.6 1603.5 153.2 1600.7 150.7 1597.9 148.3 1595.1 145.9 1592.3 143.5 1589.5 141.1 1586.8 138.7 1584 136.3 1581.2 133.9 1578.4 131.5 1575.6 129.2 1572.8 126.8 1570 124.5 1567.3 122.2 1564.5 119.8 1561.7 117.5 1558.9 115.3 1556.1 113 1553.3 110.7 1550.4 108.3 1547.4 106 1544.4 103.6 1541.4 101.2 1538.4 98.8 1535.3 96.4 1532.4 94.1 1529.6 92 1526.8 89.8 1524.1 87.7 1521.3 85.6 1518.2 83.3 1515 80.9 1511.8 78.5 1508.7 76.2 1506 74.2 1503.2 72.2 1500.3 70.1 1496.9 67.7 1493.5 65.3 1490.6 63.3 1487.8 61.4 1484.9 59.3 1481.3 57 1478.1 54.8 1475.3 52.9 1472.4 51 1468.7 48.6 1465.5 46.6 1464.9 46.2" fill="none" stroke="#000" stroke-width="1.3"/>
</g>
<rect x="1594.2" y="140.4" width="24.5" height="17" fill="#fff" stroke="#111" stroke-width="1.4"/>
<text x="1606.4" y="153.6" class="tk" font-size="13" text-anchor="middle" textLength="15.5" lengthAdjust="spacingAndGlyphs">95</text>
<rect x="1425.3" y="300.7" width="24.5" height="17" fill="#fff" stroke="#111" stroke-width="1.4"/>
<text x="1437.6" y="313.9" class="tk" font-size="13" text-anchor="middle" textLength="15.5" lengthAdjust="spacingAndGlyphs">90</text>
<rect x="1410.5" y="491.4" width="24.5" height="17" fill="#fff" stroke="#111" stroke-width="1.4"/>
<text x="1422.7" y="504.6" class="tk" font-size="13" text-anchor="middle" textLength="15.5" lengthAdjust="spacingAndGlyphs">85</text>
<rect x="1046.2" y="46.2" width="695.2" height="596.4" fill="none" stroke="#111" stroke-width="1.6"/>
<text x="1022.6" y="50.8" class="tk" font-size="12.6" text-anchor="end" textLength="15.2" lengthAdjust="spacingAndGlyphs">40</text>
<text x="1022.6" y="199.9" class="tk" font-size="12.6" text-anchor="end" textLength="15.2" lengthAdjust="spacingAndGlyphs">35</text>
<text x="1022.6" y="349" class="tk" font-size="12.6" text-anchor="end" textLength="15.2" lengthAdjust="spacingAndGlyphs">30</text>
<text x="1022.6" y="498.1" class="tk" font-size="12.6" text-anchor="end" textLength="15.2" lengthAdjust="spacingAndGlyphs">25</text>
<text x="1022.6" y="647.2" class="tk" font-size="12.6" text-anchor="end" textLength="15.2" lengthAdjust="spacingAndGlyphs">20</text>
<text x="1046.2" y="674.3" class="tk" font-size="12.6" text-anchor="middle" textLength="15.2" lengthAdjust="spacingAndGlyphs">40</text>
<text x="1220" y="674.3" class="tk" font-size="12.6" text-anchor="middle" textLength="15.2" lengthAdjust="spacingAndGlyphs">50</text>
<text x="1393.8" y="674.3" class="tk" font-size="12.6" text-anchor="middle" textLength="15.2" lengthAdjust="spacingAndGlyphs">60</text>
<text x="1567.6" y="674.3" class="tk" font-size="12.6" text-anchor="middle" textLength="15.2" lengthAdjust="spacingAndGlyphs">70</text>
<text x="1741.4" y="674.3" class="tk" font-size="12.6" text-anchor="middle" textLength="15.2" lengthAdjust="spacingAndGlyphs">80</text>
<path d="M1029.2 46.2H1046.2M1029.2 195.3H1046.2M1029.2 344.4H1046.2M1029.2 493.5H1046.2M1029.2 642.6H1046.2M1046.2 642.6V657.6M1220 642.6V657.6M1393.8 642.6V657.6M1567.6 642.6V657.6M1741.4 642.6V657.6" stroke="#222" stroke-width="1.7" fill="none"/>
<ellipse cx="1393.8" cy="344.4" rx="7.7" ry="6.5" fill="#c00000" stroke="#000" stroke-width="1.5"/>
<text x="1381.8" y="349" class="tk" font-size="12.6" text-anchor="end" textLength="7.6" lengthAdjust="spacingAndGlyphs">6</text>
<clipPath id="kd"><rect x="1041.7" y="812.1" width="701.9" height="607.2"/></clipPath>
<defs><linearGradient id="d0"><stop offset="0%" stop-color="#ff4c00"/><stop offset="12.5%" stop-color="#ff6100"/><stop offset="25%" stop-color="#ff7000"/><stop offset="37.5%" stop-color="#ff7a00"/><stop offset="50%" stop-color="#ff8000"/><stop offset="62.5%" stop-color="#ff8000"/><stop offset="75%" stop-color="#ff7b00"/><stop offset="87.5%" stop-color="#ff7200"/><stop offset="100%" stop-color="#ff6300"/></linearGradient><linearGradient id="d1"><stop offset="0%" stop-color="#ff4e00"/><stop offset="12.5%" stop-color="#ff6200"/><stop offset="25%" stop-color="#ff7200"/><stop offset="37.5%" stop-color="#ff7c00"/><stop offset="50%" stop-color="#ff8100"/><stop offset="62.5%" stop-color="#ff8100"/><stop offset="75%" stop-color="#ff7c00"/><stop offset="87.5%" stop-color="#ff7200"/><stop offset="100%" stop-color="#ff6300"/></linearGradient><linearGradient id="d2"><stop offset="0%" stop-color="#ff5000"/><stop offset="12.5%" stop-color="#ff6400"/><stop offset="25%" stop-color="#ff7300"/><stop offset="37.5%" stop-color="#ff7d00"/><stop offset="50%" stop-color="#ff8200"/><stop offset="62.5%" stop-color="#ff8200"/><stop offset="75%" stop-color="#ff7d00"/><stop offset="87.5%" stop-color="#ff7300"/><stop offset="100%" stop-color="#ff6400"/></linearGradient><linearGradient id="d3"><stop offset="0%" stop-color="#ff5200"/><stop offset="12.5%" stop-color="#ff6600"/><stop offset="25%" stop-color="#ff7500"/><stop offset="37.5%" stop-color="#ff7f00"/><stop offset="50%" stop-color="#ff8300"/><stop offset="62.5%" stop-color="#ff8300"/><stop offset="75%" stop-color="#ff7e00"/><stop offset="87.5%" stop-color="#ff7300"/><stop offset="100%" stop-color="#ff6400"/></linearGradient><linearGradient id="d4"><stop offset="0%" stop-color="#ff5500"/><stop offset="12.5%" stop-color="#ff6800"/><stop offset="25%" stop-color="#ff7700"/><stop offset="37.5%" stop-color="#ff8000"/><stop offset="50%" stop-color="#ff8500"/><stop offset="62.5%" stop-color="#ff8400"/><stop offset="75%" stop-color="#ff7e00"/><stop offset="87.5%" stop-color="#ff7400"/><stop offset="100%" stop-color="#ff6400"/></linearGradient><linearGradient id="d5"><stop offset="0%" stop-color="#ff5700"/><stop offset="12.5%" stop-color="#ff6a00"/><stop offset="25%" stop-color="#ff7800"/><stop offset="37.5%" stop-color="#ff8200"/><stop offset="50%" stop-color="#ff8600"/><stop offset="62.5%" stop-color="#ff8500"/><stop offset="75%" stop-color="#ff7f00"/><stop offset="87.5%" stop-color="#ff7400"/><stop offset="100%" stop-color="#ff6400"/></linearGradient><linearGradient id="d6"><stop offset="0%" stop-color="#ff5900"/><stop offset="12.5%" stop-color="#ff6c00"/><stop offset="25%" stop-color="#ff7a00"/><stop offset="37.5%" stop-color="#ff8300"/><stop offset="50%" stop-color="#ff8700"/><stop offset="62.5%" stop-color="#ff8600"/><stop offset="75%" stop-color="#ff8000"/><stop offset="87.5%" stop-color="#ff7500"/><stop offset="100%" stop-color="#ff6400"/></linearGradient><linearGradient id="d7"><stop offset="0%" stop-color="#ff5b00"/><stop offset="12.5%" stop-color="#ff6e00"/><stop offset="25%" stop-color="#ff7b00"/><stop offset="37.5%" stop-color="#ff8400"/><stop offset="50%" stop-color="#ff8800"/><stop offset="62.5%" stop-color="#ff8700"/><stop offset="75%" stop-color="#ff8000"/><stop offset="87.5%" stop-color="#ff7500"/><stop offset="100%" stop-color="#ff6500"/></linearGradient><linearGradient id="d8"><stop offset="0%" stop-color="#ff5d00"/><stop offset="12.5%" stop-color="#ff6f00"/><stop offset="25%" stop-color="#ff7d00"/><stop offset="37.5%" stop-color="#ff8600"/><stop offset="50%" stop-color="#ff8900"/><stop offset="62.5%" stop-color="#ff8800"/><stop offset="75%" stop-color="#ff8100"/><stop offset="87.5%" stop-color="#ff7500"/><stop offset="100%" stop-color="#ff6500"/></linearGradient><linearGradient id="d9"><stop offset="0%" stop-color="#ff5f00"/><stop offset="12.5%" stop-color="#ff7100"/><stop offset="25%" stop-color="#ff7f00"/><stop offset="37.5%" stop-color="#ff8700"/><stop offset="50%" stop-color="#ff8a00"/><stop offset="62.5%" stop-color="#ff8800"/><stop offset="75%" stop-color="#ff8200"/><stop offset="87.5%" stop-color="#ff7600"/><stop offset="100%" stop-color="#ff6500"/></linearGradient><linearGradient id="d10"><stop offset="0%" stop-color="#ff6100"/><stop offset="12.5%" stop-color="#ff7300"/><stop offset="25%" stop-color="#ff8000"/><stop offset="37.5%" stop-color="#ff8800"/><stop offset="50%" stop-color="#ff8b00"/><stop offset="62.5%" stop-color="#ff8900"/><stop offset="75%" stop-color="#ff8200"/><stop offset="87.5%" stop-color="#ff7600"/><stop offset="100%" stop-color="#ff6500"/></linearGradient><linearGradient id="d11"><stop offset="0%" stop-color="#ff6300"/><stop offset="12.5%" stop-color="#ff7500"/><stop offset="25%" stop-color="#ff8200"/><stop offset="37.5%" stop-color="#ff8900"/><stop offset="50%" stop-color="#ff8c00"/><stop offset="62.5%" stop-color="#ff8a00"/><stop offset="75%" stop-color="#ff8300"/><stop offset="87.5%" stop-color="#ff7600"/><stop offset="100%" stop-color="#ff6500"/></linearGradient><linearGradient id="d12"><stop offset="0%" stop-color="#ff6500"/><stop offset="12.5%" stop-color="#ff7600"/><stop offset="25%" stop-color="#ff8300"/><stop offset="37.5%" stop-color="#ff8b00"/><stop offset="50%" stop-color="#ff8d00"/><stop offset="62.5%" stop-color="#ff8b00"/><stop offset="75%" stop-color="#ff8300"/><stop offset="87.5%" stop-color="#ff7700"/><stop offset="100%" stop-color="#ff6500"/></linearGradient><linearGradient id="d13"><stop offset="0%" stop-color="#ff6700"/><stop offset="12.5%" stop-color="#ff7800"/><stop offset="25%" stop-color="#ff8400"/><stop offset="37.5%" stop-color="#ff8c00"/><stop offset="50%" stop-color="#ff8e00"/><stop offset="62.5%" stop-color="#ff8b00"/><stop offset="75%" stop-color="#ff8400"/><stop offset="87.5%" stop-color="#ff7700"/><stop offset="100%" stop-color="#ff6500"/></linearGradient><linearGradient id="d14"><stop offset="0%" stop-color="#ff6900"/><stop offset="12.5%" stop-color="#ff7a00"/><stop offset="25%" stop-color="#ff8600"/><stop offset="37.5%" stop-color="#ff8d00"/><stop offset="50%" stop-color="#ff8f00"/><stop offset="62.5%" stop-color="#ff8c00"/><stop offset="75%" stop-color="#ff8400"/><stop offset="87.5%" stop-color="#ff7700"/><stop offset="100%" stop-color="#ff6500"/></linearGradient><linearGradient id="d15"><stop offset="0%" stop-color="#ff6a00"/><stop offset="12.5%" stop-color="#ff7b00"/><stop offset="25%" stop-color="#ff8700"/><stop offset="37.5%" stop-color="#ff8e00"/><stop offset="50%" stop-color="#ff9000"/><stop offset="62.5%" stop-color="#ff8d00"/><stop offset="75%" stop-color="#ff8500"/><stop offset="87.5%" stop-color="#ff7700"/><stop offset="100%" stop-color="#ff6500"/></linearGradient><linearGradient id="d16"><stop offset="0%" stop-color="#ff6c00"/><stop offset="12.5%" stop-color="#ff7d00"/><stop offset="25%" stop-color="#ff8900"/><stop offset="37.5%" stop-color="#ff8f00"/><stop offset="50%" stop-color="#ff9100"/><stop offset="62.5%" stop-color="#ff8e00"/><stop offset="75%" stop-color="#ff8500"/><stop offset="87.5%" stop-color="#ff7800"/><stop offset="100%" stop-color="#ff6500"/></linearGradient><linearGradient id="d17"><stop offset="0%" stop-color="#ff6e00"/><stop offset="12.5%" stop-color="#ff7f00"/><stop offset="25%" stop-color="#ff8a00"/><stop offset="37.5%" stop-color="#ff9100"/><stop offset="50%" stop-color="#ff9200"/><stop offset="62.5%" stop-color="#ff8e00"/><stop offset="75%" stop-color="#ff8600"/><stop offset="87.5%" stop-color="#ff7800"/><stop offset="100%" stop-color="#ff6500"/></linearGradient><linearGradient id="d18"><stop offset="0%" stop-color="#ff7000"/><stop offset="12.5%" stop-color="#ff8000"/><stop offset="25%" stop-color="#ff8b00"/><stop offset="37.5%" stop-color="#ff9200"/><stop offset="50%" stop-color="#ff9300"/><stop offset="62.5%" stop-color="#ff8f00"/><stop offset="75%" stop-color="#ff8600"/><stop offset="87.5%" stop-color="#ff7800"/><stop offset="100%" stop-color="#ff6500"/></linearGradient><linearGradient id="d19"><stop offset="0%" stop-color="#ff7200"/><stop offset="12.5%" stop-color="#ff8200"/><stop offset="25%" stop-color="#ff8d00"/><stop offset="37.5%" stop-color="#ff9300"/><stop offset="50%" stop-color="#ff9400"/><stop offset="62.5%" stop-color="#ff8f00"/><stop offset="75%" stop-color="#ff8600"/><stop offset="87.5%" stop-color="#ff7800"/><stop offset="100%" stop-color="#ff6500"/></linearGradient><linearGradient id="d20"><stop offset="0%" stop-color="#ff7400"/><stop offset="12.5%" stop-color="#ff8300"/><stop offset="25%" stop-color="#ff8e00"/><stop offset="37.5%" stop-color="#ff9400"/><stop offset="50%" stop-color="#ff9400"/><stop offset="62.5%" stop-color="#ff9000"/><stop offset="75%" stop-color="#ff8700"/><stop offset="87.5%" stop-color="#ff7800"/><stop offset="100%" stop-color="#ff6500"/></linearGradient><linearGradient id="d21"><stop offset="0%" stop-color="#ff7500"/><stop offset="12.5%" stop-color="#ff8500"/><stop offset="25%" stop-color="#ff8f00"/><stop offset="37.5%" stop-color="#ff9500"/><stop offset="50%" stop-color="#ff9500"/><stop offset="62.5%" stop-color="#ff9100"/><stop offset="75%" stop-color="#ff8700"/><stop offset="87.5%" stop-color="#ff7800"/><stop offset="100%" stop-color="#ff6500"/></linearGradient><linearGradient id="d22"><stop offset="0%" stop-color="#ff7700"/><stop offset="12.5%" stop-color="#ff8600"/><stop offset="25%" stop-color="#ff9100"/><stop offset="37.5%" stop-color="#ff9600"/><stop offset="50%" stop-color="#ff9600"/><stop offset="62.5%" stop-color="#ff9100"/><stop offset="75%" stop-color="#ff8700"/><stop offset="87.5%" stop-color="#ff7800"/><stop offset="100%" stop-color="#ff6400"/></linearGradient><linearGradient id="d23"><stop offset="0%" stop-color="#ff7900"/><stop offset="12.5%" stop-color="#ff8800"/><stop offset="25%" stop-color="#ff9200"/><stop offset="37.5%" stop-color="#ff9700"/><stop offset="50%" stop-color="#ff9700"/><stop offset="62.5%" stop-color="#ff9200"/><stop offset="75%" stop-color="#ff8800"/><stop offset="87.5%" stop-color="#ff7800"/><stop offset="100%" stop-color="#ff6400"/></linearGradient><linearGradient id="d24"><stop offset="0%" stop-color="#ff7a00"/><stop offset="12.5%" stop-color="#ff8900"/><stop offset="25%" stop-color="#ff9300"/><stop offset="37.5%" stop-color="#ff9800"/><stop offset="50%" stop-color="#ff9800"/><stop offset="62.5%" stop-color="#ff9200"/><stop offset="75%" stop-color="#ff8800"/><stop offset="87.5%" stop-color="#ff7800"/><stop offset="100%" stop-color="#ff6400"/></linearGradient><linearGradient id="d25"><stop offset="0%" stop-color="#ff7c00"/><stop offset="12.5%" stop-color="#ff8b00"/><stop offset="25%" stop-color="#ff9400"/><stop offset="37.5%" stop-color="#ff9900"/><stop offset="50%" stop-color="#ff9800"/><stop offset="62.5%" stop-color="#ff9300"/><stop offset="75%" stop-color="#ff8800"/><stop offset="87.5%" stop-color="#ff7900"/><stop offset="100%" stop-color="#ff6400"/></linearGradient><linearGradient id="d26"><stop offset="0%" stop-color="#ff7e00"/><stop offset="12.5%" stop-color="#ff8c00"/><stop offset="25%" stop-color="#ff9500"/><stop offset="37.5%" stop-color="#ff9a00"/><stop offset="50%" stop-color="#ff9900"/><stop offset="62.5%" stop-color="#ff9300"/><stop offset="75%" stop-color="#ff8800"/><stop offset="87.5%" stop-color="#ff7900"/><stop offset="100%" stop-color="#ff6400"/></linearGradient><linearGradient id="d27"><stop offset="0%" stop-color="#ff7f00"/><stop offset="12.5%" stop-color="#ff8e00"/><stop offset="25%" stop-color="#ff9700"/><stop offset="37.5%" stop-color="#ff9b00"/><stop offset="50%" stop-color="#ff9a00"/><stop offset="62.5%" stop-color="#ff9400"/><stop offset="75%" stop-color="#ff8900"/><stop offset="87.5%" stop-color="#ff7800"/><stop offset="100%" stop-color="#ff6300"/></linearGradient><linearGradient id="d28"><stop offset="0%" stop-color="#ff8100"/><stop offset="12.5%" stop-color="#ff8f00"/><stop offset="25%" stop-color="#ff9800"/><stop offset="37.5%" stop-color="#ff9c00"/><stop offset="50%" stop-color="#ff9a00"/><stop offset="62.5%" stop-color="#ff9400"/><stop offset="75%" stop-color="#ff8900"/><stop offset="87.5%" stop-color="#ff7800"/><stop offset="100%" stop-color="#ff6300"/></linearGradient><linearGradient id="d29"><stop offset="0%" stop-color="#ff8300"/><stop offset="12.5%" stop-color="#ff9000"/><stop offset="25%" stop-color="#ff9900"/><stop offset="37.5%" stop-color="#ff9c00"/><stop offset="50%" stop-color="#ff9b00"/><stop offset="62.5%" stop-color="#ff9500"/><stop offset="75%" stop-color="#ff8900"/><stop offset="87.5%" stop-color="#ff7800"/><stop offset="100%" stop-color="#ff6300"/></linearGradient><linearGradient id="d30"><stop offset="0%" stop-color="#ff8400"/><stop offset="12.5%" stop-color="#ff9200"/><stop offset="25%" stop-color="#ff9a00"/><stop offset="37.5%" stop-color="#ff9d00"/><stop offset="50%" stop-color="#ff9c00"/><stop offset="62.5%" stop-color="#ff9500"/><stop offset="75%" stop-color="#ff8900"/><stop offset="87.5%" stop-color="#ff7800"/><stop offset="100%" stop-color="#ff6200"/></linearGradient><linearGradient id="d31"><stop offset="0%" stop-color="#ff8600"/><stop offset="12.5%" stop-color="#ff9300"/><stop offset="25%" stop-color="#ff9b00"/><stop offset="37.5%" stop-color="#ff9e00"/><stop offset="50%" stop-color="#ff9c00"/><stop offset="62.5%" stop-color="#ff9500"/><stop offset="75%" stop-color="#ff8900"/><stop offset="87.5%" stop-color="#ff7800"/><stop offset="100%" stop-color="#ff6200"/></linearGradient><linearGradient id="d32"><stop offset="0%" stop-color="#ff8700"/><stop offset="12.5%" stop-color="#ff9400"/><stop offset="25%" stop-color="#ff9c00"/><stop offset="37.5%" stop-color="#ff9f00"/><stop offset="50%" stop-color="#ff9d00"/><stop offset="62.5%" stop-color="#ff9600"/><stop offset="75%" stop-color="#ff8900"/><stop offset="87.5%" stop-color="#ff7800"/><stop offset="100%" stop-color="#ff6200"/></linearGradient><linearGradient id="d33"><stop offset="0%" stop-color="#ff8900"/><stop offset="12.5%" stop-color="#ff9500"/><stop offset="25%" stop-color="#ff9d00"/><stop offset="37.5%" stop-color="#ffa000"/><stop offset="50%" stop-color="#ff9d00"/><stop offset="62.5%" stop-color="#ff9600"/><stop offset="75%" stop-color="#ff8900"/><stop offset="87.5%" stop-color="#ff7800"/><stop offset="100%" stop-color="#ff6100"/></linearGradient><linearGradient id="d34"><stop offset="0%" stop-color="#ff8a00"/><stop offset="12.5%" stop-color="#ff9700"/><stop offset="25%" stop-color="#ff9e00"/><stop offset="37.5%" stop-color="#ffa100"/><stop offset="50%" stop-color="#ff9e00"/><stop offset="62.5%" stop-color="#ff9600"/><stop offset="75%" stop-color="#ff8a00"/><stop offset="87.5%" stop-color="#ff7800"/><stop offset="100%" stop-color="#ff6100"/></linearGradient><linearGradient id="d35"><stop offset="0%" stop-color="#ff8c00"/><stop offset="12.5%" stop-color="#ff9800"/><stop offset="25%" stop-color="#ff9f00"/><stop offset="37.5%" stop-color="#ffa100"/><stop offset="50%" stop-color="#ff9e00"/><stop offset="62.5%" stop-color="#ff9700"/><stop offset="75%" stop-color="#ff8a00"/><stop offset="87.5%" stop-color="#ff7800"/><stop offset="100%" stop-color="#ff6100"/></linearGradient><linearGradient id="d36"><stop offset="0%" stop-color="#ff8d00"/><stop offset="12.5%" stop-color="#ff9900"/><stop offset="25%" stop-color="#ffa000"/><stop offset="37.5%" stop-color="#ffa200"/><stop offset="50%" stop-color="#ff9f00"/><stop offset="62.5%" stop-color="#ff9700"/><stop offset="75%" stop-color="#ff8a00"/><stop offset="87.5%" stop-color="#ff7700"/><stop offset="100%" stop-color="#ff6000"/></linearGradient><linearGradient id="d37"><stop offset="0%" stop-color="#ff8f00"/><stop offset="12.5%" stop-color="#ff9a00"/><stop offset="25%" stop-color="#ffa100"/><stop offset="37.5%" stop-color="#ffa300"/><stop offset="50%" stop-color="#ff9f00"/><stop offset="62.5%" stop-color="#ff9700"/><stop offset="75%" stop-color="#ff8a00"/><stop offset="87.5%" stop-color="#ff7700"/><stop offset="100%" stop-color="#ff6000"/></linearGradient><linearGradient id="d38"><stop offset="0%" stop-color="#ff9000"/><stop offset="12.5%" stop-color="#ff9c00"/><stop offset="25%" stop-color="#ffa200"/><stop offset="37.5%" stop-color="#ffa400"/><stop offset="50%" stop-color="#ffa000"/><stop offset="62.5%" stop-color="#ff9700"/><stop offset="75%" stop-color="#ff8a00"/><stop offset="87.5%" stop-color="#ff7700"/><stop offset="100%" stop-color="#ff5f00"/></linearGradient><linearGradient id="d39"><stop offset="0%" stop-color="#ff9100"/><stop offset="12.5%" stop-color="#ff9d00"/><stop offset="25%" stop-color="#ffa300"/><stop offset="37.5%" stop-color="#ffa400"/><stop offset="50%" stop-color="#ffa000"/><stop offset="62.5%" stop-color="#ff9700"/><stop offset="75%" stop-color="#ff8a00"/><stop offset="87.5%" stop-color="#ff7700"/><stop offset="100%" stop-color="#ff5f00"/></linearGradient><linearGradient id="d40"><stop offset="0%" stop-color="#ff9300"/><stop offset="12.5%" stop-color="#ff9e00"/><stop offset="25%" stop-color="#ffa400"/><stop offset="37.5%" stop-color="#ffa500"/><stop offset="50%" stop-color="#ffa100"/><stop offset="62.5%" stop-color="#ff9800"/><stop offset="75%" stop-color="#ff8a00"/><stop offset="87.5%" stop-color="#ff7600"/><stop offset="100%" stop-color="#ff5e00"/></linearGradient><linearGradient id="d41"><stop offset="0%" stop-color="#ff9400"/><stop offset="12.5%" stop-color="#ff9f00"/><stop offset="25%" stop-color="#ffa500"/><stop offset="37.5%" stop-color="#ffa500"/><stop offset="50%" stop-color="#ffa100"/><stop offset="62.5%" stop-color="#ff9800"/><stop offset="75%" stop-color="#ff8900"/><stop offset="87.5%" stop-color="#ff7600"/><stop offset="100%" stop-color="#ff5e00"/></linearGradient><linearGradient id="d42"><stop offset="0%" stop-color="#ff9500"/><stop offset="12.5%" stop-color="#ffa000"/><stop offset="25%" stop-color="#ffa600"/><stop offset="37.5%" stop-color="#ffa600"/><stop offset="50%" stop-color="#ffa200"/><stop offset="62.5%" stop-color="#ff9800"/><stop offset="75%" stop-color="#ff8900"/><stop offset="87.5%" stop-color="#ff7600"/><stop offset="100%" stop-color="#ff5d00"/></linearGradient><linearGradient id="d43"><stop offset="0%" stop-color="#ff9700"/><stop offset="12.5%" stop-color="#ffa100"/><stop offset="25%" stop-color="#ffa600"/><stop offset="37.5%" stop-color="#ffa700"/><stop offset="50%" stop-color="#ffa200"/><stop offset="62.5%" stop-color="#ff9800"/><stop offset="75%" stop-color="#ff8900"/><stop offset="87.5%" stop-color="#ff7500"/><stop offset="100%" stop-color="#ff5c00"/></linearGradient><linearGradient id="d44"><stop offset="0%" stop-color="#ff9800"/><stop offset="12.5%" stop-color="#ffa200"/><stop offset="25%" stop-color="#ffa700"/><stop offset="37.5%" stop-color="#ffa700"/><stop offset="50%" stop-color="#ffa200"/><stop offset="62.5%" stop-color="#ff9800"/><stop offset="75%" stop-color="#ff8900"/><stop offset="87.5%" stop-color="#ff7500"/><stop offset="100%" stop-color="#ff5c00"/></linearGradient><linearGradient id="d45"><stop offset="0%" stop-color="#ff9900"/><stop offset="12.5%" stop-color="#ffa300"/><stop offset="25%" stop-color="#ffa800"/><stop offset="37.5%" stop-color="#ffa800"/><stop offset="50%" stop-color="#ffa300"/><stop offset="62.5%" stop-color="#ff9800"/><stop offset="75%" stop-color="#ff8900"/><stop offset="87.5%" stop-color="#ff7500"/><stop offset="100%" stop-color="#ff5b00"/></linearGradient><linearGradient id="d46"><stop offset="0%" stop-color="#ff9b00"/><stop offset="12.5%" stop-color="#ffa400"/><stop offset="25%" stop-color="#ffa900"/><stop offset="37.5%" stop-color="#ffa800"/><stop offset="50%" stop-color="#ffa300"/><stop offset="62.5%" stop-color="#ff9800"/><stop offset="75%" stop-color="#ff8900"/><stop offset="87.5%" stop-color="#ff7400"/><stop offset="100%" stop-color="#ff5b00"/></linearGradient><linearGradient id="d47"><stop offset="0%" stop-color="#ff9c00"/><stop offset="12.5%" stop-color="#ffa500"/><stop offset="25%" stop-color="#ffaa00"/><stop offset="37.5%" stop-color="#ffa900"/><stop offset="50%" stop-color="#ffa300"/><stop offset="62.5%" stop-color="#ff9800"/><stop offset="75%" stop-color="#ff8900"/><stop offset="87.5%" stop-color="#ff7400"/><stop offset="100%" stop-color="#ff5a00"/></linearGradient><linearGradient id="d48"><stop offset="0%" stop-color="#ff9d00"/><stop offset="12.5%" stop-color="#ffa600"/><stop offset="25%" stop-color="#ffaa00"/><stop offset="37.5%" stop-color="#ffa900"/><stop offset="50%" stop-color="#ffa300"/><stop offset="62.5%" stop-color="#ff9800"/><stop offset="75%" stop-color="#ff8800"/><stop offset="87.5%" stop-color="#ff7300"/><stop offset="100%" stop-color="#ff5900"/></linearGradient><linearGradient id="d49"><stop offset="0%" stop-color="#ff9e00"/><stop offset="12.5%" stop-color="#ffa700"/><stop offset="25%" stop-color="#ffab00"/><stop offset="37.5%" stop-color="#ffaa00"/><stop offset="50%" stop-color="#ffa400"/><stop offset="62.5%" stop-color="#ff9800"/><stop offset="75%" stop-color="#ff8800"/><stop offset="87.5%" stop-color="#ff7300"/><stop offset="100%" stop-color="#ff5800"/></linearGradient><linearGradient id="d50"><stop offset="0%" stop-color="#ff9f00"/><stop offset="12.5%" stop-color="#ffa800"/><stop offset="25%" stop-color="#ffac00"/><stop offset="37.5%" stop-color="#ffaa00"/><stop offset="50%" stop-color="#ffa400"/><stop offset="62.5%" stop-color="#ff9800"/><stop offset="75%" stop-color="#ff8800"/><stop offset="87.5%" stop-color="#ff7200"/><stop offset="100%" stop-color="#ff5800"/></linearGradient><linearGradient id="d51"><stop offset="0%" stop-color="#ffa000"/><stop offset="12.5%" stop-color="#ffa900"/><stop offset="25%" stop-color="#ffac00"/><stop offset="37.5%" stop-color="#ffab00"/><stop offset="50%" stop-color="#ffa400"/><stop offset="62.5%" stop-color="#ff9800"/><stop offset="75%" stop-color="#ff8800"/><stop offset="87.5%" stop-color="#ff7200"/><stop offset="100%" stop-color="#ff5700"/></linearGradient><linearGradient id="d52"><stop offset="0%" stop-color="#ffa200"/><stop offset="12.5%" stop-color="#ffaa00"/><stop offset="25%" stop-color="#ffad00"/><stop offset="37.5%" stop-color="#ffab00"/><stop offset="50%" stop-color="#ffa400"/><stop offset="62.5%" stop-color="#ff9800"/><stop offset="75%" stop-color="#ff8700"/><stop offset="87.5%" stop-color="#ff7100"/><stop offset="100%" stop-color="#ff5600"/></linearGradient><linearGradient id="d53"><stop offset="0%" stop-color="#ffa300"/><stop offset="12.5%" stop-color="#ffab00"/><stop offset="25%" stop-color="#ffae00"/><stop offset="37.5%" stop-color="#ffab00"/><stop offset="50%" stop-color="#ffa400"/><stop offset="62.5%" stop-color="#ff9800"/><stop offset="75%" stop-color="#ff8700"/><stop offset="87.5%" stop-color="#ff7100"/><stop offset="100%" stop-color="#ff5500"/></linearGradient><linearGradient id="d54"><stop offset="0%" stop-color="#ffa400"/><stop offset="12.5%" stop-color="#ffab00"/><stop offset="25%" stop-color="#ffae00"/><stop offset="37.5%" stop-color="#ffac00"/><stop offset="50%" stop-color="#ffa400"/><stop offset="62.5%" stop-color="#ff9800"/><stop offset="75%" stop-color="#ff8700"/><stop offset="87.5%" stop-color="#ff7000"/><stop offset="100%" stop-color="#ff5500"/></linearGradient><linearGradient id="d55"><stop offset="0%" stop-color="#ffa500"/><stop offset="12.5%" stop-color="#ffac00"/><stop offset="25%" stop-color="#ffaf00"/><stop offset="37.5%" stop-color="#ffac00"/><stop offset="50%" stop-color="#ffa500"/><stop offset="62.5%" stop-color="#ff9800"/><stop offset="75%" stop-color="#ff8600"/><stop offset="87.5%" stop-color="#ff7000"/><stop offset="100%" stop-color="#ff5400"/></linearGradient><linearGradient id="d56"><stop offset="0%" stop-color="#ffa600"/><stop offset="12.5%" stop-color="#ffad00"/><stop offset="25%" stop-color="#ffaf00"/><stop offset="37.5%" stop-color="#ffad00"/><stop offset="50%" stop-color="#ffa500"/><stop offset="62.5%" stop-color="#ff9800"/><stop offset="75%" stop-color="#ff8600"/><stop offset="87.5%" stop-color="#ff6f00"/><stop offset="100%" stop-color="#ff5300"/></linearGradient><linearGradient id="d57"><stop offset="0%" stop-color="#ffa700"/><stop offset="12.5%" stop-color="#ffae00"/><stop offset="25%" stop-color="#ffb000"/><stop offset="37.5%" stop-color="#ffad00"/><stop offset="50%" stop-color="#ffa500"/><stop offset="62.5%" stop-color="#ff9800"/><stop offset="75%" stop-color="#ff8500"/><stop offset="87.5%" stop-color="#ff6e00"/><stop offset="100%" stop-color="#ff5200"/></linearGradient><linearGradient id="d58"><stop offset="0%" stop-color="#ffa800"/><stop offset="12.5%" stop-color="#ffaf00"/><stop offset="25%" stop-color="#ffb000"/><stop offset="37.5%" stop-color="#ffad00"/><stop offset="50%" stop-color="#ffa500"/><stop offset="62.5%" stop-color="#ff9700"/><stop offset="75%" stop-color="#ff8500"/><stop offset="87.5%" stop-color="#ff6e00"/><stop offset="100%" stop-color="#ff5100"/></linearGradient><linearGradient id="d59"><stop offset="0%" stop-color="#ffa900"/><stop offset="12.5%" stop-color="#ffaf00"/><stop offset="25%" stop-color="#ffb100"/><stop offset="37.5%" stop-color="#ffad00"/><stop offset="50%" stop-color="#ffa500"/><stop offset="62.5%" stop-color="#ff9700"/><stop offset="75%" stop-color="#ff8500"/><stop offset="87.5%" stop-color="#ff6d00"/><stop offset="100%" stop-color="#ff5000"/></linearGradient><linearGradient id="d60"><stop offset="0%" stop-color="#ffaa00"/><stop offset="12.5%" stop-color="#ffb000"/><stop offset="25%" stop-color="#ffb100"/><stop offset="37.5%" stop-color="#ffae00"/><stop offset="50%" stop-color="#ffa500"/><stop offset="62.5%" stop-color="#ff9700"/><stop offset="75%" stop-color="#ff8400"/><stop offset="87.5%" stop-color="#ff6c00"/><stop offset="100%" stop-color="#ff4f00"/></linearGradient><linearGradient id="d61"><stop offset="0%" stop-color="#ffab00"/><stop offset="12.5%" stop-color="#ffb100"/><stop offset="25%" stop-color="#ffb200"/><stop offset="37.5%" stop-color="#ffae00"/><stop offset="50%" stop-color="#ffa500"/><stop offset="62.5%" stop-color="#ff9700"/><stop offset="75%" stop-color="#ff8400"/><stop offset="87.5%" stop-color="#ff6b00"/><stop offset="100%" stop-color="#ff4e00"/></linearGradient><linearGradient id="d62"><stop offset="0%" stop-color="#ffac00"/><stop offset="12.5%" stop-color="#ffb100"/><stop offset="25%" stop-color="#ffb200"/><stop offset="37.5%" stop-color="#ffae00"/><stop offset="50%" stop-color="#ffa500"/><stop offset="62.5%" stop-color="#ff9600"/><stop offset="75%" stop-color="#ff8300"/><stop offset="87.5%" stop-color="#ff6b00"/><stop offset="100%" stop-color="#ff4d00"/></linearGradient><linearGradient id="d63"><stop offset="0%" stop-color="#ffac00"/><stop offset="12.5%" stop-color="#ffb200"/><stop offset="25%" stop-color="#ffb300"/><stop offset="37.5%" stop-color="#ffae00"/><stop offset="50%" stop-color="#ffa500"/><stop offset="62.5%" stop-color="#ff9600"/><stop offset="75%" stop-color="#ff8300"/><stop offset="87.5%" stop-color="#ff6a00"/><stop offset="100%" stop-color="#ff4c00"/></linearGradient><linearGradient id="d64"><stop offset="0%" stop-color="#ffad00"/><stop offset="12.5%" stop-color="#ffb300"/><stop offset="25%" stop-color="#ffb300"/><stop offset="37.5%" stop-color="#ffae00"/><stop offset="50%" stop-color="#ffa500"/><stop offset="62.5%" stop-color="#ff9600"/><stop offset="75%" stop-color="#ff8200"/><stop offset="87.5%" stop-color="#ff6900"/><stop offset="100%" stop-color="#ff4b00"/></linearGradient><linearGradient id="d65"><stop offset="0%" stop-color="#ffae00"/><stop offset="12.5%" stop-color="#ffb300"/><stop offset="25%" stop-color="#ffb300"/><stop offset="37.5%" stop-color="#ffaf00"/><stop offset="50%" stop-color="#ffa500"/><stop offset="62.5%" stop-color="#ff9600"/><stop offset="75%" stop-color="#ff8100"/><stop offset="87.5%" stop-color="#ff6800"/><stop offset="100%" stop-color="#ff4a00"/></linearGradient><linearGradient id="d66"><stop offset="0%" stop-color="#ffaf00"/><stop offset="12.5%" stop-color="#ffb400"/><stop offset="25%" stop-color="#ffb400"/><stop offset="37.5%" stop-color="#ffaf00"/><stop offset="50%" stop-color="#ffa400"/><stop offset="62.5%" stop-color="#ff9500"/><stop offset="75%" stop-color="#ff8100"/><stop offset="87.5%" stop-color="#ff6800"/><stop offset="100%" stop-color="#ff4900"/></linearGradient><linearGradient id="d67"><stop offset="0%" stop-color="#ffb000"/><stop offset="12.5%" stop-color="#ffb500"/><stop offset="25%" stop-color="#ffb400"/><stop offset="37.5%" stop-color="#ffaf00"/><stop offset="50%" stop-color="#ffa400"/><stop offset="62.5%" stop-color="#ff9500"/><stop offset="75%" stop-color="#ff8000"/><stop offset="87.5%" stop-color="#ff6700"/><stop offset="100%" stop-color="#ff4800"/></linearGradient><linearGradient id="d68"><stop offset="0%" stop-color="#ffb100"/><stop offset="12.5%" stop-color="#ffb500"/><stop offset="25%" stop-color="#ffb400"/><stop offset="37.5%" stop-color="#ffaf00"/><stop offset="50%" stop-color="#ffa400"/><stop offset="62.5%" stop-color="#ff9400"/><stop offset="75%" stop-color="#ff8000"/><stop offset="87.5%" stop-color="#ff6600"/><stop offset="100%" stop-color="#ff4700"/></linearGradient><linearGradient id="d69"><stop offset="0%" stop-color="#ffb100"/><stop offset="12.5%" stop-color="#ffb600"/><stop offset="25%" stop-color="#ffb500"/><stop offset="37.5%" stop-color="#ffaf00"/><stop offset="50%" stop-color="#ffa400"/><stop offset="62.5%" stop-color="#ff9400"/><stop offset="75%" stop-color="#ff7f00"/><stop offset="87.5%" stop-color="#ff6500"/><stop offset="100%" stop-color="#ff4600"/></linearGradient><linearGradient id="d70"><stop offset="0%" stop-color="#ffb200"/><stop offset="12.5%" stop-color="#ffb600"/><stop offset="25%" stop-color="#ffb500"/><stop offset="37.5%" stop-color="#ffaf00"/><stop offset="50%" stop-color="#ffa400"/><stop offset="62.5%" stop-color="#ff9400"/><stop offset="75%" stop-color="#ff7e00"/><stop offset="87.5%" stop-color="#ff6400"/><stop offset="100%" stop-color="#ff4500"/></linearGradient><linearGradient id="d71"><stop offset="0%" stop-color="#ffb300"/><stop offset="12.5%" stop-color="#ffb700"/><stop offset="25%" stop-color="#ffb500"/><stop offset="37.5%" stop-color="#ffaf00"/><stop offset="50%" stop-color="#ffa400"/><stop offset="62.5%" stop-color="#ff9300"/><stop offset="75%" stop-color="#ff7e00"/><stop offset="87.5%" stop-color="#ff6300"/><stop offset="100%" stop-color="#ff4400"/></linearGradient><linearGradient id="d72"><stop offset="0%" stop-color="#ffb400"/><stop offset="12.5%" stop-color="#ffb700"/><stop offset="25%" stop-color="#ffb600"/><stop offset="37.5%" stop-color="#ffaf00"/><stop offset="50%" stop-color="#ffa300"/><stop offset="62.5%" stop-color="#ff9300"/><stop offset="75%" stop-color="#ff7d00"/><stop offset="87.5%" stop-color="#ff6200"/><stop offset="100%" stop-color="#ff4200"/></linearGradient><linearGradient id="d73"><stop offset="0%" stop-color="#ffb400"/><stop offset="12.5%" stop-color="#ffb700"/><stop offset="25%" stop-color="#ffb600"/><stop offset="37.5%" stop-color="#ffaf00"/><stop offset="50%" stop-color="#ffa300"/><stop offset="62.5%" stop-color="#ff9200"/><stop offset="75%" stop-color="#ff7c00"/><stop offset="87.5%" stop-color="#ff6100"/><stop offset="100%" stop-color="#ff4100"/></linearGradient><linearGradient id="d74"><stop offset="0%" stop-color="#ffb500"/><stop offset="12.5%" stop-color="#ffb800"/><stop offset="25%" stop-color="#ffb600"/><stop offset="37.5%" stop-color="#ffaf00"/><stop offset="50%" stop-color="#ffa300"/><stop offset="62.5%" stop-color="#ff9200"/><stop offset="75%" stop-color="#ff7b00"/><stop offset="87.5%" stop-color="#ff6000"/><stop offset="100%" stop-color="#ff4000"/></linearGradient><linearGradient id="d75"><stop offset="0%" stop-color="#ffb600"/><stop offset="12.5%" stop-color="#ffb800"/><stop offset="25%" stop-color="#ffb600"/><stop offset="37.5%" stop-color="#ffaf00"/><stop offset="50%" stop-color="#ffa200"/><stop offset="62.5%" stop-color="#ff9100"/><stop offset="75%" stop-color="#ff7b00"/><stop offset="87.5%" stop-color="#ff5f00"/><stop offset="100%" stop-color="#ff3f00"/></linearGradient><linearGradient id="d76"><stop offset="0%" stop-color="#ffb600"/><stop offset="12.5%" stop-color="#ffb900"/><stop offset="25%" stop-color="#ffb600"/><stop offset="37.5%" stop-color="#ffaf00"/><stop offset="50%" stop-color="#ffa200"/><stop offset="62.5%" stop-color="#ff9100"/><stop offset="75%" stop-color="#ff7a00"/><stop offset="87.5%" stop-color="#ff5e00"/><stop offset="100%" stop-color="#ff3d00"/></linearGradient><linearGradient id="d77"><stop offset="0%" stop-color="#ffb700"/><stop offset="12.5%" stop-color="#ffb900"/><stop offset="25%" stop-color="#ffb600"/><stop offset="37.5%" stop-color="#ffaf00"/><stop offset="50%" stop-color="#ffa200"/><stop offset="62.5%" stop-color="#ff9000"/><stop offset="75%" stop-color="#ff7900"/><stop offset="87.5%" stop-color="#ff5d00"/><stop offset="100%" stop-color="#ff3c00"/></linearGradient><linearGradient id="d78"><stop offset="0%" stop-color="#ffb700"/><stop offset="12.5%" stop-color="#ffb900"/><stop offset="25%" stop-color="#ffb600"/><stop offset="37.5%" stop-color="#ffae00"/><stop offset="50%" stop-color="#ffa100"/><stop offset="62.5%" stop-color="#ff8f00"/><stop offset="75%" stop-color="#ff7800"/><stop offset="87.5%" stop-color="#ff5c00"/><stop offset="100%" stop-color="#ff3b00"/></linearGradient><linearGradient id="d79"><stop offset="0%" stop-color="#ffb800"/><stop offset="12.5%" stop-color="#ffba00"/><stop offset="25%" stop-color="#ffb700"/><stop offset="37.5%" stop-color="#ffae00"/><stop offset="50%" stop-color="#ffa100"/><stop offset="62.5%" stop-color="#ff8f00"/><stop offset="75%" stop-color="#ff7700"/><stop offset="87.5%" stop-color="#ff5b00"/><stop offset="100%" stop-color="#ff3900"/></linearGradient><linearGradient id="d80"><stop offset="0%" stop-color="#ffb800"/><stop offset="12.5%" stop-color="#ffba00"/><stop offset="25%" stop-color="#ffb700"/><stop offset="37.5%" stop-color="#ffae00"/><stop offset="50%" stop-color="#ffa100"/><stop offset="62.5%" stop-color="#ff8e00"/><stop offset="75%" stop-color="#ff7600"/><stop offset="87.5%" stop-color="#ff5a00"/><stop offset="100%" stop-color="#ff3800"/></linearGradient><linearGradient id="d81"><stop offset="0%" stop-color="#ffb900"/><stop offset="12.5%" stop-color="#ffba00"/><stop offset="25%" stop-color="#ffb700"/><stop offset="37.5%" stop-color="#ffae00"/><stop offset="50%" stop-color="#ffa000"/><stop offset="62.5%" stop-color="#ff8d00"/><stop offset="75%" stop-color="#ff7600"/><stop offset="87.5%" stop-color="#ff5900"/><stop offset="100%" stop-color="#ff3700"/></linearGradient><linearGradient id="d82"><stop offset="0%" stop-color="#ffb900"/><stop offset="12.5%" stop-color="#ffbb00"/><stop offset="25%" stop-color="#ffb700"/><stop offset="37.5%" stop-color="#ffae00"/><stop offset="50%" stop-color="#ffa000"/><stop offset="62.5%" stop-color="#ff8d00"/><stop offset="75%" stop-color="#ff7500"/><stop offset="87.5%" stop-color="#ff5800"/><stop offset="100%" stop-color="#ff3500"/></linearGradient><linearGradient id="d83"><stop offset="0%" stop-color="#ffba00"/><stop offset="12.5%" stop-color="#ffbb00"/><stop offset="25%" stop-color="#ffb700"/><stop offset="37.5%" stop-color="#ffad00"/><stop offset="50%" stop-color="#ff9f00"/><stop offset="62.5%" stop-color="#ff8c00"/><stop offset="75%" stop-color="#ff7400"/><stop offset="87.5%" stop-color="#ff5600"/><stop offset="100%" stop-color="#ff3400"/></linearGradient><linearGradient id="d84"><stop offset="0%" stop-color="#ffba00"/><stop offset="12.5%" stop-color="#ffbb00"/><stop offset="25%" stop-color="#ffb700"/><stop offset="37.5%" stop-color="#ffad00"/><stop offset="50%" stop-color="#ff9f00"/><stop offset="62.5%" stop-color="#ff8b00"/><stop offset="75%" stop-color="#ff7300"/><stop offset="87.5%" stop-color="#ff5500"/><stop offset="100%" stop-color="#ff3200"/></linearGradient><linearGradient id="d85"><stop offset="0%" stop-color="#ffbb00"/><stop offset="12.5%" stop-color="#ffbb00"/><stop offset="25%" stop-color="#ffb700"/><stop offset="37.5%" stop-color="#ffad00"/><stop offset="50%" stop-color="#ff9e00"/><stop offset="62.5%" stop-color="#ff8b00"/><stop offset="75%" stop-color="#ff7200"/><stop offset="87.5%" stop-color="#ff5400"/><stop offset="100%" stop-color="#ff3100"/></linearGradient><linearGradient id="d86"><stop offset="0%" stop-color="#ffbb00"/><stop offset="12.5%" stop-color="#ffbb00"/><stop offset="25%" stop-color="#ffb700"/><stop offset="37.5%" stop-color="#ffad00"/><stop offset="50%" stop-color="#ff9e00"/><stop offset="62.5%" stop-color="#ff8a00"/><stop offset="75%" stop-color="#ff7100"/><stop offset="87.5%" stop-color="#ff5300"/><stop offset="100%" stop-color="#ff3000"/></linearGradient></defs>
<g clip-path="url(#kd)"><g transform="translate(1041.7 0)"><g style="width:0">
<rect width="701.9" y="811.7" height="7.8" fill="url(#d0)"/><rect width="701.9" y="818.7" height="7.8" fill="url(#d1)"/><rect width="701.9" y="825.7" height="7.8" fill="url(#d2)"/><rect width="701.9" y="832.6" height="7.8" fill="url(#d3)"/><rect width="701.9" y="839.6" height="7.8" fill="url(#d4)"/><rect width="701.9" y="846.6" height="7.8" fill="url(#d5)"/><rect width="701.9" y="853.6" height="7.8" fill="url(#d6)"/><rect width="701.9" y="860.6" height="7.8" fill="url(#d7)"/><rect width="701.9" y="867.5" height="7.8" fill="url(#d8)"/><rect width="701.9" y="874.5" height="7.8" fill="url(#d9)"/><rect width="701.9" y="881.5" height="7.8" fill="url(#d10)"/><rect width="701.9" y="888.5" height="7.8" fill="url(#d11)"/><rect width="701.9" y="895.5" height="7.8" fill="url(#d12)"/><rect width="701.9" y="902.4" height="7.8" fill="url(#d13)"/><rect width="701.9" y="909.4" height="7.8" fill="url(#d14)"/><rect width="701.9" y="916.4" height="7.8" fill="url(#d15)"/><rect width="701.9" y="923.4" height="7.8" fill="url(#d16)"/><rect width="701.9" y="930.3" height="7.8" fill="url(#d17)"/><rect width="701.9" y="937.3" height="7.8" fill="url(#d18)"/><rect width="701.9" y="944.3" height="7.8" fill="url(#d19)"/><rect width="701.9" y="951.3" height="7.8" fill="url(#d20)"/><rect width="701.9" y="958.3" height="7.8" fill="url(#d21)"/><rect width="701.9" y="965.2" height="7.8" fill="url(#d22)"/><rect width="701.9" y="972.2" height="7.8" fill="url(#d23)"/><rect width="701.9" y="979.2" height="7.8" fill="url(#d24)"/><rect width="701.9" y="986.2" height="7.8" fill="url(#d25)"/><rect width="701.9" y="993.2" height="7.8" fill="url(#d26)"/><rect width="701.9" y="1000.1" height="7.8" fill="url(#d27)"/><rect width="701.9" y="1007.1" height="7.8" fill="url(#d28)"/><rect width="701.9" y="1014.1" height="7.8" fill="url(#d29)"/><rect width="701.9" y="1021.1" height="7.8" fill="url(#d30)"/><rect width="701.9" y="1028.1" height="7.8" fill="url(#d31)"/><rect width="701.9" y="1035" height="7.8" fill="url(#d32)"/><rect width="701.9" y="1042" height="7.8" fill="url(#d33)"/><rect width="701.9" y="1049" height="7.8" fill="url(#d34)"/><rect width="701.9" y="1056" height="7.8" fill="url(#d35)"/><rect width="701.9" y="1063" height="7.8" fill="url(#d36)"/><rect width="701.9" y="1069.9" height="7.8" fill="url(#d37)"/><rect width="701.9" y="1076.9" height="7.8" fill="url(#d38)"/><rect width="701.9" y="1083.9" height="7.8" fill="url(#d39)"/><rect width="701.9" y="1090.9" height="7.8" fill="url(#d40)"/><rect width="701.9" y="1097.9" height="7.8" fill="url(#d41)"/><rect width="701.9" y="1104.8" height="7.8" fill="url(#d42)"/><rect width="701.9" y="1111.8" height="7.8" fill="url(#d43)"/><rect width="701.9" y="1118.8" height="7.8" fill="url(#d44)"/><rect width="701.9" y="1125.8" height="7.8" fill="url(#d45)"/><rect width="701.9" y="1132.7" height="7.8" fill="url(#d46)"/><rect width="701.9" y="1139.7" height="7.8" fill="url(#d47)"/><rect width="701.9" y="1146.7" height="7.8" fill="url(#d48)"/><rect width="701.9" y="1153.7" height="7.8" fill="url(#d49)"/><rect width="701.9" y="1160.7" height="7.8" fill="url(#d50)"/><rect width="701.9" y="1167.6" height="7.8" fill="url(#d51)"/><rect width="701.9" y="1174.6" height="7.8" fill="url(#d52)"/><rect width="701.9" y="1181.6" height="7.8" fill="url(#d53)"/><rect width="701.9" y="1188.6" height="7.8" fill="url(#d54)"/><rect width="701.9" y="1195.6" height="7.8" fill="url(#d55)"/><rect width="701.9" y="1202.5" height="7.8" fill="url(#d56)"/><rect width="701.9" y="1209.5" height="7.8" fill="url(#d57)"/><rect width="701.9" y="1216.5" height="7.8" fill="url(#d58)"/><rect width="701.9" y="1223.5" height="7.8" fill="url(#d59)"/><rect width="701.9" y="1230.5" height="7.8" fill="url(#d60)"/><rect width="701.9" y="1237.4" height="7.8" fill="url(#d61)"/><rect width="701.9" y="1244.4" height="7.8" fill="url(#d62)"/><rect width="701.9" y="1251.4" height="7.8" fill="url(#d63)"/><rect width="701.9" y="1258.4" height="7.8" fill="url(#d64)"/><rect width="701.9" y="1265.4" height="7.8" fill="url(#d65)"/><rect width="701.9" y="1272.3" height="7.8" fill="url(#d66)"/><rect width="701.9" y="1279.3" height="7.8" fill="url(#d67)"/><rect width="701.9" y="1286.3" height="7.8" fill="url(#d68)"/><rect width="701.9" y="1293.3" height="7.8" fill="url(#d69)"/><rect width="701.9" y="1300.3" height="7.8" fill="url(#d70)"/><rect width="701.9" y="1307.2" height="7.8" fill="url(#d71)"/><rect width="701.9" y="1314.2" height="7.8" fill="url(#d72)"/><rect width="701.9" y="1321.2" height="7.8" fill="url(#d73)"/><rect width="701.9" y="1328.2" height="7.8" fill="url(#d74)"/><rect width="701.9" y="1335.1" height="7.8" fill="url(#d75)"/><rect width="701.9" y="1342.1" height="7.8" fill="url(#d76)"/><rect width="701.9" y="1349.1" height="7.8" fill="url(#d77)"/><rect width="701.9" y="1356.1" height="7.8" fill="url(#d78)"/><rect width="701.9" y="1363.1" height="7.8" fill="url(#d79)"/><rect width="701.9" y="1370" height="7.8" fill="url(#d80)"/><rect width="701.9" y="1377" height="7.8" fill="url(#d81)"/><rect width="701.9" y="1384" height="7.8" fill="url(#d82)"/><rect width="701.9" y="1391" height="7.8" fill="url(#d83)"/><rect width="701.9" y="1398" height="7.8" fill="url(#d84)"/><rect width="701.9" y="1404.9" height="7.8" fill="url(#d85)"/><rect width="701.9" y="1411.9" height="7.8" fill="url(#d86)"/>
</g></g>
<path d="M1258.6 1419.3 1259.7 1414.6 1260.6 1410.8 1261.4 1407.1 1262.4 1402.3 1263.1 1398.6 1263.9 1394 1264.6 1390.1 1265.4 1385.4 1265.9 1381.6 1266.5 1376.7 1267 1373.1 1267.4 1368.2 1267.9 1363.3 1268.2 1358.5 1268.3 1354.8 1268.5 1349.9 1268.5 1345.1 1268.4 1340.2 1268.3 1335.3 1268 1331.7 1267.6 1326.8 1267 1322 1266.5 1318.3 1265.6 1313.4 1264.9 1309.8 1263.9 1305.9 1262.6 1301.3 1261.5 1297.6 1260.1 1294 1258.6 1290.3 1256.9 1286.7 1255.5 1283.9 1253.6 1280.6 1251.3 1276.9 1249.6 1274.5 1247.1 1271.3 1244.5 1268.4 1242.1 1266 1239.4 1263.5 1236.4 1261.1 1233 1258.7 1230.2 1256.9 1226.8 1255 1223.2 1253.3 1218.9 1251.6 1214.8 1250.2 1210.5 1249 1206.3 1248.1 1202.1 1247.4 1196.4 1246.8 1190.8 1246.6 1185.2 1246.6 1179.5 1246.9 1173.9 1247.5 1169.7 1248 1164.2 1248.9 1159.9 1249.8 1155.6 1250.8 1151.4 1251.8 1147.2 1253 1143 1254.2 1138.8 1255.6 1134.5 1257 1130.3 1258.5 1126.7 1259.9 1123.3 1261.3 1119.1 1263 1115 1264.8 1112 1266.1 1107.8 1268 1104.4 1269.6 1100.8 1271.4 1097.1 1273.3 1093.7 1275 1090.2 1276.9 1086.7 1278.8 1083.5 1280.6 1079.7 1282.8 1076.9 1284.4 1073 1286.7 1069.8 1288.6 1067 1290.3 1063.1 1292.7 1060 1294.8 1057.2 1296.6 1053.7 1298.8 1050.1 1301.2 1047.3 1303.2 1044.5 1305.1 1041.7 1307 M1433.7 1419.3 1435.2 1415.6 1436.7 1412 1438.2 1408.3 1439.7 1404.7 1441.1 1401 1442.6 1397.4 1444 1393.9 1445.4 1390.3 1446.8 1386.7 1448.2 1383 1449.6 1379.3 1451 1375.6 1452.4 1371.8 1453.8 1368.2 1455.1 1364.5 1456.4 1360.9 1457.7 1357.2 1459 1353.6 1460.3 1349.9 1461.6 1346.3 1462.8 1342.6 1464 1339 1465.3 1335.3 1466.5 1331.6 1467.9 1327.3 1469.2 1323.2 1470.4 1319.5 1471.5 1315.9 1472.6 1312.2 1473.7 1308.6 1474.9 1304.6 1476.3 1300.1 1477.3 1296.4 1478.3 1292.7 1479.4 1289.1 1480.6 1284.7 1481.7 1280.6 1482.6 1276.9 1483.6 1273.3 1484.8 1268.6 1485.7 1264.8 1486.6 1261.1 1487.6 1257 1488.6 1252.6 1489.4 1248.9 1490.4 1244.5 1491.3 1240.4 1492 1236.8 1493 1231.9 1493.7 1228.3 1494.6 1223.5 1495.3 1219.7 1496 1215.6 1496.8 1211.2 1497.4 1207.1 1498.1 1202.7 1498.8 1197.8 1499.3 1194.2 1500 1189.3 1500.4 1185.7 1501 1180.8 1501.5 1175.9 1501.8 1172.3 1502.3 1167.4 1502.6 1162.5 1503 1157.7 1503.2 1154 1503.4 1149.2 1503.6 1144.3 1503.7 1139.4 1503.8 1134.6 1503.8 1129.7 1503.7 1124.8 1503.6 1120 1503.4 1115.1 1503.1 1110.2 1502.9 1106.6 1502.5 1101.7 1502 1096.8 1501.6 1093.2 1501 1088.3 1500.3 1083.5 1499.7 1079.8 1498.8 1075.2 1498.1 1071.3 1497.3 1067.6 1496.1 1062.8 1495.2 1059.1 1494.2 1055.5 1493.1 1051.8 1491.8 1047.8 1490.4 1043.7 1489 1039.9 1487.6 1036.3 1486.2 1033 1484.8 1029.9 1483.1 1026.3 1481.2 1022.6 1479.2 1019 1477.8 1016.4 1475.6 1012.9 1473.5 1009.6 1471.6 1006.8 1469.3 1003.7 1467 1000.7 1465 998.3 1462.3 995.2 1459.5 992.2 1457.1 989.8 1454.5 987.3 1451.8 984.9 1448.9 982.5 1445.8 980 1442.6 977.7 1439.8 975.8 1436.9 973.9 1432.7 971.5 1429.9 970 1425.7 967.9 1422.9 966.6 1418.7 964.8 1414.5 963.2 1410.4 961.8 1406.5 960.6 1402 959.3 1397.6 958.3 1393.4 957.4 1389.1 956.6 1383.5 955.8 1379.3 955.3 1373.7 954.9 1368 954.6 1363.8 954.5 1358.2 954.5 1354 954.6 1348.3 954.8 1342.7 955.2 1337.8 955.7 1332.9 956.3 1328.1 956.9 1323 957.7 1318.8 958.4 1313.9 959.3 1309 960.3 1304.7 961.3 1300.5 962.3 1296.3 963.3 1292.1 964.4 1287.9 965.6 1283.6 966.8 1279.4 968.1 1275.2 969.4 1271 970.8 1266.8 972.2 1262.5 973.7 1258.4 975.2 1255.2 976.4 1251.3 977.8 1247.1 979.5 1242.8 981.2 1239.7 982.5 1235.8 984.1 1231.6 985.9 1228.4 987.3 1224.6 989 1220.3 990.9 1217.5 992.2 1213.3 994.2 1210 995.8 1206.3 997.6 1202.5 999.5 1199.2 1001.2 1195.3 1003.1 1192.2 1004.8 1188.4 1006.8 1185.2 1008.5 1181.6 1010.4 1178.1 1012.3 1174.9 1014.1 1171.1 1016.2 1168.3 1017.8 1164.2 1020.2 1161.3 1021.9 1158 1023.8 1154.2 1026.1 1151.4 1027.8 1147.9 1029.9 1144.4 1032.1 1141.6 1033.8 1138 1036 1134.5 1038.2 1131.7 1040 1128.5 1042.1 1124.8 1044.5 1121.9 1046.4 1119.1 1048.3 1115.6 1050.6 1112 1053 1109.2 1054.9 1106.4 1056.8 1103 1059.1 1099.5 1061.6 1096.6 1063.6 1093.7 1065.6 1090.9 1067.6 1087.5 1070.1 1084.1 1072.5 1081.1 1074.7 1078.3 1076.8 1075.5 1078.9 1072.5 1081 1069.3 1083.5 1066 1085.9 1062.8 1088.3 1060 1090.5 1057.2 1092.6 1054.4 1094.8 1051.5 1097 1048.6 1099.3 1045.5 1101.7 1042.5 1104.1 1041.7 1104.7 M1277.6 812.1 1273.8 814 1270.2 815.8 1266.8 817.5 1263.1 819.4 1259.7 821.1 1256.1 823.1 1252.7 824.8 1249.2 826.7 1245.7 828.6 1242.5 830.4 1238.6 832.5 1235.8 834 1231.6 836.4 1228.8 838 1225.1 840.1 1221.7 842 1218.8 843.7 1214.7 846.1 1211.9 847.8 1208.5 849.8 1204.9 852 1202.1 853.7 1198.5 855.9 1195 858 1192.2 859.8 1188.7 862 1185.2 864.2 1182.4 866 1179.1 868.1 1175.3 870.5 1172.5 872.3 1169.7 874.2 1166 876.6 1162.7 878.8 1159.9 880.7 1156.9 882.7 1153.3 885.1 1150 887.3 1147.2 889.3 1144.4 891.2 1140.9 893.6 1137.4 896.1 1134.5 898.1 1131.7 900 1128.7 902.1 1125.3 904.6 1121.9 907 1119.1 909.1 1116.3 911.1 1113.4 913.2 1110.2 915.5 1106.9 918 1103.6 920.4 1100.8 922.5 1098 924.6 1095.2 926.7 1092.3 928.9 1089.1 931.3 1085.9 933.8 1082.7 936.2 1079.7 938.6 1076.9 940.7 1074.1 942.9 1071.2 945.1 1068.4 947.3 1065.6 949.6 1062.5 952 1059.5 954.5 1056.4 956.9 1053.4 959.3 1050.4 961.8 1047.4 964.2 1044.5 966.6 1041.7 968.9 M1546.3 1419.3 1548 1415.6 1549.5 1412.3 1550.9 1409.2 1552.4 1405.9 1554 1402.3 1555.7 1398.6 1557.3 1395 1558.9 1391.3 1560.5 1387.7 1562.1 1384 1563.6 1380.6 1565 1377.4 1566.4 1374.1 1567.9 1370.6 1569.4 1367 1570.9 1363.3 1572.5 1359.7 1574 1356 1575.5 1352.4 1577 1348.7 1578.5 1345.1 1580 1341.4 1581.4 1337.8 1582.9 1334.1 1584.4 1330.5 1585.8 1326.8 1587.2 1323.2 1588.6 1319.5 1590.1 1315.9 1591.5 1312.2 1592.8 1308.6 1594.2 1304.9 1595.6 1301.3 1596.9 1297.6 1598.3 1294 1599.6 1290.3 1601 1286.7 1602.3 1283 1603.6 1279.4 1604.9 1275.7 1606.1 1272.1 1607.4 1268.4 1608.7 1264.8 1610 1261 1611.4 1256.8 1612.8 1252.6 1614 1248.9 1615.2 1245.3 1616.4 1241.6 1617.6 1238 1618.7 1234.3 1619.9 1230.7 1621.2 1226.4 1622.5 1222.2 1623.6 1218.5 1624.7 1214.9 1625.8 1211.2 1626.9 1207.6 1628.3 1202.9 1629.4 1199.1 1630.4 1195.4 1631.4 1191.8 1632.5 1187.9 1633.7 1183.2 1634.7 1179.6 1635.7 1175.9 1636.7 1172 1637.9 1167.4 1638.8 1163.8 1639.7 1160.1 1640.9 1155.2 1641.8 1151.6 1642.6 1147.9 1643.7 1143.1 1644.6 1139.4 1645.4 1135.8 1646.4 1130.9 1647.2 1127.3 1648 1123.6 1648.9 1118.7 1649.7 1115.1 1650.6 1110.2 1651.3 1106.6 1652.2 1101.8 1652.8 1098.1 1653.6 1093.7 1654.3 1089.5 1655 1085.1 1655.6 1081 1656.3 1076.2 1656.9 1072.5 1657.5 1067.6 1658 1064 1658.6 1059.1 1659.2 1054.4 1659.6 1050.6 1660.1 1045.7 1660.6 1041.1 1661 1037.2 1661.4 1032.3 1661.8 1027.5 1662 1023.8 1662.3 1019 1662.6 1014.1 1662.8 1009.2 1663 1004.4 1663.2 999.5 1663.2 994.6 1663.3 989.8 1663.3 984.9 1663.3 980 1663.2 975.2 1663 970.3 1662.8 965.4 1662.6 960.6 1662.3 955.7 1662 952 1661.6 947.2 1661.1 942.3 1660.6 937.7 1660.1 933.8 1659.5 928.9 1658.9 925.3 1658.2 920.4 1657.5 916.7 1656.6 911.9 1655.9 908.2 1655 903.9 1654 899.7 1653.1 896.1 1652.2 892.4 1650.8 887.5 1649.8 883.9 1648.6 880.2 1647.4 876.6 1646.2 872.9 1644.8 869.3 1643.4 865.6 1642 862 1640.4 858.3 1638.8 854.7 1637.1 851 1635.3 847.4 1633.9 844.7 1632.1 841.3 1630 837.7 1628.3 834.7 1626.3 831.6 1624 828.1 1622.2 825.5 1619.8 822.1 1617.8 819.4 1615.6 816.6 1612.9 813.3 1611.9 812.1 M1100.1 812.1 1097 814.5 1093.9 817 1090.9 819.3 1088.1 821.5 1085.3 823.7 1082.5 825.9 1079.7 828.2 1076.9 830.4 1073.9 832.8 1070.9 835.2 1067.8 837.7 1064.8 840.1 1061.8 842.5 1058.9 845 1055.9 847.4 1053 849.8 1050.1 852.1 1047.3 854.4 1044.5 856.8 1041.7 859.1 M1636.3 1419.3 1638 1415.6 1639.5 1412.6 1640.9 1409.6 1642.7 1405.9 1644.4 1402.3 1646.1 1398.6 1647.8 1395 1649.4 1391.7 1650.8 1388.7 1652.4 1385.2 1654 1381.6 1655.7 1377.9 1657.4 1374.3 1659 1370.6 1660.6 1367.1 1662 1364 1663.4 1360.9 1665 1357.2 1666.7 1353.6 1668.3 1349.9 1669.9 1346.3 1671.5 1342.6 1673.1 1339 1674.7 1335.3 1676.1 1332 1677.5 1328.7 1678.9 1325.5 1680.4 1322 1681.9 1318.3 1683.5 1314.7 1685 1311 1686.5 1307.4 1688 1303.7 1689.5 1300.1 1691 1296.4 1692.5 1292.7 1694 1289.1 1695.4 1285.4 1696.9 1281.8 1698.4 1278.1 1699.8 1274.5 1701.2 1270.8 1702.7 1267.2 1704.1 1263.5 1705.5 1259.9 1706.9 1256.2 1708.3 1252.6 1709.7 1248.9 1711 1245.3 1712.4 1241.6 1713.8 1238 1715.1 1234.3 1716.4 1230.7 1717.8 1227 1719.1 1223.4 1720.4 1219.7 1721.7 1216.1 1723 1212.4 1724.3 1208.8 1725.6 1205.1 1726.8 1201.5 1728.1 1197.7 1729.5 1193.6 1730.9 1189.4 1732.2 1185.7 1733.4 1182 1734.6 1178.4 1735.8 1174.7 1737 1171.1 1738.2 1167.4 1739.4 1163.6 1740.8 1159.2 1742 1155.2 1743.1 1151.6 1743.6 1150.1 M1713.5 1419.3 1715.3 1415.6 1716.9 1412.4 1718.3 1409.6 1720.1 1405.9 1721.8 1402.3 1723.6 1398.6 1725.3 1395.1 1726.7 1392.2 1728.3 1388.9 1730.1 1385.2 1731.8 1381.6 1733.5 1377.9 1735.2 1374.5 1736.6 1371.5 1738.1 1368.2 1739.8 1364.5 1741.5 1360.9 1743.2 1357.2 1743.6 1356.4" fill="none" stroke="#000" stroke-width="1.3"/>
</g>
<rect x="1057.3" y="818.1" width="24.5" height="17" fill="#fff" stroke="#111" stroke-width="1.4"/>
<text x="1069.6" y="831.3" class="tk" font-size="13" text-anchor="middle" textLength="15.5" lengthAdjust="spacingAndGlyphs">94</text>
<rect x="1143" y="866.4" width="24.5" height="17" fill="#fff" stroke="#111" stroke-width="1.4"/>
<text x="1155.3" y="879.6" class="tk" font-size="13" text-anchor="middle" textLength="15.5" lengthAdjust="spacingAndGlyphs">92</text>
<rect x="1432.3" y="962.5" width="24.5" height="17" fill="#fff" stroke="#111" stroke-width="1.4"/>
<text x="1444.6" y="975.7" class="tk" font-size="13" text-anchor="middle" textLength="15.5" lengthAdjust="spacingAndGlyphs">90</text>
<rect x="1206.8" y="1235.8" width="24.5" height="17" fill="#fff" stroke="#111" stroke-width="1.4"/>
<text x="1219" y="1249" class="tk" font-size="13" text-anchor="middle" textLength="15.5" lengthAdjust="spacingAndGlyphs">88</text>
<rect x="1635.3" y="1114.4" width="24.5" height="17" fill="#fff" stroke="#111" stroke-width="1.4"/>
<text x="1647.6" y="1127.6" class="tk" font-size="13" text-anchor="middle" textLength="15.5" lengthAdjust="spacingAndGlyphs">92</text>
<rect x="1682.5" y="1274.1" width="24.5" height="17" fill="#fff" stroke="#111" stroke-width="1.4"/>
<text x="1694.7" y="1287.3" class="tk" font-size="13" text-anchor="middle" textLength="15.5" lengthAdjust="spacingAndGlyphs">94</text>
<rect x="1717.7" y="1372.8" width="24.5" height="17" fill="#fff" stroke="#111" stroke-width="1.4"/>
<text x="1729.9" y="1386" class="tk" font-size="13" text-anchor="middle" textLength="15.5" lengthAdjust="spacingAndGlyphs">96</text>
<rect x="1041.7" y="812.1" width="701.9" height="607.2" fill="none" stroke="#111" stroke-width="1.6"/>
<text x="1017.6" y="816.7" class="tk" font-size="12.6" text-anchor="end" textLength="22.8" lengthAdjust="spacingAndGlyphs">200</text>
<text x="1017.6" y="938.1" class="tk" font-size="12.6" text-anchor="end" textLength="22.8" lengthAdjust="spacingAndGlyphs">180</text>
<text x="1017.6" y="1059.6" class="tk" font-size="12.6" text-anchor="end" textLength="22.8" lengthAdjust="spacingAndGlyphs">160</text>
<text x="1017.6" y="1181" class="tk" font-size="12.6" text-anchor="end" textLength="22.8" lengthAdjust="spacingAndGlyphs">140</text>
<text x="1017.6" y="1302.5" class="tk" font-size="12.6" text-anchor="end" textLength="22.8" lengthAdjust="spacingAndGlyphs">120</text>
<text x="1017.6" y="1423.9" class="tk" font-size="12.6" text-anchor="end" textLength="22.8" lengthAdjust="spacingAndGlyphs">100</text>
<text x="1041.7" y="1452.1" class="tk" font-size="12.6" text-anchor="middle" textLength="15.2" lengthAdjust="spacingAndGlyphs">40</text>
<text x="1217.2" y="1452.1" class="tk" font-size="12.6" text-anchor="middle" textLength="15.2" lengthAdjust="spacingAndGlyphs">50</text>
<text x="1392.7" y="1452.1" class="tk" font-size="12.6" text-anchor="middle" textLength="15.2" lengthAdjust="spacingAndGlyphs">60</text>
<text x="1568.1" y="1452.1" class="tk" font-size="12.6" text-anchor="middle" textLength="15.2" lengthAdjust="spacingAndGlyphs">70</text>
<text x="1743.6" y="1452.1" class="tk" font-size="12.6" text-anchor="middle" textLength="15.2" lengthAdjust="spacingAndGlyphs">80</text>
<path d="M1024.7 812.1H1041.7M1024.7 933.5H1041.7M1024.7 1055H1041.7M1024.7 1176.4H1041.7M1024.7 1297.9H1041.7M1024.7 1419.3H1041.7M1041.7 1419.3V1434.3M1217.2 1419.3V1434.3M1392.7 1419.3V1434.3M1568.1 1419.3V1434.3M1743.6 1419.3V1434.3" stroke="#222" stroke-width="1.7" fill="none"/>
<ellipse cx="1392.7" cy="1115.7" rx="7.7" ry="6.5" fill="#c00000" stroke="#000" stroke-width="1.5"/>
<text x="1380.7" y="1120.3" class="tk" font-size="12.6" text-anchor="end" textLength="7.6" lengthAdjust="spacingAndGlyphs">6</text>
<clipPath id="kf"><rect x="1055.2" y="1592.2" width="702.6" height="601.1"/></clipPath>
<defs><linearGradient id="f0"><stop offset="0%" stop-color="#a2ff00"/><stop offset="12.5%" stop-color="#9dff00"/><stop offset="25%" stop-color="#9dff00"/><stop offset="37.5%" stop-color="#a2ff00"/><stop offset="50%" stop-color="#acff00"/><stop offset="62.5%" stop-color="#bcff00"/><stop offset="75%" stop-color="#d0ff00"/><stop offset="87.5%" stop-color="#e9ff00"/><stop offset="100%" stop-color="#fff700"/></linearGradient><linearGradient id="f1"><stop offset="0%" stop-color="#aaff00"/><stop offset="12.5%" stop-color="#a5ff00"/><stop offset="25%" stop-color="#a5ff00"/><stop offset="37.5%" stop-color="#aaff00"/><stop offset="50%" stop-color="#b4ff00"/><stop offset="62.5%" stop-color="#c3ff00"/><stop offset="75%" stop-color="#d7ff00"/><stop offset="87.5%" stop-color="#f0ff00"/><stop offset="100%" stop-color="#fff000"/></linearGradient><linearGradient id="f2"><stop offset="0%" stop-color="#b2ff00"/><stop offset="12.5%" stop-color="#acff00"/><stop offset="25%" stop-color="#acff00"/><stop offset="37.5%" stop-color="#b1ff00"/><stop offset="50%" stop-color="#bbff00"/><stop offset="62.5%" stop-color="#caff00"/><stop offset="75%" stop-color="#deff00"/><stop offset="87.5%" stop-color="#f7ff00"/><stop offset="100%" stop-color="#ffe900"/></linearGradient><linearGradient id="f3"><stop offset="0%" stop-color="#b9ff00"/><stop offset="12.5%" stop-color="#b4ff00"/><stop offset="25%" stop-color="#b3ff00"/><stop offset="37.5%" stop-color="#b8ff00"/><stop offset="50%" stop-color="#c2ff00"/><stop offset="62.5%" stop-color="#d0ff00"/><stop offset="75%" stop-color="#e4ff00"/><stop offset="87.5%" stop-color="#fdff00"/><stop offset="100%" stop-color="#ffe300"/></linearGradient><linearGradient id="f4"><stop offset="0%" stop-color="#c0ff00"/><stop offset="12.5%" stop-color="#bbff00"/><stop offset="25%" stop-color="#baff00"/><stop offset="37.5%" stop-color="#bfff00"/><stop offset="50%" stop-color="#c8ff00"/><stop offset="62.5%" stop-color="#d7ff00"/><stop offset="75%" stop-color="#ebff00"/><stop offset="87.5%" stop-color="#fffb00"/><stop offset="100%" stop-color="#ffdd00"/></linearGradient><linearGradient id="f5"><stop offset="0%" stop-color="#c7ff00"/><stop offset="12.5%" stop-color="#c2ff00"/><stop offset="25%" stop-color="#c1ff00"/><stop offset="37.5%" stop-color="#c6ff00"/><stop offset="50%" stop-color="#cfff00"/><stop offset="62.5%" stop-color="#deff00"/><stop offset="75%" stop-color="#f1ff00"/><stop offset="87.5%" stop-color="#fff400"/><stop offset="100%" stop-color="#ffd700"/></linearGradient><linearGradient id="f6"><stop offset="0%" stop-color="#ceff00"/><stop offset="12.5%" stop-color="#c9ff00"/><stop offset="25%" stop-color="#c8ff00"/><stop offset="37.5%" stop-color="#ccff00"/><stop offset="50%" stop-color="#d6ff00"/><stop offset="62.5%" stop-color="#e4ff00"/><stop offset="75%" stop-color="#f7ff00"/><stop offset="87.5%" stop-color="#ffee00"/><stop offset="100%" stop-color="#ffd100"/></linearGradient><linearGradient id="f7"><stop offset="0%" stop-color="#d5ff00"/><stop offset="12.5%" stop-color="#cfff00"/><stop offset="25%" stop-color="#ceff00"/><stop offset="37.5%" stop-color="#d3ff00"/><stop offset="50%" stop-color="#dcff00"/><stop offset="62.5%" stop-color="#eaff00"/><stop offset="75%" stop-color="#fdff00"/><stop offset="87.5%" stop-color="#ffe800"/><stop offset="100%" stop-color="#ffcb00"/></linearGradient><linearGradient id="f8"><stop offset="0%" stop-color="#dcff00"/><stop offset="12.5%" stop-color="#d6ff00"/><stop offset="25%" stop-color="#d5ff00"/><stop offset="37.5%" stop-color="#d9ff00"/><stop offset="50%" stop-color="#e2ff00"/><stop offset="62.5%" stop-color="#f0ff00"/><stop offset="75%" stop-color="#fffb00"/><stop offset="87.5%" stop-color="#ffe200"/><stop offset="100%" stop-color="#ffc500"/></linearGradient><linearGradient id="f9"><stop offset="0%" stop-color="#e2ff00"/><stop offset="12.5%" stop-color="#dcff00"/><stop offset="25%" stop-color="#dbff00"/><stop offset="37.5%" stop-color="#dfff00"/><stop offset="50%" stop-color="#e8ff00"/><stop offset="62.5%" stop-color="#f6ff00"/><stop offset="75%" stop-color="#fff500"/><stop offset="87.5%" stop-color="#ffdd00"/><stop offset="100%" stop-color="#ffc000"/></linearGradient><linearGradient id="f10"><stop offset="0%" stop-color="#e9ff00"/><stop offset="12.5%" stop-color="#e2ff00"/><stop offset="25%" stop-color="#e1ff00"/><stop offset="37.5%" stop-color="#e5ff00"/><stop offset="50%" stop-color="#eeff00"/><stop offset="62.5%" stop-color="#fcff00"/><stop offset="75%" stop-color="#ffef00"/><stop offset="87.5%" stop-color="#ffd700"/><stop offset="100%" stop-color="#ffba00"/></linearGradient><linearGradient id="f11"><stop offset="0%" stop-color="#efff00"/><stop offset="12.5%" stop-color="#e9ff00"/><stop offset="25%" stop-color="#e7ff00"/><stop offset="37.5%" stop-color="#ebff00"/><stop offset="50%" stop-color="#f4ff00"/><stop offset="62.5%" stop-color="#fffd00"/><stop offset="75%" stop-color="#ffea00"/><stop offset="87.5%" stop-color="#ffd200"/><stop offset="100%" stop-color="#ffb500"/></linearGradient><linearGradient id="f12"><stop offset="0%" stop-color="#f5ff00"/><stop offset="12.5%" stop-color="#efff00"/><stop offset="25%" stop-color="#edff00"/><stop offset="37.5%" stop-color="#f1ff00"/><stop offset="50%" stop-color="#f9ff00"/><stop offset="62.5%" stop-color="#fff700"/><stop offset="75%" stop-color="#ffe400"/><stop offset="87.5%" stop-color="#ffcd00"/><stop offset="100%" stop-color="#ffb000"/></linearGradient><linearGradient id="f13"><stop offset="0%" stop-color="#fbff00"/><stop offset="12.5%" stop-color="#f4ff00"/><stop offset="25%" stop-color="#f3ff00"/><stop offset="37.5%" stop-color="#f6ff00"/><stop offset="50%" stop-color="#ffff00"/><stop offset="62.5%" stop-color="#fff200"/><stop offset="75%" stop-color="#ffdf00"/><stop offset="87.5%" stop-color="#ffc800"/><stop offset="100%" stop-color="#ffab00"/></linearGradient><linearGradient id="f14"><stop offset="0%" stop-color="#fffd00"/><stop offset="12.5%" stop-color="#faff00"/><stop offset="25%" stop-color="#f8ff00"/><stop offset="37.5%" stop-color="#fcff00"/><stop offset="50%" stop-color="#fffa00"/><stop offset="62.5%" stop-color="#ffed00"/><stop offset="75%" stop-color="#ffda00"/><stop offset="87.5%" stop-color="#ffc300"/><stop offset="100%" stop-color="#ffa600"/></linearGradient><linearGradient id="f15"><stop offset="0%" stop-color="#fff800"/><stop offset="12.5%" stop-color="#fffe00"/><stop offset="25%" stop-color="#feff00"/><stop offset="37.5%" stop-color="#fffd00"/><stop offset="50%" stop-color="#fff500"/><stop offset="62.5%" stop-color="#ffe800"/><stop offset="75%" stop-color="#ffd500"/><stop offset="87.5%" stop-color="#ffbe00"/><stop offset="100%" stop-color="#ffa200"/></linearGradient><linearGradient id="f16"><stop offset="0%" stop-color="#fff200"/><stop offset="12.5%" stop-color="#fff900"/><stop offset="25%" stop-color="#fffb00"/><stop offset="37.5%" stop-color="#fff800"/><stop offset="50%" stop-color="#fff000"/><stop offset="62.5%" stop-color="#ffe300"/><stop offset="75%" stop-color="#ffd100"/><stop offset="87.5%" stop-color="#ffb900"/><stop offset="100%" stop-color="#ff9d00"/></linearGradient><linearGradient id="f17"><stop offset="0%" stop-color="#ffed00"/><stop offset="12.5%" stop-color="#fff400"/><stop offset="25%" stop-color="#fff600"/><stop offset="37.5%" stop-color="#fff300"/><stop offset="50%" stop-color="#ffeb00"/><stop offset="62.5%" stop-color="#ffde00"/><stop offset="75%" stop-color="#ffcc00"/><stop offset="87.5%" stop-color="#ffb500"/><stop offset="100%" stop-color="#ff9900"/></linearGradient><linearGradient id="f18"><stop offset="0%" stop-color="#ffe800"/><stop offset="12.5%" stop-color="#ffef00"/><stop offset="25%" stop-color="#fff100"/><stop offset="37.5%" stop-color="#ffee00"/><stop offset="50%" stop-color="#ffe600"/><stop offset="62.5%" stop-color="#ffda00"/><stop offset="75%" stop-color="#ffc800"/><stop offset="87.5%" stop-color="#ffb100"/><stop offset="100%" stop-color="#ff9500"/></linearGradient><linearGradient id="f19"><stop offset="0%" stop-color="#ffe300"/><stop offset="12.5%" stop-color="#ffea00"/><stop offset="25%" stop-color="#ffec00"/><stop offset="37.5%" stop-color="#ffea00"/><stop offset="50%" stop-color="#ffe200"/><stop offset="62.5%" stop-color="#ffd500"/><stop offset="75%" stop-color="#ffc300"/><stop offset="87.5%" stop-color="#ffac00"/><stop offset="100%" stop-color="#ff9100"/></linearGradient><linearGradient id="f20"><stop offset="0%" stop-color="#ffde00"/><stop offset="12.5%" stop-color="#ffe500"/><stop offset="25%" stop-color="#ffe800"/><stop offset="37.5%" stop-color="#ffe500"/><stop offset="50%" stop-color="#ffdd00"/><stop offset="62.5%" stop-color="#ffd100"/><stop offset="75%" stop-color="#ffbf00"/><stop offset="87.5%" stop-color="#ffa800"/><stop offset="100%" stop-color="#ff8d00"/></linearGradient><linearGradient id="f21"><stop offset="0%" stop-color="#ffd900"/><stop offset="12.5%" stop-color="#ffe100"/><stop offset="25%" stop-color="#ffe300"/><stop offset="37.5%" stop-color="#ffe100"/><stop offset="50%" stop-color="#ffd900"/><stop offset="62.5%" stop-color="#ffcd00"/><stop offset="75%" stop-color="#ffbb00"/><stop offset="87.5%" stop-color="#ffa500"/><stop offset="100%" stop-color="#ff8900"/></linearGradient><linearGradient id="f22"><stop offset="0%" stop-color="#ffd400"/><stop offset="12.5%" stop-color="#ffdc00"/><stop offset="25%" stop-color="#ffdf00"/><stop offset="37.5%" stop-color="#ffdc00"/><stop offset="50%" stop-color="#ffd500"/><stop offset="62.5%" stop-color="#ffc900"/><stop offset="75%" stop-color="#ffb700"/><stop offset="87.5%" stop-color="#ffa100"/><stop offset="100%" stop-color="#ff8500"/></linearGradient><linearGradient id="f23"><stop offset="0%" stop-color="#ffd000"/><stop offset="12.5%" stop-color="#ffd800"/><stop offset="25%" stop-color="#ffdb00"/><stop offset="37.5%" stop-color="#ffd800"/><stop offset="50%" stop-color="#ffd100"/><stop offset="62.5%" stop-color="#ffc500"/><stop offset="75%" stop-color="#ffb400"/><stop offset="87.5%" stop-color="#ff9d00"/><stop offset="100%" stop-color="#ff8200"/></linearGradient><linearGradient id="f24"><stop offset="0%" stop-color="#ffcc00"/><stop offset="12.5%" stop-color="#ffd400"/><stop offset="25%" stop-color="#ffd700"/><stop offset="37.5%" stop-color="#ffd400"/><stop offset="50%" stop-color="#ffcd00"/><stop offset="62.5%" stop-color="#ffc100"/><stop offset="75%" stop-color="#ffb000"/><stop offset="87.5%" stop-color="#ff9a00"/><stop offset="100%" stop-color="#ff7f00"/></linearGradient><linearGradient id="f25"><stop offset="0%" stop-color="#ffc700"/><stop offset="12.5%" stop-color="#ffd000"/><stop offset="25%" stop-color="#ffd300"/><stop offset="37.5%" stop-color="#ffd100"/><stop offset="50%" stop-color="#ffca00"/><stop offset="62.5%" stop-color="#ffbe00"/><stop offset="75%" stop-color="#ffad00"/><stop offset="87.5%" stop-color="#ff9700"/><stop offset="100%" stop-color="#ff7b00"/></linearGradient><linearGradient id="f26"><stop offset="0%" stop-color="#ffc300"/><stop offset="12.5%" stop-color="#ffcc00"/><stop offset="25%" stop-color="#ffcf00"/><stop offset="37.5%" stop-color="#ffcd00"/><stop offset="50%" stop-color="#ffc600"/><stop offset="62.5%" stop-color="#ffba00"/><stop offset="75%" stop-color="#ffa900"/><stop offset="87.5%" stop-color="#ff9300"/><stop offset="100%" stop-color="#ff7800"/></linearGradient><linearGradient id="f27"><stop offset="0%" stop-color="#ffc000"/><stop offset="12.5%" stop-color="#ffc800"/><stop offset="25%" stop-color="#ffcb00"/><stop offset="37.5%" stop-color="#ffca00"/><stop offset="50%" stop-color="#ffc300"/><stop offset="62.5%" stop-color="#ffb700"/><stop offset="75%" stop-color="#ffa600"/><stop offset="87.5%" stop-color="#ff9000"/><stop offset="100%" stop-color="#ff7600"/></linearGradient><linearGradient id="f28"><stop offset="0%" stop-color="#ffbc00"/><stop offset="12.5%" stop-color="#ffc400"/><stop offset="25%" stop-color="#ffc800"/><stop offset="37.5%" stop-color="#ffc600"/><stop offset="50%" stop-color="#ffc000"/><stop offset="62.5%" stop-color="#ffb400"/><stop offset="75%" stop-color="#ffa300"/><stop offset="87.5%" stop-color="#ff8e00"/><stop offset="100%" stop-color="#ff7300"/></linearGradient><linearGradient id="f29"><stop offset="0%" stop-color="#ffb800"/><stop offset="12.5%" stop-color="#ffc100"/><stop offset="25%" stop-color="#ffc500"/><stop offset="37.5%" stop-color="#ffc300"/><stop offset="50%" stop-color="#ffbd00"/><stop offset="62.5%" stop-color="#ffb100"/><stop offset="75%" stop-color="#ffa100"/><stop offset="87.5%" stop-color="#ff8b00"/><stop offset="100%" stop-color="#ff7000"/></linearGradient><linearGradient id="f30"><stop offset="0%" stop-color="#ffb500"/><stop offset="12.5%" stop-color="#ffbe00"/><stop offset="25%" stop-color="#ffc100"/><stop offset="37.5%" stop-color="#ffc000"/><stop offset="50%" stop-color="#ffba00"/><stop offset="62.5%" stop-color="#ffae00"/><stop offset="75%" stop-color="#ff9e00"/><stop offset="87.5%" stop-color="#ff8800"/><stop offset="100%" stop-color="#ff6e00"/></linearGradient><linearGradient id="f31"><stop offset="0%" stop-color="#ffb200"/><stop offset="12.5%" stop-color="#ffbb00"/><stop offset="25%" stop-color="#ffbe00"/><stop offset="37.5%" stop-color="#ffbd00"/><stop offset="50%" stop-color="#ffb700"/><stop offset="62.5%" stop-color="#ffac00"/><stop offset="75%" stop-color="#ff9b00"/><stop offset="87.5%" stop-color="#ff8600"/><stop offset="100%" stop-color="#ff6c00"/></linearGradient><linearGradient id="f32"><stop offset="0%" stop-color="#ffaf00"/><stop offset="12.5%" stop-color="#ffb800"/><stop offset="25%" stop-color="#ffbc00"/><stop offset="37.5%" stop-color="#ffba00"/><stop offset="50%" stop-color="#ffb400"/><stop offset="62.5%" stop-color="#ffa900"/><stop offset="75%" stop-color="#ff9900"/><stop offset="87.5%" stop-color="#ff8400"/><stop offset="100%" stop-color="#ff6a00"/></linearGradient><linearGradient id="f33"><stop offset="0%" stop-color="#ffac00"/><stop offset="12.5%" stop-color="#ffb500"/><stop offset="25%" stop-color="#ffb900"/><stop offset="37.5%" stop-color="#ffb800"/><stop offset="50%" stop-color="#ffb200"/><stop offset="62.5%" stop-color="#ffa700"/><stop offset="75%" stop-color="#ff9700"/><stop offset="87.5%" stop-color="#ff8200"/><stop offset="100%" stop-color="#ff6800"/></linearGradient><linearGradient id="f34"><stop offset="0%" stop-color="#ffa900"/><stop offset="12.5%" stop-color="#ffb200"/><stop offset="25%" stop-color="#ffb600"/><stop offset="37.5%" stop-color="#ffb500"/><stop offset="50%" stop-color="#ffb000"/><stop offset="62.5%" stop-color="#ffa500"/><stop offset="75%" stop-color="#ff9500"/><stop offset="87.5%" stop-color="#ff8000"/><stop offset="100%" stop-color="#ff6600"/></linearGradient><linearGradient id="f35"><stop offset="0%" stop-color="#ffa600"/><stop offset="12.5%" stop-color="#ffb000"/><stop offset="25%" stop-color="#ffb400"/><stop offset="37.5%" stop-color="#ffb300"/><stop offset="50%" stop-color="#ffad00"/><stop offset="62.5%" stop-color="#ffa300"/><stop offset="75%" stop-color="#ff9300"/><stop offset="87.5%" stop-color="#ff7e00"/><stop offset="100%" stop-color="#ff6400"/></linearGradient><linearGradient id="f36"><stop offset="0%" stop-color="#ffa400"/><stop offset="12.5%" stop-color="#ffad00"/><stop offset="25%" stop-color="#ffb200"/><stop offset="37.5%" stop-color="#ffb100"/><stop offset="50%" stop-color="#ffab00"/><stop offset="62.5%" stop-color="#ffa100"/><stop offset="75%" stop-color="#ff9100"/><stop offset="87.5%" stop-color="#ff7c00"/><stop offset="100%" stop-color="#ff6300"/></linearGradient><linearGradient id="f37"><stop offset="0%" stop-color="#ffa100"/><stop offset="12.5%" stop-color="#ffab00"/><stop offset="25%" stop-color="#ffb000"/><stop offset="37.5%" stop-color="#ffaf00"/><stop offset="50%" stop-color="#ffaa00"/><stop offset="62.5%" stop-color="#ff9f00"/><stop offset="75%" stop-color="#ff9000"/><stop offset="87.5%" stop-color="#ff7b00"/><stop offset="100%" stop-color="#ff6100"/></linearGradient><linearGradient id="f38"><stop offset="0%" stop-color="#ff9f00"/><stop offset="12.5%" stop-color="#ffa900"/><stop offset="25%" stop-color="#ffae00"/><stop offset="37.5%" stop-color="#ffad00"/><stop offset="50%" stop-color="#ffa800"/><stop offset="62.5%" stop-color="#ff9d00"/><stop offset="75%" stop-color="#ff8e00"/><stop offset="87.5%" stop-color="#ff7a00"/><stop offset="100%" stop-color="#ff6000"/></linearGradient><linearGradient id="f39"><stop offset="0%" stop-color="#ff9d00"/><stop offset="12.5%" stop-color="#ffa700"/><stop offset="25%" stop-color="#ffac00"/><stop offset="37.5%" stop-color="#ffac00"/><stop offset="50%" stop-color="#ffa600"/><stop offset="62.5%" stop-color="#ff9c00"/><stop offset="75%" stop-color="#ff8d00"/><stop offset="87.5%" stop-color="#ff7800"/><stop offset="100%" stop-color="#ff5f00"/></linearGradient><linearGradient id="f40"><stop offset="0%" stop-color="#ff9b00"/><stop offset="12.5%" stop-color="#ffa500"/><stop offset="25%" stop-color="#ffaa00"/><stop offset="37.5%" stop-color="#ffaa00"/><stop offset="50%" stop-color="#ffa500"/><stop offset="62.5%" stop-color="#ff9b00"/><stop offset="75%" stop-color="#ff8c00"/><stop offset="87.5%" stop-color="#ff7700"/><stop offset="100%" stop-color="#ff5e00"/></linearGradient><linearGradient id="f41"><stop offset="0%" stop-color="#ff9900"/><stop offset="12.5%" stop-color="#ffa300"/><stop offset="25%" stop-color="#ffa900"/><stop offset="37.5%" stop-color="#ffa900"/><stop offset="50%" stop-color="#ffa400"/><stop offset="62.5%" stop-color="#ff9a00"/><stop offset="75%" stop-color="#ff8b00"/><stop offset="87.5%" stop-color="#ff7700"/><stop offset="100%" stop-color="#ff5d00"/></linearGradient><linearGradient id="f42"><stop offset="0%" stop-color="#ff9800"/><stop offset="12.5%" stop-color="#ffa200"/><stop offset="25%" stop-color="#ffa700"/><stop offset="37.5%" stop-color="#ffa700"/><stop offset="50%" stop-color="#ffa300"/><stop offset="62.5%" stop-color="#ff9900"/><stop offset="75%" stop-color="#ff8a00"/><stop offset="87.5%" stop-color="#ff7600"/><stop offset="100%" stop-color="#ff5d00"/></linearGradient><linearGradient id="f43"><stop offset="0%" stop-color="#ff9600"/><stop offset="12.5%" stop-color="#ffa100"/><stop offset="25%" stop-color="#ffa600"/><stop offset="37.5%" stop-color="#ffa600"/><stop offset="50%" stop-color="#ffa200"/><stop offset="62.5%" stop-color="#ff9800"/><stop offset="75%" stop-color="#ff8900"/><stop offset="87.5%" stop-color="#ff7500"/><stop offset="100%" stop-color="#ff5c00"/></linearGradient><linearGradient id="f44"><stop offset="0%" stop-color="#ff9500"/><stop offset="12.5%" stop-color="#ff9f00"/><stop offset="25%" stop-color="#ffa500"/><stop offset="37.5%" stop-color="#ffa500"/><stop offset="50%" stop-color="#ffa100"/><stop offset="62.5%" stop-color="#ff9700"/><stop offset="75%" stop-color="#ff8800"/><stop offset="87.5%" stop-color="#ff7500"/><stop offset="100%" stop-color="#ff5c00"/></linearGradient><linearGradient id="f45"><stop offset="0%" stop-color="#ff9400"/><stop offset="12.5%" stop-color="#ff9e00"/><stop offset="25%" stop-color="#ffa400"/><stop offset="37.5%" stop-color="#ffa500"/><stop offset="50%" stop-color="#ffa000"/><stop offset="62.5%" stop-color="#ff9700"/><stop offset="75%" stop-color="#ff8800"/><stop offset="87.5%" stop-color="#ff7400"/><stop offset="100%" stop-color="#ff5c00"/></linearGradient><linearGradient id="f46"><stop offset="0%" stop-color="#ff9300"/><stop offset="12.5%" stop-color="#ff9d00"/><stop offset="25%" stop-color="#ffa300"/><stop offset="37.5%" stop-color="#ffa400"/><stop offset="50%" stop-color="#ffa000"/><stop offset="62.5%" stop-color="#ff9600"/><stop offset="75%" stop-color="#ff8800"/><stop offset="87.5%" stop-color="#ff7400"/><stop offset="100%" stop-color="#ff5c00"/></linearGradient><linearGradient id="f47"><stop offset="0%" stop-color="#ff9200"/><stop offset="12.5%" stop-color="#ff9d00"/><stop offset="25%" stop-color="#ffa300"/><stop offset="37.5%" stop-color="#ffa300"/><stop offset="50%" stop-color="#ff9f00"/><stop offset="62.5%" stop-color="#ff9600"/><stop offset="75%" stop-color="#ff8800"/><stop offset="87.5%" stop-color="#ff7400"/><stop offset="100%" stop-color="#ff5c00"/></linearGradient><linearGradient id="f48"><stop offset="0%" stop-color="#ff9100"/><stop offset="12.5%" stop-color="#ff9c00"/><stop offset="25%" stop-color="#ffa200"/><stop offset="37.5%" stop-color="#ffa300"/><stop offset="50%" stop-color="#ff9f00"/><stop offset="62.5%" stop-color="#ff9600"/><stop offset="75%" stop-color="#ff8800"/><stop offset="87.5%" stop-color="#ff7400"/><stop offset="100%" stop-color="#ff5c00"/></linearGradient><linearGradient id="f49"><stop offset="0%" stop-color="#ff9100"/><stop offset="12.5%" stop-color="#ff9c00"/><stop offset="25%" stop-color="#ffa200"/><stop offset="37.5%" stop-color="#ffa300"/><stop offset="50%" stop-color="#ff9f00"/><stop offset="62.5%" stop-color="#ff9600"/><stop offset="75%" stop-color="#ff8800"/><stop offset="87.5%" stop-color="#ff7500"/><stop offset="100%" stop-color="#ff5d00"/></linearGradient><linearGradient id="f50"><stop offset="0%" stop-color="#ff9000"/><stop offset="12.5%" stop-color="#ff9b00"/><stop offset="25%" stop-color="#ffa200"/><stop offset="37.5%" stop-color="#ffa300"/><stop offset="50%" stop-color="#ff9f00"/><stop offset="62.5%" stop-color="#ff9600"/><stop offset="75%" stop-color="#ff8800"/><stop offset="87.5%" stop-color="#ff7500"/><stop offset="100%" stop-color="#ff5d00"/></linearGradient><linearGradient id="f51"><stop offset="0%" stop-color="#ff9000"/><stop offset="12.5%" stop-color="#ff9b00"/><stop offset="25%" stop-color="#ffa200"/><stop offset="37.5%" stop-color="#ffa300"/><stop offset="50%" stop-color="#ff9f00"/><stop offset="62.5%" stop-color="#ff9600"/><stop offset="75%" stop-color="#ff8900"/><stop offset="87.5%" stop-color="#ff7600"/><stop offset="100%" stop-color="#ff5e00"/></linearGradient><linearGradient id="f52"><stop offset="0%" stop-color="#ff9000"/><stop offset="12.5%" stop-color="#ff9b00"/><stop offset="25%" stop-color="#ffa200"/><stop offset="37.5%" stop-color="#ffa300"/><stop offset="50%" stop-color="#ffa000"/><stop offset="62.5%" stop-color="#ff9700"/><stop offset="75%" stop-color="#ff8900"/><stop offset="87.5%" stop-color="#ff7700"/><stop offset="100%" stop-color="#ff5f00"/></linearGradient><linearGradient id="f53"><stop offset="0%" stop-color="#ff9000"/><stop offset="12.5%" stop-color="#ff9b00"/><stop offset="25%" stop-color="#ffa200"/><stop offset="37.5%" stop-color="#ffa400"/><stop offset="50%" stop-color="#ffa000"/><stop offset="62.5%" stop-color="#ff9800"/><stop offset="75%" stop-color="#ff8a00"/><stop offset="87.5%" stop-color="#ff7700"/><stop offset="100%" stop-color="#ff6000"/></linearGradient><linearGradient id="f54"><stop offset="0%" stop-color="#ff9000"/><stop offset="12.5%" stop-color="#ff9c00"/><stop offset="25%" stop-color="#ffa200"/><stop offset="37.5%" stop-color="#ffa400"/><stop offset="50%" stop-color="#ffa100"/><stop offset="62.5%" stop-color="#ff9800"/><stop offset="75%" stop-color="#ff8b00"/><stop offset="87.5%" stop-color="#ff7800"/><stop offset="100%" stop-color="#ff6100"/></linearGradient><linearGradient id="f55"><stop offset="0%" stop-color="#ff9000"/><stop offset="12.5%" stop-color="#ff9c00"/><stop offset="25%" stop-color="#ffa300"/><stop offset="37.5%" stop-color="#ffa500"/><stop offset="50%" stop-color="#ffa200"/><stop offset="62.5%" stop-color="#ff9900"/><stop offset="75%" stop-color="#ff8c00"/><stop offset="87.5%" stop-color="#ff7a00"/><stop offset="100%" stop-color="#ff6200"/></linearGradient><linearGradient id="f56"><stop offset="0%" stop-color="#ff9100"/><stop offset="12.5%" stop-color="#ff9d00"/><stop offset="25%" stop-color="#ffa400"/><stop offset="37.5%" stop-color="#ffa600"/><stop offset="50%" stop-color="#ffa300"/><stop offset="62.5%" stop-color="#ff9a00"/><stop offset="75%" stop-color="#ff8d00"/><stop offset="87.5%" stop-color="#ff7b00"/><stop offset="100%" stop-color="#ff6400"/></linearGradient><linearGradient id="f57"><stop offset="0%" stop-color="#ff9100"/><stop offset="12.5%" stop-color="#ff9d00"/><stop offset="25%" stop-color="#ffa500"/><stop offset="37.5%" stop-color="#ffa700"/><stop offset="50%" stop-color="#ffa400"/><stop offset="62.5%" stop-color="#ff9c00"/><stop offset="75%" stop-color="#ff8f00"/><stop offset="87.5%" stop-color="#ff7d00"/><stop offset="100%" stop-color="#ff6500"/></linearGradient><linearGradient id="f58"><stop offset="0%" stop-color="#ff9200"/><stop offset="12.5%" stop-color="#ff9e00"/><stop offset="25%" stop-color="#ffa600"/><stop offset="37.5%" stop-color="#ffa800"/><stop offset="50%" stop-color="#ffa500"/><stop offset="62.5%" stop-color="#ff9d00"/><stop offset="75%" stop-color="#ff9000"/><stop offset="87.5%" stop-color="#ff7e00"/><stop offset="100%" stop-color="#ff6700"/></linearGradient><linearGradient id="f59"><stop offset="0%" stop-color="#ff9300"/><stop offset="12.5%" stop-color="#ff9f00"/><stop offset="25%" stop-color="#ffa700"/><stop offset="37.5%" stop-color="#ffa900"/><stop offset="50%" stop-color="#ffa600"/><stop offset="62.5%" stop-color="#ff9f00"/><stop offset="75%" stop-color="#ff9200"/><stop offset="87.5%" stop-color="#ff8000"/><stop offset="100%" stop-color="#ff6900"/></linearGradient><linearGradient id="f60"><stop offset="0%" stop-color="#ff9400"/><stop offset="12.5%" stop-color="#ffa100"/><stop offset="25%" stop-color="#ffa800"/><stop offset="37.5%" stop-color="#ffaa00"/><stop offset="50%" stop-color="#ffa800"/><stop offset="62.5%" stop-color="#ffa000"/><stop offset="75%" stop-color="#ff9400"/><stop offset="87.5%" stop-color="#ff8200"/><stop offset="100%" stop-color="#ff6b00"/></linearGradient><linearGradient id="f61"><stop offset="0%" stop-color="#ff9500"/><stop offset="12.5%" stop-color="#ffa200"/><stop offset="25%" stop-color="#ffa900"/><stop offset="37.5%" stop-color="#ffac00"/><stop offset="50%" stop-color="#ffaa00"/><stop offset="62.5%" stop-color="#ffa200"/><stop offset="75%" stop-color="#ff9600"/><stop offset="87.5%" stop-color="#ff8400"/><stop offset="100%" stop-color="#ff6d00"/></linearGradient><linearGradient id="f62"><stop offset="0%" stop-color="#ff9700"/><stop offset="12.5%" stop-color="#ffa300"/><stop offset="25%" stop-color="#ffab00"/><stop offset="37.5%" stop-color="#ffae00"/><stop offset="50%" stop-color="#ffab00"/><stop offset="62.5%" stop-color="#ffa400"/><stop offset="75%" stop-color="#ff9800"/><stop offset="87.5%" stop-color="#ff8600"/><stop offset="100%" stop-color="#ff7000"/></linearGradient><linearGradient id="f63"><stop offset="0%" stop-color="#ff9800"/><stop offset="12.5%" stop-color="#ffa500"/><stop offset="25%" stop-color="#ffad00"/><stop offset="37.5%" stop-color="#ffb000"/><stop offset="50%" stop-color="#ffad00"/><stop offset="62.5%" stop-color="#ffa600"/><stop offset="75%" stop-color="#ff9a00"/><stop offset="87.5%" stop-color="#ff8900"/><stop offset="100%" stop-color="#ff7200"/></linearGradient><linearGradient id="f64"><stop offset="0%" stop-color="#ff9a00"/><stop offset="12.5%" stop-color="#ffa700"/><stop offset="25%" stop-color="#ffaf00"/><stop offset="37.5%" stop-color="#ffb200"/><stop offset="50%" stop-color="#ffb000"/><stop offset="62.5%" stop-color="#ffa800"/><stop offset="75%" stop-color="#ff9c00"/><stop offset="87.5%" stop-color="#ff8b00"/><stop offset="100%" stop-color="#ff7500"/></linearGradient><linearGradient id="f65"><stop offset="0%" stop-color="#ff9c00"/><stop offset="12.5%" stop-color="#ffa900"/><stop offset="25%" stop-color="#ffb100"/><stop offset="37.5%" stop-color="#ffb400"/><stop offset="50%" stop-color="#ffb200"/><stop offset="62.5%" stop-color="#ffab00"/><stop offset="75%" stop-color="#ff9f00"/><stop offset="87.5%" stop-color="#ff8e00"/><stop offset="100%" stop-color="#ff7800"/></linearGradient><linearGradient id="f66"><stop offset="0%" stop-color="#ff9d00"/><stop offset="12.5%" stop-color="#ffab00"/><stop offset="25%" stop-color="#ffb300"/><stop offset="37.5%" stop-color="#ffb600"/><stop offset="50%" stop-color="#ffb400"/><stop offset="62.5%" stop-color="#ffae00"/><stop offset="75%" stop-color="#ffa200"/><stop offset="87.5%" stop-color="#ff9100"/><stop offset="100%" stop-color="#ff7b00"/></linearGradient><linearGradient id="f67"><stop offset="0%" stop-color="#ffa000"/><stop offset="12.5%" stop-color="#ffad00"/><stop offset="25%" stop-color="#ffb500"/><stop offset="37.5%" stop-color="#ffb900"/><stop offset="50%" stop-color="#ffb700"/><stop offset="62.5%" stop-color="#ffb000"/><stop offset="75%" stop-color="#ffa400"/><stop offset="87.5%" stop-color="#ff9400"/><stop offset="100%" stop-color="#ff7e00"/></linearGradient><linearGradient id="f68"><stop offset="0%" stop-color="#ffa200"/><stop offset="12.5%" stop-color="#ffaf00"/><stop offset="25%" stop-color="#ffb800"/><stop offset="37.5%" stop-color="#ffbb00"/><stop offset="50%" stop-color="#ffba00"/><stop offset="62.5%" stop-color="#ffb300"/><stop offset="75%" stop-color="#ffa700"/><stop offset="87.5%" stop-color="#ff9700"/><stop offset="100%" stop-color="#ff8100"/></linearGradient><linearGradient id="f69"><stop offset="0%" stop-color="#ffa400"/><stop offset="12.5%" stop-color="#ffb200"/><stop offset="25%" stop-color="#ffbb00"/><stop offset="37.5%" stop-color="#ffbe00"/><stop offset="50%" stop-color="#ffbd00"/><stop offset="62.5%" stop-color="#ffb600"/><stop offset="75%" stop-color="#ffab00"/><stop offset="87.5%" stop-color="#ff9a00"/><stop offset="100%" stop-color="#ff8400"/></linearGradient><linearGradient id="f70"><stop offset="0%" stop-color="#ffa700"/><stop offset="12.5%" stop-color="#ffb500"/><stop offset="25%" stop-color="#ffbd00"/><stop offset="37.5%" stop-color="#ffc100"/><stop offset="50%" stop-color="#ffc000"/><stop offset="62.5%" stop-color="#ffb900"/><stop offset="75%" stop-color="#ffae00"/><stop offset="87.5%" stop-color="#ff9d00"/><stop offset="100%" stop-color="#ff8800"/></linearGradient><linearGradient id="f71"><stop offset="0%" stop-color="#ffa900"/><stop offset="12.5%" stop-color="#ffb700"/><stop offset="25%" stop-color="#ffc000"/><stop offset="37.5%" stop-color="#ffc400"/><stop offset="50%" stop-color="#ffc300"/><stop offset="62.5%" stop-color="#ffbd00"/><stop offset="75%" stop-color="#ffb100"/><stop offset="87.5%" stop-color="#ffa100"/><stop offset="100%" stop-color="#ff8c00"/></linearGradient><linearGradient id="f72"><stop offset="0%" stop-color="#ffac00"/><stop offset="12.5%" stop-color="#ffba00"/><stop offset="25%" stop-color="#ffc300"/><stop offset="37.5%" stop-color="#ffc700"/><stop offset="50%" stop-color="#ffc600"/><stop offset="62.5%" stop-color="#ffc000"/><stop offset="75%" stop-color="#ffb500"/><stop offset="87.5%" stop-color="#ffa500"/><stop offset="100%" stop-color="#ff9000"/></linearGradient><linearGradient id="f73"><stop offset="0%" stop-color="#ffaf00"/><stop offset="12.5%" stop-color="#ffbd00"/><stop offset="25%" stop-color="#ffc700"/><stop offset="37.5%" stop-color="#ffcb00"/><stop offset="50%" stop-color="#ffca00"/><stop offset="62.5%" stop-color="#ffc400"/><stop offset="75%" stop-color="#ffb900"/><stop offset="87.5%" stop-color="#ffa900"/><stop offset="100%" stop-color="#ff9400"/></linearGradient><linearGradient id="f74"><stop offset="0%" stop-color="#ffb200"/><stop offset="12.5%" stop-color="#ffc100"/><stop offset="25%" stop-color="#ffca00"/><stop offset="37.5%" stop-color="#ffce00"/><stop offset="50%" stop-color="#ffcd00"/><stop offset="62.5%" stop-color="#ffc800"/><stop offset="75%" stop-color="#ffbd00"/><stop offset="87.5%" stop-color="#ffad00"/><stop offset="100%" stop-color="#ff9800"/></linearGradient><linearGradient id="f75"><stop offset="0%" stop-color="#ffb600"/><stop offset="12.5%" stop-color="#ffc400"/><stop offset="25%" stop-color="#ffce00"/><stop offset="37.5%" stop-color="#ffd200"/><stop offset="50%" stop-color="#ffd100"/><stop offset="62.5%" stop-color="#ffcb00"/><stop offset="75%" stop-color="#ffc100"/><stop offset="87.5%" stop-color="#ffb100"/><stop offset="100%" stop-color="#ff9c00"/></linearGradient><linearGradient id="f76"><stop offset="0%" stop-color="#ffb900"/><stop offset="12.5%" stop-color="#ffc800"/><stop offset="25%" stop-color="#ffd100"/><stop offset="37.5%" stop-color="#ffd600"/><stop offset="50%" stop-color="#ffd500"/><stop offset="62.5%" stop-color="#ffcf00"/><stop offset="75%" stop-color="#ffc500"/><stop offset="87.5%" stop-color="#ffb500"/><stop offset="100%" stop-color="#ffa000"/></linearGradient><linearGradient id="f77"><stop offset="0%" stop-color="#ffbd00"/><stop offset="12.5%" stop-color="#ffcb00"/><stop offset="25%" stop-color="#ffd500"/><stop offset="37.5%" stop-color="#ffda00"/><stop offset="50%" stop-color="#ffd900"/><stop offset="62.5%" stop-color="#ffd400"/><stop offset="75%" stop-color="#ffc900"/><stop offset="87.5%" stop-color="#ffba00"/><stop offset="100%" stop-color="#ffa500"/></linearGradient><linearGradient id="f78"><stop offset="0%" stop-color="#ffc100"/><stop offset="12.5%" stop-color="#ffcf00"/><stop offset="25%" stop-color="#ffd900"/><stop offset="37.5%" stop-color="#ffde00"/><stop offset="50%" stop-color="#ffdd00"/><stop offset="62.5%" stop-color="#ffd800"/><stop offset="75%" stop-color="#ffce00"/><stop offset="87.5%" stop-color="#ffbe00"/><stop offset="100%" stop-color="#ffaa00"/></linearGradient><linearGradient id="f79"><stop offset="0%" stop-color="#ffc400"/><stop offset="12.5%" stop-color="#ffd300"/><stop offset="25%" stop-color="#ffdd00"/><stop offset="37.5%" stop-color="#ffe200"/><stop offset="50%" stop-color="#ffe200"/><stop offset="62.5%" stop-color="#ffdd00"/><stop offset="75%" stop-color="#ffd200"/><stop offset="87.5%" stop-color="#ffc300"/><stop offset="100%" stop-color="#ffaf00"/></linearGradient><linearGradient id="f80"><stop offset="0%" stop-color="#ffc800"/><stop offset="12.5%" stop-color="#ffd700"/><stop offset="25%" stop-color="#ffe100"/><stop offset="37.5%" stop-color="#ffe600"/><stop offset="50%" stop-color="#ffe600"/><stop offset="62.5%" stop-color="#ffe100"/><stop offset="75%" stop-color="#ffd700"/><stop offset="87.5%" stop-color="#ffc800"/><stop offset="100%" stop-color="#ffb400"/></linearGradient><linearGradient id="f81"><stop offset="0%" stop-color="#ffcd00"/><stop offset="12.5%" stop-color="#ffdc00"/><stop offset="25%" stop-color="#ffe600"/><stop offset="37.5%" stop-color="#ffeb00"/><stop offset="50%" stop-color="#ffeb00"/><stop offset="62.5%" stop-color="#ffe600"/><stop offset="75%" stop-color="#ffdc00"/><stop offset="87.5%" stop-color="#ffcd00"/><stop offset="100%" stop-color="#ffb900"/></linearGradient><linearGradient id="f82"><stop offset="0%" stop-color="#ffd100"/><stop offset="12.5%" stop-color="#ffe000"/><stop offset="25%" stop-color="#ffeb00"/><stop offset="37.5%" stop-color="#fff000"/><stop offset="50%" stop-color="#fff000"/><stop offset="62.5%" stop-color="#ffeb00"/><stop offset="75%" stop-color="#ffe100"/><stop offset="87.5%" stop-color="#ffd200"/><stop offset="100%" stop-color="#ffbe00"/></linearGradient><linearGradient id="f83"><stop offset="0%" stop-color="#ffd500"/><stop offset="12.5%" stop-color="#ffe500"/><stop offset="25%" stop-color="#ffef00"/><stop offset="37.5%" stop-color="#fff500"/><stop offset="50%" stop-color="#fff500"/><stop offset="62.5%" stop-color="#fff000"/><stop offset="75%" stop-color="#ffe600"/><stop offset="87.5%" stop-color="#ffd800"/><stop offset="100%" stop-color="#ffc400"/></linearGradient><linearGradient id="f84"><stop offset="0%" stop-color="#ffda00"/><stop offset="12.5%" stop-color="#ffea00"/><stop offset="25%" stop-color="#fff400"/><stop offset="37.5%" stop-color="#fffa00"/><stop offset="50%" stop-color="#fffa00"/><stop offset="62.5%" stop-color="#fff500"/><stop offset="75%" stop-color="#ffec00"/><stop offset="87.5%" stop-color="#ffdd00"/><stop offset="100%" stop-color="#ffc900"/></linearGradient><linearGradient id="f85"><stop offset="0%" stop-color="#ffdf00"/><stop offset="12.5%" stop-color="#ffef00"/><stop offset="25%" stop-color="#fff900"/><stop offset="37.5%" stop-color="#ffff00"/><stop offset="50%" stop-color="#ffff00"/><stop offset="62.5%" stop-color="#fffb00"/><stop offset="75%" stop-color="#fff100"/><stop offset="87.5%" stop-color="#ffe300"/><stop offset="100%" stop-color="#ffcf00"/></linearGradient></defs>
<g clip-path="url(#kf)"><g transform="translate(1055.2 0)"><g style="width:0">
<rect width="702.6" y="1591.8" height="7.8" fill="url(#f0)"/><rect width="702.6" y="1598.8" height="7.8" fill="url(#f1)"/><rect width="702.6" y="1605.8" height="7.8" fill="url(#f2)"/><rect width="702.6" y="1612.8" height="7.8" fill="url(#f3)"/><rect width="702.6" y="1619.8" height="7.8" fill="url(#f4)"/><rect width="702.6" y="1626.7" height="7.8" fill="url(#f5)"/><rect width="702.6" y="1633.7" height="7.8" fill="url(#f6)"/><rect width="702.6" y="1640.7" height="7.8" fill="url(#f7)"/><rect width="702.6" y="1647.7" height="7.8" fill="url(#f8)"/><rect width="702.6" y="1654.7" height="7.8" fill="url(#f9)"/><rect width="702.6" y="1661.7" height="7.8" fill="url(#f10)"/><rect width="702.6" y="1668.7" height="7.8" fill="url(#f11)"/><rect width="702.6" y="1675.7" height="7.8" fill="url(#f12)"/><rect width="702.6" y="1682.7" height="7.8" fill="url(#f13)"/><rect width="702.6" y="1689.7" height="7.8" fill="url(#f14)"/><rect width="702.6" y="1696.6" height="7.8" fill="url(#f15)"/><rect width="702.6" y="1703.6" height="7.8" fill="url(#f16)"/><rect width="702.6" y="1710.6" height="7.8" fill="url(#f17)"/><rect width="702.6" y="1717.6" height="7.8" fill="url(#f18)"/><rect width="702.6" y="1724.6" height="7.8" fill="url(#f19)"/><rect width="702.6" y="1731.6" height="7.8" fill="url(#f20)"/><rect width="702.6" y="1738.6" height="7.8" fill="url(#f21)"/><rect width="702.6" y="1745.6" height="7.8" fill="url(#f22)"/><rect width="702.6" y="1752.6" height="7.8" fill="url(#f23)"/><rect width="702.6" y="1759.5" height="7.8" fill="url(#f24)"/><rect width="702.6" y="1766.5" height="7.8" fill="url(#f25)"/><rect width="702.6" y="1773.5" height="7.8" fill="url(#f26)"/><rect width="702.6" y="1780.5" height="7.8" fill="url(#f27)"/><rect width="702.6" y="1787.5" height="7.8" fill="url(#f28)"/><rect width="702.6" y="1794.5" height="7.8" fill="url(#f29)"/><rect width="702.6" y="1801.5" height="7.8" fill="url(#f30)"/><rect width="702.6" y="1808.5" height="7.8" fill="url(#f31)"/><rect width="702.6" y="1815.5" height="7.8" fill="url(#f32)"/><rect width="702.6" y="1822.5" height="7.8" fill="url(#f33)"/><rect width="702.6" y="1829.4" height="7.8" fill="url(#f34)"/><rect width="702.6" y="1836.4" height="7.8" fill="url(#f35)"/><rect width="702.6" y="1843.4" height="7.8" fill="url(#f36)"/><rect width="702.6" y="1850.4" height="7.8" fill="url(#f37)"/><rect width="702.6" y="1857.4" height="7.8" fill="url(#f38)"/><rect width="702.6" y="1864.4" height="7.8" fill="url(#f39)"/><rect width="702.6" y="1871.4" height="7.8" fill="url(#f40)"/><rect width="702.6" y="1878.4" height="7.8" fill="url(#f41)"/><rect width="702.6" y="1885.4" height="7.8" fill="url(#f42)"/><rect width="702.6" y="1892.3" height="7.8" fill="url(#f43)"/><rect width="702.6" y="1899.3" height="7.8" fill="url(#f44)"/><rect width="702.6" y="1906.3" height="7.8" fill="url(#f45)"/><rect width="702.6" y="1913.3" height="7.8" fill="url(#f46)"/><rect width="702.6" y="1920.3" height="7.8" fill="url(#f47)"/><rect width="702.6" y="1927.3" height="7.8" fill="url(#f48)"/><rect width="702.6" y="1934.3" height="7.8" fill="url(#f49)"/><rect width="702.6" y="1941.3" height="7.8" fill="url(#f50)"/><rect width="702.6" y="1948.3" height="7.8" fill="url(#f51)"/><rect width="702.6" y="1955.3" height="7.8" fill="url(#f52)"/><rect width="702.6" y="1962.2" height="7.8" fill="url(#f53)"/><rect width="702.6" y="1969.2" height="7.8" fill="url(#f54)"/><rect width="702.6" y="1976.2" height="7.8" fill="url(#f55)"/><rect width="702.6" y="1983.2" height="7.8" fill="url(#f56)"/><rect width="702.6" y="1990.2" height="7.8" fill="url(#f57)"/><rect width="702.6" y="1997.2" height="7.8" fill="url(#f58)"/><rect width="702.6" y="2004.2" height="7.8" fill="url(#f59)"/><rect width="702.6" y="2011.2" height="7.8" fill="url(#f60)"/><rect width="702.6" y="2018.2" height="7.8" fill="url(#f61)"/><rect width="702.6" y="2025.2" height="7.8" fill="url(#f62)"/><rect width="702.6" y="2032.1" height="7.8" fill="url(#f63)"/><rect width="702.6" y="2039.1" height="7.8" fill="url(#f64)"/><rect width="702.6" y="2046.1" height="7.8" fill="url(#f65)"/><rect width="702.6" y="2053.1" height="7.8" fill="url(#f66)"/><rect width="702.6" y="2060.1" height="7.8" fill="url(#f67)"/><rect width="702.6" y="2067.1" height="7.8" fill="url(#f68)"/><rect width="702.6" y="2074.1" height="7.8" fill="url(#f69)"/><rect width="702.6" y="2081.1" height="7.8" fill="url(#f70)"/><rect width="702.6" y="2088.1" height="7.8" fill="url(#f71)"/><rect width="702.6" y="2095" height="7.8" fill="url(#f72)"/><rect width="702.6" y="2102" height="7.8" fill="url(#f73)"/><rect width="702.6" y="2109" height="7.8" fill="url(#f74)"/><rect width="702.6" y="2116" height="7.8" fill="url(#f75)"/><rect width="702.6" y="2123" height="7.8" fill="url(#f76)"/><rect width="702.6" y="2130" height="7.8" fill="url(#f77)"/><rect width="702.6" y="2137" height="7.8" fill="url(#f78)"/><rect width="702.6" y="2144" height="7.8" fill="url(#f79)"/><rect width="702.6" y="2151" height="7.8" fill="url(#f80)"/><rect width="702.6" y="2158" height="7.8" fill="url(#f81)"/><rect width="702.6" y="2164.9" height="7.8" fill="url(#f82)"/><rect width="702.6" y="2171.9" height="7.8" fill="url(#f83)"/><rect width="702.6" y="2178.9" height="7.8" fill="url(#f84)"/><rect width="702.6" y="2185.9" height="7.8" fill="url(#f85)"/>
</g></g>
<path d="M1055.2 1644.1 1060.8 1644.6 1066.5 1645.2 1070.7 1645.6 1076.3 1646 1080.6 1646.4 1086.2 1646.9 1091.8 1647.3 1096.1 1647.6 1101.7 1648 1107.3 1648.4 1112.9 1648.8 1117.2 1649 1122.8 1649.3 1128.4 1649.6 1134 1649.9 1138.3 1650.1 1143.9 1650.4 1149.5 1650.6 1155.2 1650.8 1160.8 1651 1166.4 1651.1 1170.7 1651.2 1176.3 1651.4 1181.9 1651.5 1187.6 1651.5 1193.2 1651.6 1198.8 1651.6 1204.4 1651.6 1210.1 1651.6 1215.7 1651.6 1221.3 1651.5 1227 1651.4 1232.6 1651.3 1237.2 1651.2 1242.5 1651.1 1248.1 1650.9 1253.7 1650.7 1259.4 1650.5 1265 1650.3 1270.4 1650 1274.9 1649.8 1280.5 1649.5 1286.1 1649.2 1291.7 1648.8 1296 1648.5 1301.6 1648.2 1307.2 1647.7 1311.5 1647.4 1317.1 1647 1322.7 1646.5 1326.9 1646.1 1332.6 1645.6 1336.8 1645.2 1342.4 1644.6 1348.1 1644 1352.3 1643.6 1357.9 1643 1362.1 1642.5 1367.8 1641.8 1372 1641.3 1377.6 1640.6 1381.9 1640.1 1387.5 1639.3 1391.7 1638.7 1397.3 1638 1401.6 1637.4 1405.8 1636.7 1411.4 1635.9 1415.7 1635.3 1421.3 1634.4 1425.5 1633.7 1429.7 1633 1435.4 1632.1 1439.6 1631.4 1443.8 1630.7 1449.4 1629.7 1453.7 1628.9 1457.9 1628.2 1463.4 1627.1 1467.7 1626.3 1472 1625.5 1476.2 1624.7 1481.8 1623.6 1486.1 1622.7 1490.3 1621.9 1494.5 1621 1499.8 1619.9 1504.4 1618.9 1508.6 1618 1512.8 1617.1 1517 1616.2 1522 1615.1 1526.9 1614 1531.1 1613 1535.3 1612 1539.6 1611.1 1543.8 1610.1 1548 1609.1 1553 1607.9 1557.9 1606.7 1562.1 1605.6 1566.3 1604.6 1570.5 1603.5 1574.8 1602.4 1579 1601.3 1583.2 1600.3 1587.4 1599.2 1591.7 1598 1595.9 1596.9 1600.1 1595.8 1604.4 1594.6 1608.9 1593.4 1613.2 1592.2 M1055.2 1733.5 1060.4 1734.3 1065.1 1735.1 1069.3 1735.7 1074.9 1736.6 1079.1 1737.2 1084.4 1738 1089 1738.6 1093.2 1739.2 1098.8 1739.9 1103.1 1740.5 1108.7 1741.2 1112.9 1741.7 1118.6 1742.3 1122.8 1742.8 1128.4 1743.4 1134 1744 1138.3 1744.4 1143.9 1744.9 1148.1 1745.3 1153.8 1745.7 1159.4 1746.2 1163.6 1746.5 1169.2 1746.9 1174.9 1747.3 1180.5 1747.6 1184.7 1747.8 1190.4 1748.1 1196 1748.3 1201.6 1748.5 1207.3 1748.7 1211.5 1748.8 1217.1 1748.9 1222.8 1749 1228.4 1749.1 1234 1749.1 1239.7 1749.1 1245.3 1749 1250.9 1748.9 1256.5 1748.8 1260.8 1748.7 1266.4 1748.5 1272 1748.3 1277.7 1748.1 1283.3 1747.8 1287.5 1747.6 1293.2 1747.2 1298.8 1746.8 1304.4 1746.4 1308.6 1746.1 1314.3 1745.6 1318.9 1745.2 1324.1 1744.7 1329.8 1744.1 1334 1743.7 1339.6 1743 1343.8 1742.5 1349.5 1741.8 1353.7 1741.3 1359.3 1740.6 1363.6 1740 1369.2 1739.2 1373.4 1738.5 1377.6 1737.9 1383.3 1737 1387.5 1736.3 1391.9 1735.5 1397.3 1734.6 1401.6 1733.9 1405.8 1733.1 1411.4 1732 1415.7 1731.2 1419.9 1730.4 1424.2 1729.5 1429.7 1728.4 1434 1727.5 1438.2 1726.6 1442.4 1725.7 1446.8 1724.7 1452.1 1723.5 1456.5 1722.5 1460.7 1721.5 1464.9 1720.5 1469.2 1719.5 1473.4 1718.4 1477.6 1717.4 1482 1716.3 1486.7 1715.1 1491.3 1713.9 1495.8 1712.7 1500.1 1711.5 1504.4 1710.4 1508.6 1709.2 1512.8 1708 1517 1706.8 1521.3 1705.6 1525.5 1704.4 1529.7 1703.2 1533.9 1701.9 1538.1 1700.7 1542.4 1699.4 1546.3 1698.2 1550.3 1697 1554.2 1695.8 1558 1694.6 1562.1 1693.3 1566.3 1692 1570.5 1690.6 1574.8 1689.3 1579 1687.9 1583.2 1686.5 1587.4 1685.1 1591.5 1683.8 1595.1 1682.5 1598.7 1681.3 1602.9 1679.9 1607.1 1678.4 1611.4 1677 1615.6 1675.5 1619.6 1674.1 1623 1672.9 1626.9 1671.6 1631.1 1670.1 1635.3 1668.5 1639.5 1667 1643.2 1665.7 1646.6 1664.5 1650.8 1662.9 1655 1661.4 1659.2 1659.8 1662.8 1658.5 1666.3 1657.2 1670.5 1655.6 1674.7 1654 1678.8 1652.4 1682 1651.2 1686 1649.7 1690.2 1648.1 1694.4 1646.4 1697.6 1645.2 1701.5 1643.7 1705.7 1642 1709.9 1640.4 1713 1639.2 1717 1637.6 1721.2 1635.9 1725.1 1634.4 1728.2 1633.1 1732.5 1631.4 1736.7 1629.7 1740.1 1628.3 1743.7 1626.9 1747.9 1625.1 1751.9 1623.5 1755 1622.3 1757.8 1621.1 M1702.2 2193.3 1697.5 2192.1 1693 2191 1688.8 2189.9 1684.6 2188.8 1680.4 2187.8 1676.1 2186.8 1671.9 2185.7 1667.7 2184.7 1663.3 2183.7 1658.3 2182.5 1653.6 2181.4 1649.4 2180.4 1645.2 2179.4 1640.9 2178.4 1636.7 2177.5 1632.1 2176.4 1626.9 2175.3 1622.6 2174.3 1618.4 2173.4 1614.2 2172.5 1609.9 2171.6 1604.3 2170.4 1600.1 2169.6 1595.9 2168.7 1591.7 2167.9 1586.4 2166.8 1581.8 2165.9 1577.6 2165.1 1573.3 2164.3 1567.7 2163.2 1563.5 2162.5 1559.3 2161.7 1554.1 2160.8 1549.4 2160 1545.2 2159.2 1540.1 2158.4 1535.3 2157.6 1531.1 2156.9 1525.5 2156 1521.3 2155.4 1517 2154.7 1511.4 2153.9 1507.2 2153.3 1501.5 2152.5 1497.3 2151.9 1491.7 2151.2 1487.5 2150.7 1481.8 2150 1477.6 2149.5 1472 2148.8 1467.7 2148.4 1462.1 2147.8 1457.9 2147.3 1452.3 2146.8 1447.2 2146.3 1442.4 2145.9 1436.8 2145.4 1432.5 2145.1 1426.9 2144.7 1421.3 2144.3 1415.7 2143.9 1411.4 2143.7 1405.8 2143.4 1400.2 2143.1 1394.5 2142.9 1389.3 2142.7 1384.7 2142.6 1379 2142.4 1373.4 2142.3 1367.8 2142.2 1362.1 2142.2 1356.5 2142.2 1350.9 2142.2 1345.3 2142.2 1339.6 2142.3 1334 2142.5 1328.4 2142.6 1324.1 2142.8 1318.5 2143 1312.9 2143.2 1307.2 2143.5 1301.6 2143.8 1297.4 2144.1 1291.7 2144.5 1286.1 2144.9 1281.9 2145.2 1276.3 2145.7 1270.6 2146.2 1266.4 2146.7 1260.8 2147.2 1256.5 2147.7 1250.9 2148.3 1246.7 2148.8 1241.1 2149.5 1236.8 2150.1 1231.2 2150.8 1227 2151.4 1221.3 2152.2 1217.1 2152.9 1212.7 2153.5 1207.3 2154.4 1203 2155.1 1198.1 2156 1193.2 2156.8 1189 2157.6 1184.6 2158.4 1179.1 2159.4 1174.9 2160.2 1170.7 2161 1166 2162 1160.8 2163.1 1156.6 2163.9 1152.4 2164.9 1148.1 2165.8 1143.6 2166.8 1138.3 2168 1134 2169 1129.8 2170 1125.6 2171 1121.4 2172 1117.2 2173.1 1112.9 2174.1 1108.5 2175.2 1103.8 2176.4 1099.2 2177.6 1094.7 2178.8 1090.4 2180 1086.2 2181.2 1082 2182.3 1077.7 2183.5 1073.5 2184.7 1069.3 2185.9 1065.1 2187.1 1060.8 2188.4 1056.6 2189.6 1055.2 2190 M1757.8 2107.9 1754.9 2106.6 1750.8 2104.7 1747 2103 1743.7 2101.4 1739.5 2099.5 1736.6 2098.1 1732.5 2096.2 1728.8 2094.5 1725.4 2093 1721.2 2091 1718.4 2089.7 1714.2 2087.7 1710.8 2086.1 1707.1 2084.3 1703.2 2082.5 1700.1 2081 1695.8 2079 1693 2077.6 1688.8 2075.6 1685.6 2074 1681.8 2072.2 1678.2 2070.4 1674.7 2068.7 1670.8 2066.8 1667.7 2065.3 1663.6 2063.2 1660.6 2061.7 1656.4 2059.6 1653.6 2058.2 1649.4 2056.1 1646.6 2054.6 1642.3 2052.4 1639.5 2051 1635.3 2048.8 1632.5 2047.3 1628.4 2045.1 1625.4 2043.6 1621.6 2041.5 1618.4 2039.8 1615 2037.9 1611.4 2035.9 1608.4 2034.3 1604.3 2032 1601.5 2030.4 1597.8 2028.3 1594.5 2026.4 1591.5 2024.7 1587.5 2022.2 1584.6 2020.5 1581.5 2018.6 1577.6 2016.2 1574.8 2014.5 1571.9 2012.6 1568.1 2010.2 1564.9 2008.1 1562.1 2006.2 1559.1 2004.2 1555.7 2001.8 1552.3 1999.4 1549.4 1997.2 1546.6 1995.1 1543.8 1992.9 1541 1990.7 1538.1 1988.4 1535.3 1986 1532.5 1983.6 1529.7 1981 1526.9 1978.3 1524.1 1975.4 1521.7 1972.9 1519.5 1970.4 1517 1967.4 1514.7 1964.4 1512.8 1961.7 1510.7 1958.4 1508.7 1954.8 1507.2 1951.7 1505.8 1948.3 1504.4 1943.9 1503.5 1940.3 1502.9 1936.5 1502.7 1931.9 1502.9 1927.1 1503.4 1923.5 1504.4 1919.4 1505.7 1915 1507.1 1911.4 1508.6 1908.1 1510 1905.3 1512 1901.8 1514.2 1898.2 1515.9 1895.8 1518.4 1892.2 1520.3 1889.7 1522.7 1886.9 1525.3 1883.7 1527.5 1881.3 1529.7 1878.9 1532.5 1875.9 1535.3 1873.1 1538 1870.5 1540.5 1868.1 1543.1 1865.6 1545.8 1863.2 1548.5 1860.8 1551.2 1858.4 1554 1856 1556.9 1853.6 1559.8 1851.2 1562.8 1848.8 1565.8 1846.4 1568.8 1844 1571.9 1841.6 1574.8 1839.4 1577.6 1837.2 1580.4 1835.1 1583.2 1833 1586.3 1830.7 1589.6 1828.3 1593 1825.9 1595.9 1823.8 1598.7 1821.8 1601.5 1819.8 1604.9 1817.5 1608.3 1815.1 1611.4 1813 1614.2 1811 1617.1 1809 1620.7 1806.6 1624 1804.4 1626.9 1802.5 1629.7 1800.6 1633.4 1798.2 1636.7 1796 1639.5 1794.1 1642.6 1792.2 1646.3 1789.8 1649.4 1787.8 1652.2 1785.9 1655.7 1783.7 1659.2 1781.4 1662.1 1779.7 1665.1 1777.7 1669 1775.3 1671.9 1773.4 1674.7 1771.7 1678.6 1769.3 1681.8 1767.3 1684.6 1765.5 1688.3 1763.3 1691.6 1761.2 1694.4 1759.5 1698.1 1757.2 1701.5 1755.2 1704.3 1753.4 1707.9 1751.2 1711.3 1749.2 1714.2 1747.4 1717.9 1745.2 1721.2 1743.2 1724 1741.5 1727.9 1739.2 1731 1737.3 1733.9 1735.5 1738 1733.1 1740.9 1731.4 1744 1729.5 1747.9 1727.2 1750.8 1725.5 1754.2 1723.5 1757.8 1721.4 M1055.2 1904.4 1058 1906.9 1060.8 1909.4 1063.6 1912 1066.5 1914.8 1069 1917.4 1071.1 1919.9 1073.5 1922.6 1076.1 1925.9 1077.8 1928.3 1080.2 1931.9 1082 1934.9 1083.5 1937.9 1085.2 1941.5 1086.5 1945.2 1087.6 1949.1 1088.4 1953.6 1088.8 1958.4 1088.6 1963.2 1088 1968 1087.2 1971.7 1086.1 1975.3 1084.8 1979 1083.2 1982.5 1081.4 1986.1 1079.3 1989.7 1077.7 1992.3 1075.4 1995.7 1073.5 1998.4 1070.9 2001.8 1069 2004.2 1066.5 2007.2 1063.8 2010.2 1061.6 2012.6 1059.3 2015 1056.6 2017.7 1055.2 2019.1" fill="none" stroke="#000" stroke-width="1.3"/>
</g>
<rect x="1341.5" y="1626.7" width="24.5" height="17" fill="#fff" stroke="#111" stroke-width="1.4"/>
<text x="1353.8" y="1639.9" class="tk" font-size="13" text-anchor="middle" textLength="15.5" lengthAdjust="spacingAndGlyphs">80</text>
<rect x="1429.5" y="1709.2" width="24.5" height="17" fill="#fff" stroke="#111" stroke-width="1.4"/>
<text x="1441.8" y="1722.4" class="tk" font-size="13" text-anchor="middle" textLength="15.5" lengthAdjust="spacingAndGlyphs">85</text>
<rect x="1491.2" y="1906.2" width="24.5" height="17" fill="#fff" stroke="#111" stroke-width="1.4"/>
<text x="1503.4" y="1919.4" class="tk" font-size="13" text-anchor="middle" textLength="15.5" lengthAdjust="spacingAndGlyphs">90</text>
<rect x="1077.5" y="1943.9" width="24.5" height="17" fill="#fff" stroke="#111" stroke-width="1.4"/>
<text x="1089.8" y="1957.1" class="tk" font-size="13" text-anchor="middle" textLength="15.5" lengthAdjust="spacingAndGlyphs">90</text>
<rect x="1377.2" y="2126.1" width="24.5" height="17" fill="#fff" stroke="#111" stroke-width="1.4"/>
<text x="1389.4" y="2139.3" class="tk" font-size="13" text-anchor="middle" textLength="15.5" lengthAdjust="spacingAndGlyphs">85</text>
<rect x="1055.2" y="1592.2" width="702.6" height="601.1" fill="none" stroke="#111" stroke-width="1.6"/>
<text x="1030.1" y="1596.8" class="tk" font-size="12.6" text-anchor="end" textLength="7.6" lengthAdjust="spacingAndGlyphs">9</text>
<text x="1030.1" y="1747.1" class="tk" font-size="12.6" text-anchor="end" textLength="7.6" lengthAdjust="spacingAndGlyphs">8</text>
<text x="1030.1" y="1897.3" class="tk" font-size="12.6" text-anchor="end" textLength="7.6" lengthAdjust="spacingAndGlyphs">7</text>
<text x="1030.1" y="2047.6" class="tk" font-size="12.6" text-anchor="end" textLength="7.6" lengthAdjust="spacingAndGlyphs">6</text>
<text x="1030.1" y="2197.9" class="tk" font-size="12.6" text-anchor="end" textLength="7.6" lengthAdjust="spacingAndGlyphs">5</text>
<text x="1055.2" y="2225.6" class="tk" font-size="12.6" text-anchor="middle" textLength="15.2" lengthAdjust="spacingAndGlyphs">40</text>
<text x="1230.8" y="2225.6" class="tk" font-size="12.6" text-anchor="middle" textLength="15.2" lengthAdjust="spacingAndGlyphs">50</text>
<text x="1406.5" y="2225.6" class="tk" font-size="12.6" text-anchor="middle" textLength="15.2" lengthAdjust="spacingAndGlyphs">60</text>
<text x="1582.2" y="2225.6" class="tk" font-size="12.6" text-anchor="middle" textLength="15.2" lengthAdjust="spacingAndGlyphs">70</text>
<text x="1757.8" y="2225.6" class="tk" font-size="12.6" text-anchor="middle" textLength="15.2" lengthAdjust="spacingAndGlyphs">80</text>
<path d="M1038.2 1592.2H1055.2M1038.2 1742.5H1055.2M1038.2 1892.8H1055.2M1038.2 2043H1055.2M1038.2 2193.3H1055.2M1055.2 2193.3V2208.3M1230.8 2193.3V2208.3M1406.5 2193.3V2208.3M1582.2 2193.3V2208.3M1757.8 2193.3V2208.3" stroke="#222" stroke-width="1.7" fill="none"/>
<ellipse cx="1406.5" cy="1892.8" rx="7.7" ry="6.5" fill="#c00000" stroke="#000" stroke-width="1.5"/>
<text x="1394.5" y="1897.3" class="tk" font-size="12.6" text-anchor="end" textLength="7.6" lengthAdjust="spacingAndGlyphs">6</text>
<text x="4.8" y="61.4" class="ti" font-size="48" textLength="54.8" lengthAdjust="spacingAndGlyphs">(a)</text>
<text x="10.1" y="860.6" class="ti" font-size="44.8" textLength="51.2" lengthAdjust="spacingAndGlyphs">(c)</text>
<text x="16.3" y="1661.7" class="ti" font-size="48.1" textLength="52" lengthAdjust="spacingAndGlyphs">(e)</text>
<text x="946.7" y="104.5" class="ti" font-size="36.5" textLength="54" lengthAdjust="spacingAndGlyphs">(b)</text>
<text x="946.7" y="861.1" class="ti" font-size="37.5" textLength="54.4" lengthAdjust="spacingAndGlyphs">(d)</text>
<text x="960.4" y="1652.4" class="ti" font-size="37.5" textLength="45.1" lengthAdjust="spacingAndGlyphs">(f)</text>
<text transform="translate(48.3 421) rotate(-90)" class="ti" font-size="34.5" textLength="239.5" lengthAdjust="spacingAndGlyphs">R1 (removal %)</text>
<text transform="translate(41.9 1195.5) rotate(-90)" class="ti" font-size="38.8" textLength="280" lengthAdjust="spacingAndGlyphs">R1 (Removal %)</text>
<text transform="translate(49 2003.4) rotate(-90)" class="ti" font-size="39.5" textLength="283" lengthAdjust="spacingAndGlyphs">R1 (Removal %)</text>
<text x="46.3" y="673.8" class="ti" font-size="33.8" textLength="244.5" lengthAdjust="spacingAndGlyphs">B: CIPF dosage</text>
<text x="684.7" y="619.4" class="ti" font-size="34.3" textLength="170.5" lengthAdjust="spacingAndGlyphs">A: Catalyst</text>
<text x="745.2" y="655.2" class="ti" font-size="34.3" textLength="104.1" lengthAdjust="spacingAndGlyphs">dosage</text>
<text x="21" y="1425.8" class="ti" font-size="39.2" textLength="272" lengthAdjust="spacingAndGlyphs">C: Shaking time</text>
<text x="666.3" y="1396.2" class="ti" font-size="38.6" textLength="191.6" lengthAdjust="spacingAndGlyphs">A: Catalyst</text>
<text x="717.3" y="1438.1" class="ti" font-size="38.6" textLength="112.2" lengthAdjust="spacingAndGlyphs">dosage</text>
<text x="159.7" y="2232.3" class="ti" font-size="39.7" textLength="105" lengthAdjust="spacingAndGlyphs">D: pH</text>
<text x="680.5" y="2191.6" class="ti" font-size="38" textLength="192.5" lengthAdjust="spacingAndGlyphs">A: Catalyst</text>
<text x="741.7" y="2234" class="ti" font-size="38" textLength="113.8" lengthAdjust="spacingAndGlyphs">dosage</text>
<text x="1272.1" y="31" class="ti" font-size="32.2" textLength="265.5" lengthAdjust="spacingAndGlyphs">R1 (Removal %)</text>
<text x="1264.3" y="799" class="ti" font-size="32.2" textLength="268.5" lengthAdjust="spacingAndGlyphs">R1 (Removal %)</text>
<text x="1267.9" y="1580.6" class="ti" font-size="32.2" textLength="268.5" lengthAdjust="spacingAndGlyphs">R1 (Removal %)</text>
<text x="1251.7" y="710.2" class="ti" font-size="32.3" textLength="297.7" lengthAdjust="spacingAndGlyphs">A: Catalyst dosage</text>
<text x="1225.5" y="1496.8" class="ti" font-size="32.3" textLength="300.2" lengthAdjust="spacingAndGlyphs">A: Catalyst dosage</text>
<text x="1251.9" y="2267.1" class="ti" font-size="32.3" textLength="300.9" lengthAdjust="spacingAndGlyphs">A: Catalyst dosage</text>
<text transform="translate(977.5 440.7) scale(1.15 1) rotate(-90)" class="ti" font-size="32.3" textLength="214" lengthAdjust="spacingAndGlyphs">B: CIPF dosage</text>
<text transform="translate(969.3 1202.8) scale(1.15 1) rotate(-90)" class="ti" font-size="32.3" textLength="224.5" lengthAdjust="spacingAndGlyphs">C: Shaking time</text>
<text transform="translate(990.7 1937.5) scale(1.15 1) rotate(-90)" class="ti" font-size="32.3" textLength="85.4" lengthAdjust="spacingAndGlyphs">D: pH</text>
</svg></body></html>
